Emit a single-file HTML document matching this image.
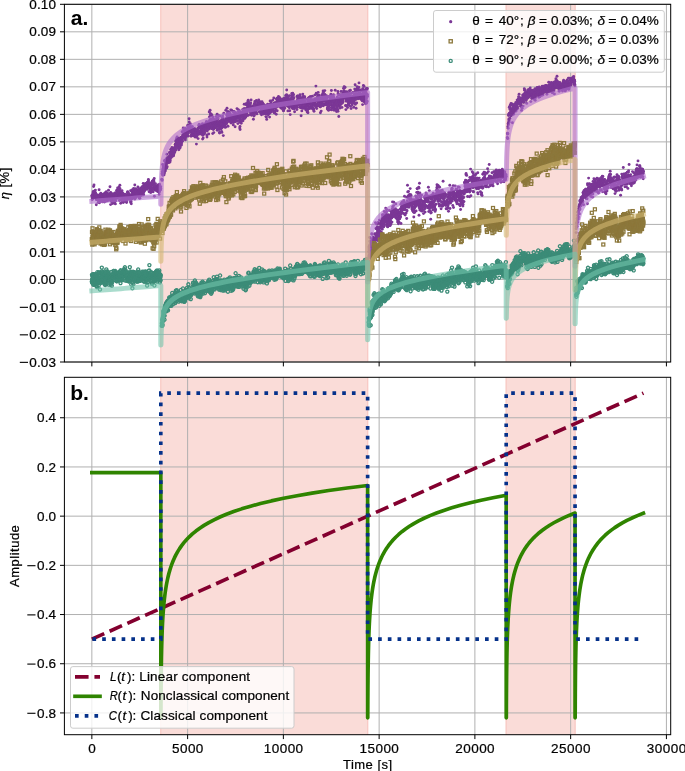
<!DOCTYPE html><html><head><meta charset="utf-8"><style>html,body{margin:0;padding:0;background:#fff}svg{display:block;will-change:transform}text{font-family:"Liberation Sans",sans-serif;stroke:#000;stroke-width:0.22px;paint-order:stroke}</style></head><body>
<svg width="685" height="771" viewBox="0 0 685 771">
<defs>
<clipPath id="c1"><rect x="64.4" y="4.3" width="606.3000000000001" height="357.7"/></clipPath>
<clipPath id="c2"><rect x="64.4" y="377.3" width="606.3000000000001" height="357.40000000000003"/></clipPath>
<marker id="m_purple" markerUnits="userSpaceOnUse" markerWidth="6" markerHeight="6" refX="3" refY="3" overflow="visible"><circle cx="3" cy="3" r="1.45" fill="#7b3796"/></marker>
<marker id="m_olive" markerUnits="userSpaceOnUse" markerWidth="8" markerHeight="8" refX="4" refY="4" overflow="visible"><rect x="2.5" y="2.5" width="3" height="3" fill="none" stroke="#8c783c" stroke-width="1.25"/></marker>
<marker id="m_teal" markerUnits="userSpaceOnUse" markerWidth="8" markerHeight="8" refX="4" refY="4" overflow="visible"><circle cx="4" cy="4" r="1.55" fill="none" stroke="#3c8c78" stroke-width="1.3"/></marker>
</defs>
<rect width="685" height="771" fill="#fff"/>
<rect x="160.20" y="4.3" width="208.04" height="357.70" fill="#fadcd8"/>
<path d="M160.80 4.3V362.0M367.64 4.3V362.0" stroke="#f8cac5" stroke-width="1.2"/>
<rect x="505.60" y="4.3" width="70.05" height="357.70" fill="#fadcd8"/>
<path d="M506.20 4.3V362.0M575.05 4.3V362.0" stroke="#f8cac5" stroke-width="1.2"/>
<path d="M91.85 4.3V362.0M187.61 4.3V362.0M283.37 4.3V362.0M379.13 4.3V362.0M474.89 4.3V362.0M570.65 4.3V362.0M666.41 4.3V362.0M64.4 4.30H670.7M64.4 31.82H670.7M64.4 59.33H670.7M64.4 86.84H670.7M64.4 114.36H670.7M64.4 141.88H670.7M64.4 169.39H670.7M64.4 196.91H670.7M64.4 224.42H670.7M64.4 251.94H670.7M64.4 279.45H670.7M64.4 306.97H670.7M64.4 334.48H670.7M64.4 362.00H670.7" stroke="#b0b0b0" stroke-width="1" fill="none"/>
<g clip-path="url(#c1)">
<polyline points="91.8 195.6 92.0 197.0 92.1 199.1 92.2 195.7 92.3 199.5 92.4 195.0 92.5 198.9 92.7 195.6 92.8 196.8 92.9 194.5 93.0 194.2 93.1 192.4 93.2 196.3 93.3 191.4 93.5 194.1 93.6 186.5 93.7 194.4 93.8 197.8 93.9 192.1 94.0 185.0 94.1 191.9 94.3 191.8 94.4 192.2 94.5 194.4 94.6 191.0 94.7 191.8 94.8 193.4 95.0 197.7 95.1 193.4 95.2 196.1 95.3 194.4 95.4 190.1 95.5 192.8 95.6 193.6 95.8 196.3 95.9 194.6 96.0 194.1 96.1 198.9 96.2 195.7 96.3 204.8 96.4 199.6 96.6 196.3 96.7 199.4 96.8 199.6 96.9 194.9 97.0 198.3 97.1 197.7 97.3 196.6 97.4 199.6 97.5 197.4 97.6 199.9 97.7 199.8 97.8 199.4 97.9 198.7 98.1 202.4 98.2 198.2 98.3 198.7 98.4 196.8 98.5 195.8 98.6 196.5 98.7 198.5 98.9 196.4 99.0 196.0 99.1 189.8 99.2 197.5 99.3 195.2 99.4 202.8 99.5 200.1 99.7 202.1 99.8 197.5 99.9 194.5 100.0 200.5 100.1 199.1 100.2 200.1 100.4 194.9 100.5 195.2 100.6 195.2 100.7 198.6 100.8 193.2 100.9 197.0 101.0 198.9 101.2 197.0 101.3 199.0 101.4 199.1 101.5 195.5 101.6 196.9 101.7 198.7 101.8 195.1 102.0 196.5 102.1 197.4 102.2 199.5 102.3 201.7 102.4 195.1 102.5 196.1 102.7 196.5 102.8 200.0 102.9 201.8 103.0 194.3 103.1 198.9 103.2 199.8 103.3 197.8 103.5 197.5 103.6 194.3 103.7 196.7 103.8 200.5 103.9 201.5 104.0 201.2 104.1 196.6 104.3 195.3 104.4 195.7 104.5 202.0 104.6 198.0 104.7 200.0 104.8 193.1 104.9 196.4 105.1 199.3 105.2 196.4 105.3 199.3 105.4 193.1 105.5 194.6 105.6 199.8 105.8 192.4 105.9 192.9 106.0 201.1 106.1 192.7 106.2 196.8 106.3 191.7 106.4 193.1 106.6 195.7 106.7 194.0 106.8 193.8 106.9 197.6 107.0 200.9 107.1 198.9 107.2 193.8 107.4 194.0 107.5 194.0 107.6 199.7 107.7 198.5 107.8 199.0 107.9 194.4 108.1 197.2 108.2 200.2 108.3 194.8 108.4 194.8 108.5 190.3 108.6 196.7 108.7 197.9 108.9 195.2 109.0 200.0 109.1 193.6 109.2 196.5 109.3 197.9 109.4 195.7 109.5 199.4 109.7 197.8 109.8 194.4 109.9 195.3 110.0 186.8 110.1 195.7 110.2 200.0 110.4 194.8 110.5 195.2 110.6 204.6 110.7 192.4 110.8 194.9 110.9 193.6 111.0 194.3 111.2 194.4 111.3 201.6 111.4 197.9 111.5 196.1 111.6 198.3 111.7 196.3 111.8 196.7 112.0 198.1 112.1 200.2 112.2 196.5 112.3 194.0 112.4 201.2 112.5 202.0 112.6 203.5 112.8 198.6 112.9 199.3 113.0 202.4 113.1 197.4 113.2 199.0 113.3 197.5 113.5 197.0 113.6 193.8 113.7 196.0 113.8 201.9 113.9 196.7 114.0 195.3 114.1 199.1 114.3 203.1 114.4 199.6 114.5 200.5 114.6 202.0 114.7 195.4 114.8 196.7 114.9 201.6 115.1 198.8 115.2 193.2 115.3 198.2 115.4 203.9 115.5 192.7 115.6 196.5 115.8 200.8 115.9 194.2 116.0 196.7 116.1 195.5 116.2 198.0 116.3 196.8 116.4 196.8 116.6 193.6 116.7 194.0 116.8 190.6 116.9 190.2 117.0 198.4 117.1 194.4 117.2 195.7 117.4 192.2 117.5 193.4 117.6 188.0 117.7 197.7 117.8 194.8 117.9 191.0 118.0 192.7 118.2 196.9 118.3 196.8 118.4 193.3 118.5 189.6 118.6 194.0 118.7 193.2 118.9 196.8 119.0 187.3 119.1 190.8 119.2 194.9 119.3 195.1 119.4 200.5 119.5 196.8 119.7 200.1 119.8 197.5 119.9 185.2 120.0 188.8 120.1 195.5 120.2 194.3 120.3 194.1 120.5 196.4 120.6 195.4 120.7 203.2 120.8 195.2 120.9 194.4 121.0 191.3 121.2 193.8 121.3 192.4 121.4 199.7 121.5 193.1 121.6 196.3 121.7 196.8 121.8 198.3 122.0 190.6 122.1 201.1 122.2 193.1 122.3 192.7 122.4 198.1 122.5 193.3 122.6 194.1 122.8 195.5 122.9 197.7 123.0 199.9 123.1 194.2 123.2 194.3 123.3 202.5 123.5 196.4 123.6 199.7 123.7 197.5 123.8 195.5 123.9 200.1 124.0 195.9 124.1 197.0 124.3 197.0 124.4 198.0 124.5 197.6 124.6 199.4 124.7 197.2 124.8 194.1 124.9 200.4 125.1 200.6 125.2 201.4 125.3 201.0 125.4 199.1 125.5 198.1 125.6 199.6 125.7 199.8 125.9 199.1 126.0 199.9 126.1 196.5 126.2 198.8 126.3 197.6 126.4 196.7 126.6 202.5 126.7 195.8 126.8 200.2 126.9 200.7 127.0 198.9 127.1 198.9 127.2 195.0 127.4 195.8 127.5 192.3 127.6 193.7 127.7 191.6 127.8 196.2 127.9 196.0 128.0 198.2 128.2 196.7 128.3 193.7 128.4 193.1 128.5 195.2 128.6 196.6 128.7 198.6 128.9 197.2 129.0 195.6 129.1 198.1 129.2 194.2 129.3 197.5 129.4 198.1 129.5 198.8 129.7 195.4 129.8 198.9 129.9 199.2 130.0 195.8 130.1 196.4 130.2 195.9 130.3 196.8 130.5 199.1 130.6 190.7 130.7 202.6 130.8 201.4 130.9 201.5 131.0 198.8 131.1 195.4 131.3 203.8 131.4 194.9 131.5 195.3 131.6 194.6 131.7 198.9 131.8 196.2 132.0 190.0 132.1 197.0 132.2 192.0 132.3 198.7 132.4 194.8 132.5 192.3 132.6 196.9 132.8 191.1 132.9 194.5 133.0 191.4 133.1 195.7 133.2 194.6 133.3 197.9 133.4 193.9 133.6 188.5 133.7 193.3 133.8 191.8 133.9 189.1 134.0 191.2 134.1 194.1 134.3 195.3 134.4 191.8 134.5 191.7 134.6 192.6 134.7 197.3 134.8 185.0 134.9 199.1 135.1 195.3 135.2 191.9 135.3 195.8 135.4 190.1 135.5 196.9 135.6 193.6 135.7 188.6 135.9 192.2 136.0 197.5 136.1 191.5 136.2 193.4 136.3 195.2 136.4 195.0 136.6 194.8 136.7 189.7 136.8 196.2 136.9 196.0 137.0 193.2 137.1 193.8 137.2 193.2 137.4 192.7 137.5 192.9 137.6 195.6 137.7 189.9 137.8 191.0 137.9 186.9 138.0 191.2 138.2 194.3 138.3 192.2 138.4 195.8 138.5 190.5 138.6 189.7 138.7 191.9 138.8 191.6 139.0 189.3 139.1 191.0 139.2 198.1 139.3 193.9 139.4 190.1 139.5 189.4 139.7 192.9 139.8 195.9 139.9 198.3 140.0 193.2 140.1 195.6 140.2 193.0 140.3 195.3 140.5 190.3 140.6 188.0 140.7 195.7 140.8 191.3 140.9 189.8 141.0 193.5 141.1 189.9 141.3 192.9 141.4 193.9 141.5 191.3 141.6 188.9 141.7 188.5 141.8 190.1 142.0 190.3 142.1 190.1 142.2 189.4 142.3 186.9 142.4 188.3 142.5 186.8 142.6 195.0 142.8 188.4 142.9 194.5 143.0 187.4 143.1 186.5 143.2 183.4 143.3 192.9 143.4 191.8 143.6 188.9 143.7 194.7 143.8 191.2 143.9 190.1 144.0 191.7 144.1 188.0 144.2 184.8 144.4 188.9 144.5 188.9 144.6 187.8 144.7 190.5 144.8 185.6 144.9 186.4 145.1 184.9 145.2 186.8 145.3 184.9 145.4 186.4 145.5 183.4 145.6 187.9 145.7 184.9 145.9 187.9 146.0 187.1 146.1 188.6 146.2 185.1 146.3 187.9 146.4 187.5 146.5 187.3 146.7 184.3 146.8 188.4 146.9 183.2 147.0 189.4 147.1 188.4 147.2 186.4 147.4 182.2 147.5 188.0 147.6 185.8 147.7 186.0 147.8 184.3 147.9 188.4 148.0 183.9 148.2 187.4 148.3 185.4 148.4 179.4 148.5 180.8 148.6 183.6 148.7 187.1 148.8 184.7 149.0 182.6 149.1 191.7 149.2 187.2 149.3 187.3 149.4 187.0 149.5 185.7 149.7 183.0 149.8 188.1 149.9 191.2 150.0 185.4 150.1 188.8 150.2 184.7 150.3 185.3 150.5 186.0 150.6 192.5 150.7 189.2 150.8 190.4 150.9 189.3 151.0 185.0 151.1 188.7 151.3 187.6 151.4 183.3 151.5 192.0 151.6 187.5 151.7 190.7 151.8 189.3 151.9 184.3 152.1 183.7 152.2 182.0 152.3 181.2 152.4 189.5 152.5 188.7 152.6 183.8 152.8 185.6 152.9 184.0 153.0 184.1 153.1 180.5 153.2 191.8 153.3 188.3 153.4 189.3 153.6 180.7 153.7 183.4 153.8 179.9 153.9 181.5 154.0 183.0 154.1 188.7 154.2 178.5 154.4 196.3 154.5 186.6 154.6 186.1 154.7 188.2 154.8 185.5 154.9 187.9 155.1 189.7 155.2 188.2 155.3 187.2 155.4 183.6 155.5 186.1 155.6 187.3 155.7 188.4 155.9 188.0 156.0 189.6 156.1 190.3 156.2 190.2 156.3 188.1 156.4 190.0 156.5 189.4 156.7 187.1 156.8 189.2 156.9 187.9 157.0 187.2 157.1 188.5 157.2 186.0 157.3 187.7 157.5 185.3 157.6 191.2 157.7 191.4 157.8 189.7 157.9 185.6 158.0 188.0 158.2 185.5 158.3 184.9 158.4 189.2 158.5 188.9 158.6 187.3 158.7 192.1 158.8 189.5 159.0 186.9 159.1 194.4 159.2 186.6 159.3 191.0 159.4 192.0 159.5 184.3 159.6 186.9 159.8 187.2 159.9 188.3 160.0 189.9 160.1 189.7 160.2 186.9 160.3 190.0 160.5 189.0 160.6 186.6 160.7 188.5 161.8 179.2 161.9 179.6 162.1 180.4 162.2 173.3 162.3 171.6 162.4 174.3 162.5 171.7 162.6 164.5 162.8 175.3 162.9 173.8 163.0 169.8 163.1 168.2 163.2 169.8 163.3 164.9 163.4 166.2 163.6 169.1 163.7 170.1 163.8 169.6 163.9 171.2 164.0 174.9 164.1 173.8 164.2 168.3 164.4 172.7 164.5 161.0 164.6 171.2 164.7 170.4 164.8 167.4 164.9 160.2 165.0 169.8 165.2 169.6 165.3 170.9 165.4 164.7 165.5 162.9 165.6 164.0 165.7 164.4 165.9 165.3 166.0 166.3 166.1 163.9 166.2 167.4 166.3 159.0 166.4 163.9 166.5 162.4 166.7 168.1 166.8 162.7 166.9 154.3 167.0 160.9 167.1 157.8 167.2 166.8 167.3 162.9 167.5 162.2 167.6 158.9 167.7 158.3 167.8 161.0 167.9 162.1 168.0 162.7 168.2 158.8 168.3 158.6 168.4 161.1 168.5 160.7 168.6 158.8 168.7 156.7 168.8 160.1 169.0 162.5 169.1 161.4 169.2 159.8 169.3 158.6 169.4 156.5 169.5 160.7 169.6 152.2 169.8 153.4 169.9 159.0 170.0 162.0 170.1 155.4 170.2 160.5 170.3 158.4 170.4 156.9 170.6 155.2 170.7 152.0 170.8 149.4 170.9 153.8 171.0 155.6 171.1 149.3 171.3 152.8 171.4 157.2 171.5 149.5 171.6 151.5 171.7 149.2 171.8 150.4 171.9 147.4 172.1 154.0 172.2 151.9 172.3 149.5 172.4 150.3 172.5 150.6 172.6 155.5 172.7 149.7 172.9 155.1 173.0 150.3 173.1 155.9 173.2 155.2 173.3 153.9 173.4 155.7 173.6 149.9 173.7 154.7 173.8 154.0 173.9 153.2 174.0 149.0 174.1 151.1 174.2 152.3 174.4 147.8 174.5 148.8 174.6 151.5 174.7 149.0 174.8 151.9 174.9 147.5 175.0 147.8 175.2 144.7 175.3 144.4 175.4 144.5 175.5 149.2 175.6 141.0 175.7 144.1 175.9 150.1 176.0 143.5 176.1 145.8 176.2 143.3 176.3 140.3 176.4 144.6 176.5 147.6 176.7 138.5 176.8 138.4 176.9 140.2 177.0 143.2 177.1 137.0 177.2 143.6 177.3 139.8 177.5 144.4 177.6 145.4 177.7 142.4 177.8 141.0 177.9 140.0 178.0 142.0 178.1 143.5 178.3 144.2 178.4 145.9 178.5 148.5 178.6 138.3 178.7 146.9 178.8 149.7 179.0 147.8 179.1 142.0 179.2 139.1 179.3 145.1 179.4 142.8 179.5 145.3 179.6 143.4 179.8 140.8 179.9 143.6 180.0 148.1 180.1 145.4 180.2 146.9 180.3 141.1 180.4 140.8 180.6 143.0 180.7 137.7 180.8 138.0 180.9 137.7 181.0 139.8 181.1 142.3 181.3 137.1 181.4 143.2 181.5 145.0 181.6 140.2 181.7 138.0 181.8 140.9 181.9 138.2 182.1 131.7 182.2 136.8 182.3 141.3 182.4 141.1 182.5 138.4 182.6 135.0 182.7 137.1 182.9 137.9 183.0 138.2 183.1 136.3 183.2 128.0 183.3 137.8 183.4 132.7 183.5 130.1 183.7 136.1 183.8 136.9 183.9 133.4 184.0 134.7 184.1 133.3 184.2 138.2 184.4 133.2 184.5 136.2 184.6 134.1 184.7 128.2 184.8 131.1 184.9 138.5 185.0 130.4 185.2 128.4 185.3 132.9 185.4 139.9 185.5 138.0 185.6 129.1 185.7 131.7 185.8 132.8 186.0 129.6 186.1 132.3 186.2 131.4 186.3 131.1 186.4 136.4 186.5 135.7 186.7 131.1 186.8 133.7 186.9 129.8 187.0 135.7 187.1 130.2 187.2 135.3 187.3 134.9 187.5 131.0 187.6 125.9 187.7 131.6 187.8 128.0 187.9 125.1 188.0 131.9 188.1 131.0 188.3 133.2 188.4 136.1 188.5 129.5 188.6 126.8 188.7 130.0 188.8 126.1 189.0 127.2 189.1 118.7 189.2 121.9 189.3 130.4 189.4 127.2 189.5 126.2 189.6 131.1 189.8 124.2 189.9 124.7 190.0 128.8 190.1 130.5 190.2 129.7 190.3 123.6 190.4 131.4 190.6 130.1 190.7 127.2 190.8 131.4 190.9 131.6 191.0 130.7 191.1 136.3 191.2 132.1 191.4 134.9 191.5 128.9 191.6 132.8 191.7 134.8 191.8 129.4 191.9 126.8 192.1 130.7 192.2 133.9 192.3 133.0 192.4 126.7 192.5 134.2 192.6 133.6 192.7 135.5 192.9 132.0 193.0 130.8 193.1 133.4 193.2 135.3 193.3 130.9 193.4 134.4 193.5 133.6 193.7 135.7 193.8 129.3 193.9 135.4 194.0 133.3 194.1 134.5 194.2 135.2 194.4 133.4 194.5 135.2 194.6 128.4 194.7 129.8 194.8 134.8 194.9 132.2 195.0 137.1 195.2 135.4 195.3 133.0 195.4 130.1 195.5 130.1 195.6 136.7 195.7 136.3 195.8 134.2 196.0 130.5 196.1 132.0 196.2 134.9 196.3 134.3 196.4 144.1 196.5 130.6 196.6 137.0 196.8 131.8 196.9 130.1 197.0 129.8 197.1 135.8 197.2 133.6 197.3 132.1 197.5 132.3 197.6 130.4 197.7 133.1 197.8 130.5 197.9 128.3 198.0 132.5 198.1 138.6 198.3 128.0 198.4 131.0 198.5 132.5 198.6 131.4 198.7 134.2 198.8 132.6 198.9 125.4 199.1 124.4 199.2 125.3 199.3 131.4 199.4 126.9 199.5 126.9 199.6 124.7 199.8 127.8 199.9 126.9 200.0 125.6 200.1 126.3 200.2 132.1 200.3 131.8 200.4 133.9 200.6 126.8 200.7 133.7 200.8 127.7 200.9 128.9 201.0 129.8 201.1 132.0 201.2 129.6 201.4 125.3 201.5 132.5 201.6 132.3 201.7 128.0 201.8 133.7 201.9 131.9 202.1 133.4 202.2 129.5 202.3 131.8 202.4 130.0 202.5 123.7 202.6 139.1 202.7 135.2 202.9 132.0 203.0 127.6 203.1 126.9 203.2 137.9 203.3 132.0 203.4 130.3 203.5 125.5 203.7 126.4 203.8 130.5 203.9 127.5 204.0 129.4 204.1 132.3 204.2 134.0 204.3 127.6 204.5 133.1 204.6 132.2 204.7 128.3 204.8 124.0 204.9 125.5 205.0 127.5 205.2 124.9 205.3 125.3 205.4 126.9 205.5 127.9 205.6 124.7 205.7 128.6 205.8 130.1 206.0 127.0 206.1 125.9 206.2 122.6 206.3 121.9 206.4 126.3 206.5 121.7 206.6 124.7 206.8 134.9 206.9 121.9 207.0 137.1 207.1 125.8 207.2 131.1 207.3 125.2 207.5 126.6 207.6 125.7 207.7 127.5 207.8 124.3 207.9 124.1 208.0 124.3 208.1 123.9 208.3 128.3 208.4 126.2 208.5 129.2 208.6 129.1 208.7 134.0 208.8 123.2 208.9 123.5 209.1 127.4 209.2 111.9 209.3 122.7 209.4 117.0 209.5 112.1 209.6 121.0 209.7 120.5 209.9 122.4 210.0 125.3 210.1 110.3 210.2 125.2 210.3 119.4 210.4 114.7 210.6 113.6 210.7 127.2 210.8 121.8 210.9 115.2 211.0 128.2 211.1 119.7 211.2 127.0 211.4 119.5 211.5 128.5 211.6 126.9 211.7 114.6 211.8 126.9 211.9 128.3 212.0 123.7 212.2 123.3 212.3 123.4 212.4 122.3 212.5 126.8 212.6 116.8 212.7 133.6 212.9 124.6 213.0 122.5 213.1 117.7 213.2 125.1 213.3 129.5 213.4 123.1 213.5 120.2 213.7 123.7 213.8 132.6 213.9 128.5 214.0 127.4 214.1 128.2 214.2 121.3 214.3 125.2 214.5 121.4 214.6 122.1 214.7 128.0 214.8 119.5 214.9 124.5 215.0 127.3 215.2 127.3 215.3 125.8 215.4 126.3 215.5 126.1 215.6 123.2 215.7 126.8 215.8 122.3 216.0 116.6 216.1 119.9 216.2 125.2 216.3 122.3 216.4 126.3 216.5 127.5 216.6 122.6 216.8 124.5 216.9 124.9 217.0 123.0 217.1 114.2 217.2 130.3 217.3 119.4 217.4 118.3 217.6 129.3 217.7 119.2 217.8 115.3 217.9 123.6 218.0 118.5 218.1 121.6 218.3 124.7 218.4 125.1 218.5 122.5 218.6 122.3 218.7 115.5 218.8 126.2 218.9 125.2 219.1 125.5 219.2 124.6 219.3 128.2 219.4 132.5 219.5 129.5 219.6 133.0 219.7 124.5 219.9 116.1 220.0 121.4 220.1 127.2 220.2 121.6 220.3 123.9 220.4 121.4 220.6 122.6 220.7 120.9 220.8 125.7 220.9 120.8 221.0 123.9 221.1 128.7 221.2 126.8 221.4 122.8 221.5 127.1 221.6 131.4 221.7 126.9 221.8 122.6 221.9 132.4 222.0 127.7 222.2 117.7 222.3 123.3 222.4 119.6 222.5 124.5 222.6 116.0 222.7 121.5 222.8 119.5 223.0 118.5 223.1 120.2 223.2 126.5 223.3 135.6 223.4 122.2 223.5 123.1 223.7 123.0 223.8 113.3 223.9 121.3 224.0 125.6 224.1 123.3 224.2 122.0 224.3 126.1 224.5 126.0 224.6 127.1 224.7 124.0 224.8 123.1 224.9 124.5 225.0 126.8 225.1 120.7 225.3 126.6 225.4 122.8 225.5 120.8 225.6 127.2 225.7 118.7 225.8 110.3 226.0 120.6 226.1 119.7 226.2 122.0 226.3 119.9 226.4 124.0 226.5 121.1 226.6 115.0 226.8 122.8 226.9 117.9 227.0 108.2 227.1 119.0 227.2 119.4 227.3 117.0 227.4 115.7 227.6 113.2 227.7 111.7 227.8 117.9 227.9 111.8 228.0 126.3 228.1 117.2 228.3 117.0 228.4 115.4 228.5 119.3 228.6 112.6 228.7 119.8 228.8 115.6 228.9 121.5 229.1 117.5 229.2 115.8 229.3 112.4 229.4 114.0 229.5 114.3 229.6 120.2 229.7 117.9 229.9 116.1 230.0 113.2 230.1 120.1 230.2 120.0 230.3 118.0 230.4 115.9 230.5 120.4 230.7 110.0 230.8 118.3 230.9 122.6 231.0 120.7 231.1 123.0 231.2 118.8 231.4 121.3 231.5 119.3 231.6 110.3 231.7 117.1 231.8 115.2 231.9 120.4 232.0 117.6 232.2 115.7 232.3 121.1 232.4 117.7 232.5 114.9 232.6 117.7 232.7 117.6 232.8 122.1 233.0 116.9 233.1 111.8 233.2 118.6 233.3 124.9 233.4 120.1 233.5 122.6 233.7 117.4 233.8 115.5 233.9 114.6 234.0 111.4 234.1 119.9 234.2 121.5 234.3 116.0 234.5 119.4 234.6 115.7 234.7 121.3 234.8 120.8 234.9 113.5 235.0 120.7 235.1 126.7 235.3 115.4 235.4 121.5 235.5 112.5 235.6 116.6 235.7 117.3 235.8 121.3 235.9 120.4 236.1 117.9 236.2 116.5 236.3 117.8 236.4 115.0 236.5 117.0 236.6 116.7 236.8 114.0 236.9 115.5 237.0 108.6 237.1 120.7 237.2 114.4 237.3 114.9 237.4 116.6 237.6 118.3 237.7 117.4 237.8 114.4 237.9 123.6 238.0 117.7 238.1 113.8 238.2 109.6 238.4 118.0 238.5 111.6 238.6 117.6 238.7 117.6 238.8 113.8 238.9 114.7 239.1 110.4 239.2 112.7 239.3 118.3 239.4 116.9 239.5 120.3 239.6 122.0 239.7 128.0 239.9 121.3 240.0 126.4 240.1 129.5 240.2 111.8 240.3 117.3 240.4 118.0 240.5 113.6 240.7 120.8 240.8 122.2 240.9 120.5 241.0 115.7 241.1 116.5 241.2 123.2 241.4 114.4 241.5 117.3 241.6 114.9 241.7 115.4 241.8 115.8 241.9 120.6 242.0 114.4 242.2 112.2 242.3 114.9 242.4 115.2 242.5 114.5 242.6 109.6 242.7 112.9 242.8 119.1 243.0 120.7 243.1 115.6 243.2 115.9 243.3 111.3 243.4 113.5 243.5 111.4 243.6 115.7 243.8 114.8 243.9 108.6 244.0 110.2 244.1 111.8 244.2 104.2 244.3 117.5 244.5 118.4 244.6 118.2 244.7 117.5 244.8 111.1 244.9 108.8 245.0 114.4 245.1 117.4 245.3 113.9 245.4 116.5 245.5 115.1 245.6 116.6 245.7 109.0 245.8 117.1 245.9 112.9 246.1 103.7 246.2 104.8 246.3 110.6 246.4 112.5 246.5 112.9 246.6 112.7 246.8 111.1 246.9 113.0 247.0 104.0 247.1 109.9 247.2 107.6 247.3 104.6 247.4 105.5 247.6 115.5 247.7 109.8 247.8 101.9 247.9 105.3 248.0 103.0 248.1 106.9 248.2 100.2 248.4 108.2 248.5 104.6 248.6 102.1 248.7 115.1 248.8 106.5 248.9 105.3 249.0 109.5 249.2 107.7 249.3 104.5 249.4 111.0 249.5 109.4 249.6 108.2 249.7 107.1 249.9 105.4 250.0 107.1 250.1 112.4 250.2 104.5 250.3 108.2 250.4 110.0 250.5 108.9 250.7 102.9 250.8 113.9 250.9 109.4 251.0 109.2 251.1 100.0 251.2 108.4 251.3 108.5 251.5 115.3 251.6 108.9 251.7 106.9 251.8 110.1 251.9 112.2 252.0 111.8 252.2 113.7 252.3 109.5 252.4 112.5 252.5 108.1 252.6 106.5 252.7 113.5 252.8 106.0 253.0 107.5 253.1 108.9 253.2 107.8 253.3 111.7 253.4 119.3 253.5 111.5 253.6 109.3 253.8 109.5 253.9 116.1 254.0 110.6 254.1 110.8 254.2 115.3 254.3 103.8 254.5 112.6 254.6 104.6 254.7 109.5 254.8 101.4 254.9 107.2 255.0 103.2 255.1 111.2 255.3 107.4 255.4 113.3 255.5 107.8 255.6 106.3 255.7 109.5 255.8 107.8 255.9 108.5 256.1 110.7 256.2 107.6 256.3 110.3 256.4 100.5 256.5 112.6 256.6 108.1 256.7 105.4 256.9 113.9 257.0 109.0 257.1 104.8 257.2 107.2 257.3 109.4 257.4 101.9 257.6 104.0 257.7 105.1 257.8 107.0 257.9 108.3 258.0 108.6 258.1 106.2 258.2 102.6 258.4 107.5 258.5 104.7 258.6 103.8 258.7 100.0 258.8 103.1 258.9 103.4 259.0 103.5 259.2 104.9 259.3 111.8 259.4 107.7 259.5 107.1 259.6 106.6 259.7 111.4 259.9 107.2 260.0 101.6 260.1 103.2 260.2 106.8 260.3 105.0 260.4 111.9 260.5 111.3 260.7 109.6 260.8 113.4 260.9 102.9 261.0 105.8 261.1 107.6 261.2 111.2 261.3 104.0 261.5 114.8 261.6 112.7 261.7 105.4 261.8 108.0 261.9 108.2 262.0 101.7 262.1 103.3 262.3 111.7 262.4 108.7 262.5 109.5 262.6 103.3 262.7 107.6 262.8 106.3 263.0 103.6 263.1 106.6 263.2 106.9 263.3 108.1 263.4 108.7 263.5 114.0 263.6 104.8 263.8 112.1 263.9 113.4 264.0 112.2 264.1 109.9 264.2 111.0 264.3 112.7 264.4 105.9 264.6 105.3 264.7 107.7 264.8 107.3 264.9 110.4 265.0 107.1 265.1 108.7 265.3 111.3 265.4 110.1 265.5 113.1 265.6 113.6 265.7 112.4 265.8 111.1 265.9 116.6 266.1 113.7 266.2 108.0 266.3 109.4 266.4 117.1 266.5 113.5 266.6 113.4 266.7 119.4 266.9 113.6 267.0 109.0 267.1 109.3 267.2 110.7 267.3 106.1 267.4 111.8 267.6 104.2 267.7 108.2 267.8 108.7 267.9 109.1 268.0 107.5 268.1 107.4 268.2 114.8 268.4 110.7 268.5 107.1 268.6 111.9 268.7 108.2 268.8 113.3 268.9 106.7 269.0 104.7 269.2 107.4 269.3 109.7 269.4 113.6 269.5 112.0 269.6 117.1 269.7 109.1 269.8 110.2 270.0 112.3 270.1 101.0 270.2 110.1 270.3 104.6 270.4 107.3 270.5 104.2 270.7 110.4 270.8 101.1 270.9 105.0 271.0 103.2 271.1 101.5 271.2 110.0 271.3 108.6 271.5 112.0 271.6 110.0 271.7 104.1 271.8 105.7 271.9 106.8 272.0 106.5 272.1 109.5 272.3 106.8 272.4 105.8 272.5 104.7 272.6 107.5 272.7 105.8 272.8 100.1 273.0 109.1 273.1 106.8 273.2 106.2 273.3 110.6 273.4 104.2 273.5 104.3 273.6 108.0 273.8 98.0 273.9 105.7 274.0 103.1 274.1 111.6 274.2 112.7 274.3 103.5 274.4 111.0 274.6 103.5 274.7 112.7 274.8 112.0 274.9 102.6 275.0 106.6 275.1 107.4 275.2 103.5 275.4 105.0 275.5 107.6 275.6 105.3 275.7 110.0 275.8 106.6 275.9 105.5 276.1 105.2 276.2 114.3 276.3 107.4 276.4 99.1 276.5 102.7 276.6 103.9 276.7 103.5 276.9 101.4 277.0 98.2 277.1 99.4 277.2 110.7 277.3 99.9 277.4 101.2 277.5 101.2 277.7 106.6 277.8 103.0 277.9 99.0 278.0 105.3 278.1 103.4 278.2 99.3 278.4 101.4 278.5 96.5 278.6 100.1 278.7 101.4 278.8 97.7 278.9 105.5 279.0 98.9 279.2 100.2 279.3 97.5 279.4 105.6 279.5 97.7 279.6 106.2 279.7 104.3 279.8 103.4 280.0 98.6 280.1 100.1 280.2 105.3 280.3 102.8 280.4 103.3 280.5 101.2 280.7 107.6 280.8 103.7 280.9 101.7 281.0 108.1 281.1 105.7 281.2 102.9 281.3 102.4 281.5 107.4 281.6 107.1 281.7 107.5 281.8 108.0 281.9 107.1 282.0 103.7 282.1 108.6 282.3 99.0 282.4 106.7 282.5 101.2 282.6 106.0 282.7 106.4 282.8 100.6 282.9 101.9 283.1 102.3 283.2 100.4 283.3 110.6 283.4 106.1 283.5 100.3 283.6 110.7 283.8 106.6 283.9 102.6 284.0 105.5 284.1 108.9 284.2 104.3 284.3 98.1 284.4 104.4 284.6 100.8 284.7 98.4 284.8 104.9 284.9 107.9 285.0 101.5 285.1 100.5 285.2 101.9 285.4 104.4 285.5 97.6 285.6 105.1 285.7 95.4 285.8 102.7 285.9 103.3 286.1 97.9 286.2 104.0 286.3 100.3 286.4 104.8 286.5 99.5 286.6 94.7 286.7 90.0 286.9 101.1 287.0 100.0 287.1 97.4 287.2 105.8 287.3 95.8 287.4 102.9 287.5 96.7 287.7 98.1 287.8 105.3 287.9 110.9 288.0 100.3 288.1 102.7 288.2 98.0 288.3 97.0 288.5 100.2 288.6 106.9 288.7 105.5 288.8 103.1 288.9 101.6 289.0 106.6 289.2 106.4 289.3 105.6 289.4 107.7 289.5 103.7 289.6 95.6 289.7 110.8 289.8 105.3 290.0 103.9 290.1 105.0 290.2 114.6 290.3 100.5 290.4 102.0 290.5 98.9 290.6 99.8 290.8 101.1 290.9 101.4 291.0 98.7 291.1 103.0 291.2 103.5 291.3 106.2 291.5 101.4 291.6 98.1 291.7 104.9 291.8 93.4 291.9 96.2 292.0 95.0 292.1 103.5 292.3 100.5 292.4 107.6 292.5 108.6 292.6 103.5 292.7 93.2 292.8 108.0 292.9 106.8 293.1 106.3 293.2 97.6 293.3 100.2 293.4 106.5 293.5 106.1 293.6 94.8 293.8 104.4 293.9 105.5 294.0 97.7 294.1 108.8 294.2 106.2 294.3 105.5 294.4 102.4 294.6 111.8 294.7 102.1 294.8 103.2 294.9 104.9 295.0 107.0 295.1 103.7 295.2 102.4 295.4 107.6 295.5 106.2 295.6 102.6 295.7 105.7 295.8 105.0 295.9 103.7 296.0 104.2 296.2 106.3 296.3 103.3 296.4 101.7 296.5 101.6 296.6 106.2 296.7 107.2 296.9 109.5 297.0 101.0 297.1 96.3 297.2 103.2 297.3 104.6 297.4 99.8 297.5 96.2 297.7 97.6 297.8 105.2 297.9 96.0 298.0 103.0 298.1 98.8 298.2 97.1 298.3 99.0 298.5 101.2 298.6 100.8 298.7 103.9 298.8 100.9 298.9 99.8 299.0 101.6 299.2 103.6 299.3 101.9 299.4 98.6 299.5 104.6 299.6 107.3 299.7 96.3 299.8 103.6 300.0 94.7 300.1 95.8 300.2 104.4 300.3 102.5 300.4 103.1 300.5 103.4 300.6 98.2 300.8 98.1 300.9 107.7 301.0 100.2 301.1 115.8 301.2 102.5 301.3 106.5 301.4 104.6 301.6 98.8 301.7 100.4 301.8 110.9 301.9 104.3 302.0 108.1 302.1 102.8 302.3 102.9 302.4 101.6 302.5 106.5 302.6 106.1 302.7 97.3 302.8 94.1 302.9 103.2 303.1 108.4 303.2 96.5 303.3 100.2 303.4 101.3 303.5 102.3 303.6 96.9 303.7 102.9 303.9 97.8 304.0 103.3 304.1 101.5 304.2 103.8 304.3 106.9 304.4 104.3 304.6 101.1 304.7 96.7 304.8 108.0 304.9 98.4 305.0 107.3 305.1 104.4 305.2 102.5 305.4 100.8 305.5 104.2 305.6 108.3 305.7 109.7 305.8 106.8 305.9 106.5 306.0 104.4 306.2 106.5 306.3 107.7 306.4 103.6 306.5 104.9 306.6 109.4 306.7 109.3 306.9 109.4 307.0 110.9 307.1 103.8 307.2 112.1 307.3 104.7 307.4 99.2 307.5 110.8 307.7 105.8 307.8 101.4 307.9 103.8 308.0 112.7 308.1 98.4 308.2 104.2 308.3 103.0 308.5 104.6 308.6 101.4 308.7 108.7 308.8 107.2 308.9 102.4 309.0 97.4 309.1 102.6 309.3 107.0 309.4 102.2 309.5 108.3 309.6 100.4 309.7 108.1 309.8 100.6 310.0 102.6 310.1 107.3 310.2 96.6 310.3 103.7 310.4 101.8 310.5 103.4 310.6 97.7 310.8 96.8 310.9 105.4 311.0 105.0 311.1 108.3 311.2 105.3 311.3 104.3 311.4 108.0 311.6 100.3 311.7 104.7 311.8 100.0 311.9 107.2 312.0 106.1 312.1 100.3 312.3 105.2 312.4 96.2 312.5 100.0 312.6 107.9 312.7 104.6 312.8 102.7 312.9 105.2 313.1 108.5 313.2 109.1 313.3 108.8 313.4 109.1 313.5 100.3 313.6 101.0 313.7 109.9 313.9 103.4 314.0 111.3 314.1 105.3 314.2 104.9 314.3 102.8 314.4 104.9 314.5 99.3 314.7 101.9 314.8 95.1 314.9 101.6 315.0 103.7 315.1 105.4 315.2 99.5 315.4 98.6 315.5 104.9 315.6 99.8 315.7 100.7 315.8 107.0 315.9 86.1 316.0 106.6 316.2 93.3 316.3 100.7 316.4 104.1 316.5 94.4 316.6 99.0 316.7 108.5 316.8 101.1 317.0 104.0 317.1 100.8 317.2 97.4 317.3 100.1 317.4 105.4 317.5 99.9 317.7 97.4 317.8 99.4 317.9 105.6 318.0 105.2 318.1 96.1 318.2 92.4 318.3 95.7 318.5 102.3 318.6 105.5 318.7 95.9 318.8 97.1 318.9 100.1 319.0 95.1 319.1 98.9 319.3 95.5 319.4 99.9 319.5 97.1 319.6 106.3 319.7 103.3 319.8 98.2 320.0 99.9 320.1 103.4 320.2 106.9 320.3 106.8 320.4 112.7 320.5 101.2 320.6 100.7 320.8 105.4 320.9 106.0 321.0 104.0 321.1 98.3 321.2 111.1 321.3 103.2 321.4 100.3 321.6 98.8 321.7 101.6 321.8 101.5 321.9 98.5 322.0 104.3 322.1 101.9 322.2 95.0 322.4 101.1 322.5 105.2 322.6 97.4 322.7 96.2 322.8 93.4 322.9 97.9 323.1 90.9 323.2 104.0 323.3 105.7 323.4 100.1 323.5 101.4 323.6 97.0 323.7 92.0 323.9 98.8 324.0 99.9 324.1 95.8 324.2 99.8 324.3 97.4 324.4 97.3 324.5 104.2 324.7 104.8 324.8 90.6 324.9 94.5 325.0 99.4 325.1 99.7 325.2 98.7 325.4 104.5 325.5 100.0 325.6 98.1 325.7 100.3 325.8 102.1 325.9 104.2 326.0 102.3 326.2 104.9 326.3 104.2 326.4 95.6 326.5 104.6 326.6 100.4 326.7 104.9 326.8 97.5 327.0 96.7 327.1 98.4 327.2 97.6 327.3 108.9 327.4 102.5 327.5 107.7 327.6 102.2 327.8 107.8 327.9 100.7 328.0 101.2 328.1 104.0 328.2 109.9 328.3 103.2 328.5 110.2 328.6 107.0 328.7 109.1 328.8 106.4 328.9 102.9 329.0 96.4 329.1 96.4 329.3 103.7 329.4 104.3 329.5 101.3 329.6 102.1 329.7 109.8 329.8 105.0 329.9 104.6 330.1 103.8 330.2 99.4 330.3 100.4 330.4 97.3 330.5 99.6 330.6 96.8 330.8 97.7 330.9 94.3 331.0 99.8 331.1 104.2 331.2 107.6 331.3 99.1 331.4 90.5 331.6 109.9 331.7 96.2 331.8 102.0 331.9 102.6 332.0 108.0 332.1 98.7 332.2 105.4 332.4 98.6 332.5 105.8 332.6 101.2 332.7 97.7 332.8 106.3 332.9 97.8 333.1 105.8 333.2 104.7 333.3 102.4 333.4 100.9 333.5 94.7 333.6 96.7 333.7 99.9 333.9 99.2 334.0 98.1 334.1 110.3 334.2 107.4 334.3 105.7 334.4 108.9 334.5 103.7 334.7 108.7 334.8 101.4 334.9 103.5 335.0 103.3 335.1 104.7 335.2 90.2 335.3 109.2 335.5 105.4 335.6 99.4 335.7 103.8 335.8 99.8 335.9 103.1 336.0 109.5 336.2 105.4 336.3 103.3 336.4 109.1 336.5 111.6 336.6 99.0 336.7 104.9 336.8 108.7 337.0 100.7 337.1 99.1 337.2 97.3 337.3 106.9 337.4 97.9 337.5 100.2 337.6 100.2 337.8 109.4 337.9 91.4 338.0 111.3 338.1 93.4 338.2 102.6 338.3 106.2 338.5 95.0 338.6 99.6 338.7 103.7 338.8 116.5 338.9 100.0 339.0 95.0 339.1 102.9 339.3 102.1 339.4 98.2 339.5 101.1 339.6 105.9 339.7 101.9 339.8 101.4 339.9 105.1 340.1 108.1 340.2 105.1 340.3 95.5 340.4 104.2 340.5 100.5 340.6 101.5 340.7 94.7 340.9 98.9 341.0 102.1 341.1 91.5 341.2 102.1 341.3 97.2 341.4 100.2 341.6 103.1 341.7 100.6 341.8 95.3 341.9 97.3 342.0 107.4 342.1 103.2 342.2 94.6 342.4 96.3 342.5 101.2 342.6 100.2 342.7 97.0 342.8 99.5 342.9 100.5 343.0 102.1 343.2 95.4 343.3 93.1 343.4 93.7 343.5 96.1 343.6 88.2 343.7 91.5 343.9 90.8 344.0 96.4 344.1 86.8 344.2 91.0 344.3 98.2 344.4 93.0 344.5 97.6 344.7 96.3 344.8 94.8 344.9 87.1 345.0 87.6 345.1 93.7 345.2 95.6 345.3 93.9 345.5 92.1 345.6 92.8 345.7 105.4 345.8 105.7 345.9 109.6 346.0 96.1 346.2 101.3 346.3 98.7 346.4 93.3 346.5 100.3 346.6 96.3 346.7 91.8 346.8 99.3 347.0 98.2 347.1 100.6 347.2 106.0 347.3 97.6 347.4 96.0 347.5 92.5 347.6 107.5 347.8 97.1 347.9 97.6 348.0 94.2 348.1 101.0 348.2 99.9 348.3 104.4 348.4 103.0 348.6 103.7 348.7 93.7 348.8 103.0 348.9 96.2 349.0 98.9 349.1 104.9 349.3 94.0 349.4 93.6 349.5 90.7 349.6 101.4 349.7 97.2 349.8 97.4 349.9 98.3 350.1 96.1 350.2 96.4 350.3 101.7 350.4 90.3 350.5 106.4 350.6 102.6 350.7 96.4 350.9 98.5 351.0 102.0 351.1 108.6 351.2 93.5 351.3 101.3 351.4 100.2 351.6 102.8 351.7 99.0 351.8 101.8 351.9 99.3 352.0 98.4 352.1 98.2 352.2 104.7 352.4 100.9 352.5 97.3 352.6 99.0 352.7 99.0 352.8 92.6 352.9 92.6 353.0 102.5 353.2 97.9 353.3 100.7 353.4 95.6 353.5 98.0 353.6 100.1 353.7 107.3 353.8 98.8 354.0 97.8 354.1 100.9 354.2 95.6 354.3 102.7 354.4 95.3 354.5 103.2 354.7 89.1 354.8 99.5 354.9 94.3 355.0 91.4 355.1 84.8 355.2 97.0 355.3 104.4 355.5 95.5 355.6 97.7 355.7 96.2 355.8 95.3 355.9 99.4 356.0 93.9 356.1 108.3 356.3 93.9 356.4 93.7 356.5 91.3 356.6 89.3 356.7 103.0 356.8 95.9 357.0 86.7 357.1 94.8 357.2 94.6 357.3 95.6 357.4 96.3 357.5 96.6 357.6 91.1 357.8 89.8 357.9 89.1 358.0 98.8 358.1 97.9 358.2 89.0 358.3 91.0 358.4 93.7 358.6 94.9 358.7 87.2 358.8 95.6 358.9 98.0 359.0 82.9 359.1 93.6 359.3 92.8 359.4 93.1 359.5 97.5 359.6 93.7 359.7 98.1 359.8 95.1 359.9 93.7 360.1 97.1 360.2 96.2 360.3 95.7 360.4 90.0 360.5 98.9 360.6 90.7 360.7 98.1 360.9 97.9 361.0 95.9 361.1 94.2 361.2 98.3 361.3 94.4 361.4 98.5 361.5 96.8 361.7 99.9 361.8 95.9 361.9 95.8 362.0 95.1 362.1 100.7 362.2 91.2 362.4 96.3 362.5 95.2 362.6 104.6 362.7 93.5 362.8 88.9 362.9 94.2 363.0 88.8 363.2 93.8 363.3 90.5 363.4 85.5 363.5 96.3 363.6 91.1 363.7 101.5 363.8 97.1 364.0 98.7 364.1 86.4 364.2 96.4 364.3 99.2 364.4 90.4 364.5 93.3 364.7 100.7 364.8 101.6 364.9 91.7 365.0 96.1 365.1 100.6 365.2 98.3 365.3 96.0 365.5 103.7 365.6 97.4 365.7 94.5 365.8 98.6 365.9 90.0 366.0 92.4 366.1 95.6 366.3 98.2 366.4 88.4 366.5 88.9 366.6 95.2 366.7 103.0 366.8 100.6 366.9 89.4 367.1 94.5 367.2 101.6 367.3 94.7 367.4 88.4 367.5 96.5 368.7 251.8 368.8 257.7 368.9 255.9 369.0 247.9 369.1 246.4 369.2 249.6 369.4 251.2 369.5 254.2 369.6 237.4 369.7 245.5 369.8 241.5 369.9 244.5 370.1 254.0 370.2 240.6 370.3 246.0 370.4 237.9 370.5 242.1 370.6 246.6 370.7 247.3 370.9 255.1 371.0 242.7 371.1 250.4 371.2 254.0 371.3 242.0 371.4 247.5 371.5 253.6 371.7 233.7 371.8 243.7 371.9 241.7 372.0 253.5 372.1 234.2 372.2 242.8 372.4 246.6 372.5 239.2 372.6 243.9 372.7 245.6 372.8 240.7 372.9 257.6 373.0 250.0 373.2 236.9 373.3 244.5 373.4 245.7 373.5 238.8 373.6 240.9 373.7 248.8 373.8 244.4 374.0 240.7 374.1 246.1 374.2 243.3 374.3 238.7 374.4 244.2 374.5 238.5 374.6 241.7 374.8 233.8 374.9 239.5 375.0 250.7 375.1 242.2 375.2 234.1 375.3 239.3 375.5 222.7 375.6 243.1 375.7 237.8 375.8 234.4 375.9 235.7 376.0 228.3 376.1 237.1 376.3 239.7 376.4 228.8 376.5 224.1 376.6 234.6 376.7 229.1 376.8 235.2 376.9 232.7 377.1 229.5 377.2 237.6 377.3 227.8 377.4 226.8 377.5 240.5 377.6 237.6 377.8 223.2 377.9 231.7 378.0 233.7 378.1 222.4 378.2 231.3 378.3 230.3 378.4 231.8 378.6 232.6 378.7 229.8 378.8 230.2 378.9 236.6 379.0 223.6 379.1 235.7 379.2 230.9 379.4 220.1 379.5 227.2 379.6 228.2 379.7 232.8 379.8 235.3 379.9 227.4 380.0 230.9 380.2 238.8 380.3 237.3 380.4 232.2 380.5 242.7 380.6 227.7 380.7 225.1 380.9 232.0 381.0 222.9 381.1 223.9 381.2 235.2 381.3 223.1 381.4 221.2 381.5 232.4 381.7 226.4 381.8 223.0 381.9 225.6 382.0 220.5 382.1 218.3 382.2 229.3 382.3 224.8 382.5 214.6 382.6 216.0 382.7 221.1 382.8 219.0 382.9 219.2 383.0 219.9 383.2 219.0 383.3 223.4 383.4 227.1 383.5 214.6 383.6 219.4 383.7 226.7 383.8 215.9 384.0 217.7 384.1 221.3 384.2 211.4 384.3 224.1 384.4 218.7 384.5 225.0 384.6 217.4 384.8 221.9 384.9 220.5 385.0 217.9 385.1 217.5 385.2 215.2 385.3 212.2 385.5 216.7 385.6 221.0 385.7 208.1 385.8 213.1 385.9 215.7 386.0 212.3 386.1 216.3 386.3 218.6 386.4 218.2 386.5 211.5 386.6 209.4 386.7 226.1 386.8 223.8 386.9 214.8 387.1 222.2 387.2 215.8 387.3 218.0 387.4 222.7 387.5 220.6 387.6 222.4 387.7 226.9 387.9 218.2 388.0 225.8 388.1 220.0 388.2 225.2 388.3 226.0 388.4 217.1 388.6 214.8 388.7 224.9 388.8 221.2 388.9 222.3 389.0 216.8 389.1 216.2 389.2 210.4 389.4 221.2 389.5 222.9 389.6 225.5 389.7 219.7 389.8 220.9 389.9 218.9 390.0 217.0 390.2 225.5 390.3 218.8 390.4 220.3 390.5 217.2 390.6 217.4 390.7 210.9 390.9 222.0 391.0 224.0 391.1 215.5 391.2 214.4 391.3 215.0 391.4 213.1 391.5 216.3 391.7 212.9 391.8 218.1 391.9 212.9 392.0 222.1 392.1 211.0 392.2 216.8 392.3 208.7 392.5 201.9 392.6 211.7 392.7 206.6 392.8 216.3 392.9 208.9 393.0 214.4 393.1 208.8 393.3 212.6 393.4 212.4 393.5 216.5 393.6 213.3 393.7 205.6 393.8 202.2 394.0 209.2 394.1 214.7 394.2 210.6 394.3 216.1 394.4 210.6 394.5 211.0 394.6 211.6 394.8 211.6 394.9 211.5 395.0 213.6 395.1 209.4 395.2 210.2 395.3 212.5 395.4 208.6 395.6 217.5 395.7 212.1 395.8 203.9 395.9 210.6 396.0 216.4 396.1 214.9 396.3 212.0 396.4 211.3 396.5 218.3 396.6 214.3 396.7 216.5 396.8 216.3 396.9 218.2 397.1 210.1 397.2 214.9 397.3 219.5 397.4 216.4 397.5 212.2 397.6 221.9 397.7 216.5 397.9 216.3 398.0 210.1 398.1 212.3 398.2 220.8 398.3 218.4 398.4 223.8 398.6 213.2 398.7 218.9 398.8 219.1 398.9 214.5 399.0 218.6 399.1 222.1 399.2 213.1 399.4 215.1 399.5 214.4 399.6 218.8 399.7 217.0 399.8 218.6 399.9 212.2 400.0 217.1 400.2 213.0 400.3 209.0 400.4 216.8 400.5 216.8 400.6 211.5 400.7 214.3 400.8 204.3 401.0 223.5 401.1 212.5 401.2 209.2 401.3 210.1 401.4 207.1 401.5 203.0 401.7 206.9 401.8 210.0 401.9 204.6 402.0 210.3 402.1 210.7 402.2 207.8 402.3 202.0 402.5 204.3 402.6 207.7 402.7 213.1 402.8 206.3 402.9 203.7 403.0 208.4 403.1 204.8 403.3 205.5 403.4 205.5 403.5 209.5 403.6 206.8 403.7 213.5 403.8 200.4 404.0 202.3 404.1 206.9 404.2 207.5 404.3 204.7 404.4 208.3 404.5 196.3 404.6 208.8 404.8 209.7 404.9 214.6 405.0 207.8 405.1 204.1 405.2 215.1 405.3 203.9 405.4 202.7 405.6 203.6 405.7 205.6 405.8 204.2 405.9 204.2 406.0 204.7 406.1 204.3 406.2 212.9 406.4 210.1 406.5 197.1 406.6 206.5 406.7 218.5 406.8 206.7 406.9 206.0 407.1 210.7 407.2 203.7 407.3 200.7 407.4 207.1 407.5 185.3 407.6 202.9 407.7 191.9 407.9 206.3 408.0 197.3 408.1 204.8 408.2 196.0 408.3 204.6 408.4 203.2 408.5 191.5 408.7 196.2 408.8 198.2 408.9 206.1 409.0 207.3 409.1 195.3 409.2 203.3 409.4 202.9 409.5 203.0 409.6 194.4 409.7 199.8 409.8 202.1 409.9 202.1 410.0 201.5 410.2 188.6 410.3 197.5 410.4 196.1 410.5 202.0 410.6 201.1 410.7 199.4 410.8 194.7 411.0 198.9 411.1 195.6 411.2 205.0 411.3 201.1 411.4 200.7 411.5 202.7 411.7 205.7 411.8 205.4 411.9 208.9 412.0 206.8 412.1 206.7 412.2 202.4 412.3 209.1 412.5 210.8 412.6 201.6 412.7 207.9 412.8 199.7 412.9 203.9 413.0 208.4 413.1 209.8 413.3 201.4 413.4 209.2 413.5 212.0 413.6 210.4 413.7 204.0 413.8 217.0 413.9 212.2 414.1 210.6 414.2 207.1 414.3 211.3 414.4 208.3 414.5 199.8 414.6 212.6 414.8 207.2 414.9 205.6 415.0 204.5 415.1 202.8 415.2 203.7 415.3 206.1 415.4 201.4 415.6 200.8 415.7 195.9 415.8 204.5 415.9 206.3 416.0 202.5 416.1 210.9 416.2 204.7 416.4 204.5 416.5 204.9 416.6 197.3 416.7 192.4 416.8 198.2 416.9 202.9 417.1 188.6 417.2 199.2 417.3 188.7 417.4 196.8 417.5 198.4 417.6 198.9 417.7 201.1 417.9 192.1 418.0 202.6 418.1 193.1 418.2 204.6 418.3 202.1 418.4 194.7 418.5 199.9 418.7 187.1 418.8 206.0 418.9 194.2 419.0 215.2 419.1 188.1 419.2 207.7 419.3 200.2 419.5 183.3 419.6 204.3 419.7 202.4 419.8 210.0 419.9 192.9 420.0 200.2 420.2 195.9 420.3 197.2 420.4 204.7 420.5 200.9 420.6 195.2 420.7 205.1 420.8 197.7 421.0 204.3 421.1 208.4 421.2 203.9 421.3 200.2 421.4 211.1 421.5 206.3 421.6 195.1 421.8 206.9 421.9 207.4 422.0 209.1 422.1 207.0 422.2 205.7 422.3 203.8 422.5 204.1 422.6 211.0 422.7 203.2 422.8 201.9 422.9 201.8 423.0 207.3 423.1 201.6 423.3 206.1 423.4 205.3 423.5 213.6 423.6 201.8 423.7 206.0 423.8 201.7 423.9 205.7 424.1 203.4 424.2 209.5 424.3 201.2 424.4 197.2 424.5 196.6 424.6 204.2 424.8 198.1 424.9 201.1 425.0 200.3 425.1 212.1 425.2 208.2 425.3 198.1 425.4 201.6 425.6 195.5 425.7 206.8 425.8 205.5 425.9 200.6 426.0 193.0 426.1 199.4 426.2 201.4 426.4 193.9 426.5 201.6 426.6 198.2 426.7 195.9 426.8 196.0 426.9 196.0 427.0 200.1 427.2 199.1 427.3 200.5 427.4 200.0 427.5 199.5 427.6 198.4 427.7 202.1 427.9 207.8 428.0 199.6 428.1 201.1 428.2 206.0 428.3 197.2 428.4 187.3 428.5 198.3 428.7 211.6 428.8 195.9 428.9 201.8 429.0 208.0 429.1 208.2 429.2 205.6 429.3 190.6 429.5 206.2 429.6 197.3 429.7 204.3 429.8 210.5 429.9 196.1 430.0 197.8 430.2 207.6 430.3 204.9 430.4 197.2 430.5 211.4 430.6 203.3 430.7 219.3 430.8 213.1 431.0 199.3 431.1 203.8 431.2 202.2 431.3 212.6 431.4 202.8 431.5 195.3 431.6 204.4 431.8 207.4 431.9 204.2 432.0 203.2 432.1 199.6 432.2 207.4 432.3 206.2 432.4 203.6 432.6 197.7 432.7 197.1 432.8 194.6 432.9 209.8 433.0 205.9 433.1 201.7 433.3 193.3 433.4 204.7 433.5 202.2 433.6 195.8 433.7 202.6 433.8 201.2 433.9 206.1 434.1 196.2 434.2 201.3 434.3 206.6 434.4 197.7 434.5 206.2 434.6 207.8 434.7 207.9 434.9 199.6 435.0 205.1 435.1 211.4 435.2 199.8 435.3 199.8 435.4 209.4 435.6 209.7 435.7 198.4 435.8 194.4 435.9 204.2 436.0 194.9 436.1 196.0 436.2 194.9 436.4 193.9 436.5 190.4 436.6 198.6 436.7 192.7 436.8 187.7 436.9 190.0 437.0 184.8 437.2 197.5 437.3 186.0 437.4 190.3 437.5 191.6 437.6 195.4 437.7 199.2 437.9 189.6 438.0 201.3 438.1 185.5 438.2 191.7 438.3 192.1 438.4 197.9 438.5 196.7 438.7 203.7 438.8 191.3 438.9 200.8 439.0 186.6 439.1 194.5 439.2 191.5 439.3 206.1 439.5 193.4 439.6 187.3 439.7 194.3 439.8 200.0 439.9 194.7 440.0 194.7 440.1 195.7 440.3 195.0 440.4 204.7 440.5 198.4 440.6 193.0 440.7 192.2 440.8 205.5 441.0 190.8 441.1 208.7 441.2 197.9 441.3 196.9 441.4 201.9 441.5 197.5 441.6 193.6 441.8 195.2 441.9 201.6 442.0 197.4 442.1 204.9 442.2 195.9 442.3 190.2 442.4 206.2 442.6 205.6 442.7 197.8 442.8 196.0 442.9 203.8 443.0 192.8 443.1 181.3 443.3 196.6 443.4 199.1 443.5 198.1 443.6 196.6 443.7 203.4 443.8 194.4 443.9 193.7 444.1 192.6 444.2 204.9 444.3 201.1 444.4 198.6 444.5 201.8 444.6 196.9 444.7 192.9 444.9 193.6 445.0 195.7 445.1 203.6 445.2 203.6 445.3 195.7 445.4 194.8 445.5 195.2 445.7 202.3 445.8 204.7 445.9 205.6 446.0 204.0 446.1 208.7 446.2 203.5 446.4 203.1 446.5 202.7 446.6 204.8 446.7 201.1 446.8 194.7 446.9 208.7 447.0 202.3 447.2 203.2 447.3 199.6 447.4 197.1 447.5 203.4 447.6 201.6 447.7 208.3 447.8 204.4 448.0 206.0 448.1 203.0 448.2 204.4 448.3 202.3 448.4 197.2 448.5 211.3 448.7 194.7 448.8 202.7 448.9 192.2 449.0 193.2 449.1 198.6 449.2 198.4 449.3 192.2 449.5 196.8 449.6 201.1 449.7 196.8 449.8 185.3 449.9 198.1 450.0 208.5 450.1 196.1 450.3 202.0 450.4 194.2 450.5 192.2 450.6 203.1 450.7 193.3 450.8 201.1 450.9 200.1 451.1 200.1 451.2 199.1 451.3 192.9 451.4 195.1 451.5 190.0 451.6 199.1 451.8 193.3 451.9 198.4 452.0 188.2 452.1 188.4 452.2 198.6 452.3 201.1 452.4 194.2 452.6 197.7 452.7 197.2 452.8 205.4 452.9 190.9 453.0 196.1 453.1 197.6 453.2 185.7 453.4 192.8 453.5 207.5 453.6 191.9 453.7 191.1 453.8 197.5 453.9 198.7 454.1 193.8 454.2 194.6 454.3 193.7 454.4 194.5 454.5 196.2 454.6 196.6 454.7 195.5 454.9 194.5 455.0 197.5 455.1 199.9 455.2 186.0 455.3 196.5 455.4 196.1 455.5 194.2 455.7 197.1 455.8 198.4 455.9 200.7 456.0 189.3 456.1 193.4 456.2 201.4 456.4 200.3 456.5 194.9 456.6 190.2 456.7 202.0 456.8 189.1 456.9 203.8 457.0 190.7 457.2 192.3 457.3 194.0 457.4 191.6 457.5 194.8 457.6 196.5 457.7 192.2 457.8 196.7 458.0 194.3 458.1 200.3 458.2 194.3 458.3 186.9 458.4 195.5 458.5 196.2 458.6 204.0 458.8 193.3 458.9 197.9 459.0 193.1 459.1 200.0 459.2 191.6 459.3 187.4 459.5 198.5 459.6 190.3 459.7 192.9 459.8 194.5 459.9 205.1 460.0 200.7 460.1 205.7 460.3 194.3 460.4 197.1 460.5 195.7 460.6 209.5 460.7 194.5 460.8 200.7 460.9 198.0 461.1 202.5 461.2 204.2 461.3 191.3 461.4 198.0 461.5 192.2 461.6 198.7 461.8 193.6 461.9 193.1 462.0 199.5 462.1 197.5 462.2 192.5 462.3 197.4 462.4 196.4 462.6 191.5 462.7 191.0 462.8 202.4 462.9 206.1 463.0 204.3 463.1 201.2 463.2 192.1 463.4 197.0 463.5 197.8 463.6 191.8 463.7 193.3 463.8 191.5 463.9 193.9 464.0 201.6 464.2 191.1 464.3 193.8 464.4 182.8 464.5 192.4 464.6 190.3 464.7 190.5 464.9 182.3 465.0 185.1 465.1 186.2 465.2 181.6 465.3 183.7 465.4 188.0 465.5 180.1 465.7 181.6 465.8 189.4 465.9 190.5 466.0 174.7 466.1 173.4 466.2 180.5 466.3 184.1 466.5 191.9 466.6 185.0 466.7 175.4 466.8 190.4 466.9 188.8 467.0 187.7 467.2 185.0 467.3 191.6 467.4 182.5 467.5 188.9 467.6 196.5 467.7 183.1 467.8 184.5 468.0 186.5 468.1 191.3 468.2 181.1 468.3 189.8 468.4 185.3 468.5 186.3 468.6 184.0 468.8 180.6 468.9 187.1 469.0 188.6 469.1 180.5 469.2 188.5 469.3 188.1 469.5 196.7 469.6 189.9 469.7 192.1 469.8 177.5 469.9 189.7 470.0 188.1 470.1 187.3 470.3 185.8 470.4 180.1 470.5 190.8 470.6 169.1 470.7 186.4 470.8 185.3 470.9 195.7 471.1 186.3 471.2 185.9 471.3 178.9 471.4 184.5 471.5 187.3 471.6 177.4 471.7 180.4 471.9 183.6 472.0 185.6 472.1 181.8 472.2 181.4 472.3 171.8 472.4 177.9 472.6 176.5 472.7 178.9 472.8 181.3 472.9 181.3 473.0 187.7 473.1 172.9 473.2 191.5 473.4 177.4 473.5 191.9 473.6 174.9 473.7 181.1 473.8 182.8 473.9 183.3 474.0 184.3 474.2 186.0 474.3 184.9 474.4 182.1 474.5 178.6 474.6 182.4 474.7 180.0 474.9 178.8 475.0 184.1 475.1 186.0 475.2 175.6 475.3 179.3 475.4 185.3 475.5 178.7 475.7 179.9 475.8 187.6 475.9 180.5 476.0 173.9 476.1 186.5 476.2 179.4 476.3 186.3 476.5 187.2 476.6 188.8 476.7 184.3 476.8 186.3 476.9 178.1 477.0 182.0 477.1 184.0 477.3 186.4 477.4 178.3 477.5 186.8 477.6 185.1 477.7 192.6 477.8 172.7 478.0 193.9 478.1 179.4 478.2 188.7 478.3 183.6 478.4 180.9 478.5 187.7 478.6 182.5 478.8 184.3 478.9 186.6 479.0 185.2 479.1 188.0 479.2 178.1 479.3 188.1 479.4 187.6 479.6 183.5 479.7 181.9 479.8 184.9 479.9 181.8 480.0 182.9 480.1 183.9 480.3 186.4 480.4 191.7 480.5 182.3 480.6 180.5 480.7 180.6 480.8 183.4 480.9 184.6 481.1 185.1 481.2 194.5 481.3 183.0 481.4 184.7 481.5 184.2 481.6 183.4 481.7 193.0 481.9 180.7 482.0 187.3 482.1 195.5 482.2 184.0 482.3 179.9 482.4 180.6 482.6 188.3 482.7 181.0 482.8 182.7 482.9 174.3 483.0 173.9 483.1 186.6 483.2 187.1 483.4 178.8 483.5 178.3 483.6 179.3 483.7 182.4 483.8 183.4 483.9 179.6 484.0 172.2 484.2 178.4 484.3 180.6 484.4 178.1 484.5 176.9 484.6 177.8 484.7 179.2 484.8 172.5 485.0 182.4 485.1 174.8 485.2 179.8 485.3 185.3 485.4 178.5 485.5 181.5 485.7 180.2 485.8 186.5 485.9 183.3 486.0 181.6 486.1 184.4 486.2 180.0 486.3 186.2 486.5 186.8 486.6 181.7 486.7 180.4 486.8 180.3 486.9 173.3 487.0 182.7 487.1 184.0 487.3 182.1 487.4 180.7 487.5 181.4 487.6 168.8 487.7 181.6 487.8 182.1 488.0 179.6 488.1 181.1 488.2 180.2 488.3 171.6 488.4 181.2 488.5 186.9 488.6 178.2 488.8 178.4 488.9 177.6 489.0 179.3 489.1 177.7 489.2 164.5 489.3 176.0 489.4 182.2 489.6 182.7 489.7 181.0 489.8 181.6 489.9 183.2 490.0 178.6 490.1 183.6 490.2 176.9 490.4 185.7 490.5 182.1 490.6 176.2 490.7 176.9 490.8 177.8 490.9 185.1 491.1 177.5 491.2 182.3 491.3 180.2 491.4 182.0 491.5 180.0 491.6 184.1 491.7 181.7 491.9 178.6 492.0 172.7 492.1 183.3 492.2 178.6 492.3 182.9 492.4 183.9 492.5 179.1 492.7 183.0 492.8 179.0 492.9 181.1 493.0 181.1 493.1 185.9 493.2 178.5 493.4 177.2 493.5 177.6 493.6 178.8 493.7 177.4 493.8 171.8 493.9 180.1 494.0 175.3 494.2 172.2 494.3 177.8 494.4 178.4 494.5 177.4 494.6 180.2 494.7 176.0 494.8 175.2 495.0 174.0 495.1 171.7 495.2 178.6 495.3 176.0 495.4 176.0 495.5 181.4 495.7 176.9 495.8 176.1 495.9 174.9 496.0 171.9 496.1 176.8 496.2 170.0 496.3 181.3 496.5 170.4 496.6 172.8 496.7 175.7 496.8 176.7 496.9 181.9 497.0 174.1 497.1 176.8 497.3 181.6 497.4 178.8 497.5 171.3 497.6 183.8 497.7 178.6 497.8 175.7 497.9 173.0 498.1 175.2 498.2 176.6 498.3 174.7 498.4 180.0 498.5 174.8 498.6 176.3 498.8 173.6 498.9 175.1 499.0 175.6 499.1 175.2 499.2 170.1 499.3 174.1 499.4 178.6 499.6 173.4 499.7 171.1 499.8 175.5 499.9 180.5 500.0 176.4 500.1 171.8 500.2 173.4 500.4 179.4 500.5 175.2 500.6 170.6 500.7 170.4 500.8 174.5 500.9 182.2 501.1 178.2 501.2 171.0 501.3 175.6 501.4 172.2 501.5 177.6 501.6 175.1 501.7 172.7 501.9 181.6 502.0 177.3 502.1 173.8 502.2 174.5 502.3 169.2 502.4 174.0 502.5 171.0 502.7 173.3 502.8 174.2 502.9 177.5 503.0 175.0 503.1 171.5 503.2 174.3 503.3 173.4 503.5 173.3 503.6 173.8 503.7 174.2 503.8 175.7 503.9 180.3 504.0 181.7 504.2 179.0 504.3 178.7 504.4 171.7 504.5 174.6 504.6 172.5 504.7 172.0 504.8 175.1 505.0 176.9 505.1 174.3 505.2 175.8 505.3 179.7 505.4 179.5 505.5 176.3 505.6 175.5 505.8 176.3 505.9 177.8 506.0 176.3 506.1 174.8 507.3 137.5 507.4 134.1 507.5 133.2 507.6 138.2 507.7 138.6 507.8 126.7 507.9 133.8 508.1 128.3 508.2 123.9 508.3 123.3 508.4 124.8 508.5 115.5 508.6 114.2 508.8 121.7 508.9 118.9 509.0 119.8 509.1 122.3 509.2 120.4 509.3 107.3 509.4 113.1 509.6 113.8 509.7 107.2 509.8 113.6 509.9 118.3 510.0 109.4 510.1 108.6 510.2 105.2 510.4 112.2 510.5 108.9 510.6 109.5 510.7 114.1 510.8 115.9 510.9 115.4 511.0 103.4 511.2 113.3 511.3 115.4 511.4 112.3 511.5 111.7 511.6 109.8 511.7 110.5 511.9 109.8 512.0 108.9 512.1 103.9 512.2 105.3 512.3 104.6 512.4 122.8 512.5 108.8 512.7 109.6 512.8 111.0 512.9 107.6 513.0 110.6 513.1 106.1 513.2 111.0 513.3 114.3 513.5 112.1 513.6 109.3 513.7 107.5 513.8 114.0 513.9 110.5 514.0 110.8 514.2 107.3 514.3 104.6 514.4 109.4 514.5 108.1 514.6 111.2 514.7 109.8 514.8 104.1 515.0 105.1 515.1 107.9 515.2 107.6 515.3 107.6 515.4 110.8 515.5 109.5 515.6 111.0 515.8 102.5 515.9 104.2 516.0 103.6 516.1 111.0 516.2 105.4 516.3 107.9 516.4 109.6 516.6 103.7 516.7 107.3 516.8 105.3 516.9 108.1 517.0 107.1 517.1 100.1 517.3 103.8 517.4 102.9 517.5 106.8 517.6 108.5 517.7 102.0 517.8 102.4 517.9 99.7 518.1 101.7 518.2 99.4 518.3 99.6 518.4 100.0 518.5 102.0 518.6 96.8 518.7 100.6 518.9 97.8 519.0 102.5 519.1 94.2 519.2 103.9 519.3 101.2 519.4 102.7 519.6 101.0 519.7 99.7 519.8 103.2 519.9 100.7 520.0 102.0 520.1 98.0 520.2 104.6 520.4 98.3 520.5 100.1 520.6 102.9 520.7 104.0 520.8 106.6 520.9 106.2 521.0 99.2 521.2 106.0 521.3 106.6 521.4 101.7 521.5 110.4 521.6 100.3 521.7 98.2 521.9 101.4 522.0 99.9 522.1 108.2 522.2 106.0 522.3 100.3 522.4 99.8 522.5 101.1 522.7 100.3 522.8 95.1 522.9 96.4 523.0 94.9 523.1 106.1 523.2 102.4 523.3 100.9 523.5 96.6 523.6 98.5 523.7 99.8 523.8 94.7 523.9 97.9 524.0 95.7 524.1 102.3 524.3 88.7 524.4 97.3 524.5 98.7 524.6 90.2 524.7 94.0 524.8 93.3 525.0 94.5 525.1 94.4 525.2 89.9 525.3 96.2 525.4 96.5 525.5 92.7 525.6 99.1 525.8 94.5 525.9 96.7 526.0 91.6 526.1 93.5 526.2 100.5 526.3 97.4 526.4 96.4 526.6 94.8 526.7 103.4 526.8 92.5 526.9 97.0 527.0 95.9 527.1 94.7 527.3 98.5 527.4 95.9 527.5 91.9 527.6 94.8 527.7 95.9 527.8 92.2 527.9 93.6 528.1 93.5 528.2 89.7 528.3 93.3 528.4 97.5 528.5 95.2 528.6 90.9 528.7 92.4 528.9 91.9 529.0 91.9 529.1 89.6 529.2 92.8 529.3 91.0 529.4 92.8 529.5 92.6 529.7 92.5 529.8 96.5 529.9 89.1 530.0 93.4 530.1 94.2 530.2 88.0 530.4 90.3 530.5 90.6 530.6 94.3 530.7 91.2 530.8 101.6 530.9 92.7 531.0 93.0 531.2 94.5 531.3 95.8 531.4 93.6 531.5 92.0 531.6 90.5 531.7 98.5 531.8 91.8 532.0 96.6 532.1 96.7 532.2 93.8 532.3 94.8 532.4 94.9 532.5 95.8 532.7 94.6 532.8 97.9 532.9 93.7 533.0 94.5 533.1 90.1 533.2 95.9 533.3 93.7 533.5 92.2 533.6 95.6 533.7 95.0 533.8 95.7 533.9 99.1 534.0 95.2 534.1 91.4 534.3 90.6 534.4 94.2 534.5 98.1 534.6 91.7 534.7 93.3 534.8 96.5 535.0 88.6 535.1 93.9 535.2 100.3 535.3 92.2 535.4 93.7 535.5 97.8 535.6 93.7 535.8 90.3 535.9 91.3 536.0 92.5 536.1 90.5 536.2 95.3 536.3 94.9 536.4 95.0 536.6 91.6 536.7 92.6 536.8 88.9 536.9 90.2 537.0 94.5 537.1 87.5 537.2 95.4 537.4 88.3 537.5 90.3 537.6 91.7 537.7 94.1 537.8 92.9 537.9 91.4 538.1 87.7 538.2 92.7 538.3 95.0 538.4 90.1 538.5 94.5 538.6 93.4 538.7 92.2 538.9 97.2 539.0 90.8 539.1 91.1 539.2 87.9 539.3 86.9 539.4 89.0 539.5 92.2 539.7 96.6 539.8 92.2 539.9 96.4 540.0 94.7 540.1 90.4 540.2 93.4 540.4 94.9 540.5 89.3 540.6 94.2 540.7 90.8 540.8 89.3 540.9 91.4 541.0 93.6 541.2 91.7 541.3 94.8 541.4 90.3 541.5 95.4 541.6 93.6 541.7 87.6 541.8 93.0 542.0 88.7 542.1 93.8 542.2 86.3 542.3 94.8 542.4 90.5 542.5 91.9 542.6 93.2 542.8 94.1 542.9 94.9 543.0 90.9 543.1 93.1 543.2 88.4 543.3 91.3 543.5 92.2 543.6 91.2 543.7 86.2 543.8 86.8 543.9 91.6 544.0 89.5 544.1 90.0 544.3 88.3 544.4 91.9 544.5 86.3 544.6 89.4 544.7 90.6 544.8 88.2 544.9 86.5 545.1 90.9 545.2 92.0 545.3 90.1 545.4 88.3 545.5 85.4 545.6 91.5 545.8 86.4 545.9 90.5 546.0 90.3 546.1 88.6 546.2 87.1 546.3 89.1 546.4 85.5 546.6 87.1 546.7 87.1 546.8 88.9 546.9 94.3 547.0 89.0 547.1 92.2 547.2 90.7 547.4 88.3 547.5 87.5 547.6 90.3 547.7 91.7 547.8 86.2 547.9 89.2 548.1 88.4 548.2 86.1 548.3 88.0 548.4 87.5 548.5 85.7 548.6 91.8 548.7 82.3 548.9 91.4 549.0 89.2 549.1 87.2 549.2 89.4 549.3 84.6 549.4 91.4 549.5 85.2 549.7 89.1 549.8 87.4 549.9 88.8 550.0 90.5 550.1 91.5 550.2 87.9 550.3 87.3 550.5 86.8 550.6 88.6 550.7 88.7 550.8 83.8 550.9 87.0 551.0 85.8 551.2 86.8 551.3 82.4 551.4 83.8 551.5 89.7 551.6 86.1 551.7 89.1 551.8 86.5 552.0 89.2 552.1 84.0 552.2 90.3 552.3 92.8 552.4 86.5 552.5 92.1 552.6 90.3 552.8 86.6 552.9 89.1 553.0 83.2 553.1 87.4 553.2 87.0 553.3 87.6 553.5 86.3 553.6 86.8 553.7 88.2 553.8 83.8 553.9 82.1 554.0 90.7 554.1 86.4 554.3 86.0 554.4 93.9 554.5 87.9 554.6 88.5 554.7 84.6 554.8 86.0 554.9 87.4 555.1 85.7 555.2 83.9 555.3 84.1 555.4 85.2 555.5 87.0 555.6 82.4 555.7 81.6 555.9 78.8 556.0 81.0 556.1 80.2 556.2 85.4 556.3 87.7 556.4 87.6 556.6 86.1 556.7 87.8 556.8 80.6 556.9 87.1 557.0 76.3 557.1 84.3 557.2 83.2 557.4 82.8 557.5 81.7 557.6 87.6 557.7 86.4 557.8 85.8 557.9 87.0 558.0 82.6 558.2 85.5 558.3 82.6 558.4 82.3 558.5 85.0 558.6 84.9 558.7 83.6 558.9 89.6 559.0 85.6 559.1 87.9 559.2 91.3 559.3 84.4 559.4 88.6 559.5 85.4 559.7 88.9 559.8 82.5 559.9 84.3 560.0 85.8 560.1 86.4 560.2 88.3 560.3 87.5 560.5 86.2 560.6 86.1 560.7 89.3 560.8 87.3 560.9 86.0 561.0 86.7 561.2 85.6 561.3 84.5 561.4 87.1 561.5 87.7 561.6 88.6 561.7 86.7 561.8 84.6 562.0 87.6 562.1 89.8 562.2 86.9 562.3 86.2 562.4 86.4 562.5 91.1 562.6 85.7 562.8 87.5 562.9 83.2 563.0 82.3 563.1 84.4 563.2 85.9 563.3 86.7 563.4 88.7 563.6 80.2 563.7 83.9 563.8 87.2 563.9 88.4 564.0 84.9 564.1 82.0 564.3 85.7 564.4 83.2 564.5 82.1 564.6 86.7 564.7 84.6 564.8 87.9 564.9 90.8 565.1 84.5 565.2 82.9 565.3 85.2 565.4 90.8 565.5 84.0 565.6 82.2 565.7 87.9 565.9 88.6 566.0 89.3 566.1 81.5 566.2 86.4 566.3 86.1 566.4 82.9 566.6 82.3 566.7 88.5 566.8 83.0 566.9 87.4 567.0 88.3 567.1 79.9 567.2 81.4 567.4 82.9 567.5 86.3 567.6 88.6 567.7 81.0 567.8 84.2 567.9 86.5 568.0 87.7 568.2 84.2 568.3 86.0 568.4 78.1 568.5 84.4 568.6 82.2 568.7 89.4 568.8 84.1 569.0 84.9 569.1 84.4 569.2 84.2 569.3 87.8 569.4 78.3 569.5 83.4 569.7 84.7 569.8 84.0 569.9 83.8 570.0 78.5 570.1 80.4 570.2 83.9 570.3 83.4 570.5 85.2 570.6 84.1 570.7 83.1 570.8 84.5 570.9 80.2 571.0 82.3 571.1 85.0 571.3 79.6 571.4 80.3 571.5 80.8 571.6 78.4 571.7 81.7 571.8 82.0 572.0 81.0 572.1 79.7 572.2 79.2 572.3 81.0 572.4 77.7 572.5 81.2 572.6 79.2 572.8 79.0 572.9 79.5 573.0 80.1 573.1 80.0 573.2 79.1 573.3 79.0 573.4 82.7 573.6 76.8 573.7 76.8 573.8 79.2 573.9 82.3 574.0 82.1 574.1 84.4 574.3 80.4 574.4 83.0 574.5 80.4 574.6 80.7 574.7 81.2 574.8 84.3 574.9 85.8 576.1 232.6 576.2 228.7 576.3 223.1 576.4 226.6 576.5 226.8 576.7 224.1 576.8 226.7 576.9 222.1 577.0 226.3 577.1 221.0 577.2 218.2 577.4 219.4 577.5 215.2 577.6 222.5 577.7 212.2 577.8 216.9 577.9 212.3 578.0 219.1 578.2 218.9 578.3 211.4 578.4 216.9 578.5 212.1 578.6 208.6 578.7 210.4 578.8 206.5 579.0 208.3 579.1 209.8 579.2 208.9 579.3 205.0 579.4 213.9 579.5 207.6 579.7 209.5 579.8 203.9 579.9 201.6 580.0 209.0 580.1 200.1 580.2 200.3 580.3 200.2 580.5 204.7 580.6 203.7 580.7 202.2 580.8 201.5 580.9 202.9 581.0 197.9 581.1 205.7 581.3 201.5 581.4 201.9 581.5 197.1 581.6 204.3 581.7 199.9 581.8 201.9 581.9 200.2 582.1 198.3 582.2 198.6 582.3 200.0 582.4 200.3 582.5 196.5 582.6 202.2 582.8 201.4 582.9 198.1 583.0 192.7 583.1 196.1 583.2 192.8 583.3 195.2 583.4 194.5 583.6 204.7 583.7 191.6 583.8 193.9 583.9 196.7 584.0 192.3 584.1 190.5 584.2 196.2 584.4 193.0 584.5 193.1 584.6 192.7 584.7 194.3 584.8 191.2 584.9 195.2 585.1 196.5 585.2 195.7 585.3 193.5 585.4 193.3 585.5 189.3 585.6 190.1 585.7 198.3 585.9 191.6 586.0 189.3 586.1 192.2 586.2 190.9 586.3 190.3 586.4 198.6 586.5 194.5 586.7 192.8 586.8 192.5 586.9 189.8 587.0 195.7 587.1 198.7 587.2 192.4 587.4 203.7 587.5 183.7 587.6 185.1 587.7 194.5 587.8 192.7 587.9 189.4 588.0 189.9 588.2 195.1 588.3 187.9 588.4 188.7 588.5 193.4 588.6 178.1 588.7 190.2 588.8 187.1 589.0 190.4 589.1 194.6 589.2 184.3 589.3 191.9 589.4 190.4 589.5 183.6 589.6 190.0 589.8 195.0 589.9 189.6 590.0 194.3 590.1 189.5 590.2 190.5 590.3 188.2 590.5 191.3 590.6 190.1 590.7 185.3 590.8 193.4 590.9 196.4 591.0 192.4 591.1 187.5 591.3 192.9 591.4 193.5 591.5 190.9 591.6 189.6 591.7 186.1 591.8 193.3 591.9 188.3 592.1 184.2 592.2 196.9 592.3 190.2 592.4 192.1 592.5 187.7 592.6 189.2 592.8 197.1 592.9 193.9 593.0 181.5 593.1 189.5 593.2 188.5 593.3 185.3 593.4 186.5 593.6 184.3 593.7 187.8 593.8 189.6 593.9 178.8 594.0 188.7 594.1 184.2 594.2 190.3 594.4 186.4 594.5 182.2 594.6 184.7 594.7 189.7 594.8 187.9 594.9 183.6 595.0 191.2 595.2 180.8 595.3 179.4 595.4 190.8 595.5 186.0 595.6 183.4 595.7 189.6 595.9 186.3 596.0 187.8 596.1 189.9 596.2 188.7 596.3 190.5 596.4 182.8 596.5 183.7 596.7 178.9 596.8 189.8 596.9 186.5 597.0 178.2 597.1 183.7 597.2 186.5 597.3 186.9 597.5 181.1 597.6 191.7 597.7 184.7 597.8 182.7 597.9 192.2 598.0 186.5 598.2 182.7 598.3 186.4 598.4 183.9 598.5 181.6 598.6 193.1 598.7 185.5 598.8 181.3 599.0 181.4 599.1 185.7 599.2 178.8 599.3 179.2 599.4 183.2 599.5 187.3 599.6 185.3 599.8 184.2 599.9 190.5 600.0 181.9 600.1 189.7 600.2 182.2 600.3 185.3 600.5 183.3 600.6 182.9 600.7 181.8 600.8 183.3 600.9 186.1 601.0 180.9 601.1 185.5 601.3 180.1 601.4 189.8 601.5 182.3 601.6 177.8 601.7 178.6 601.8 177.4 601.9 182.7 602.1 177.1 602.2 184.8 602.3 176.2 602.4 179.7 602.5 184.3 602.6 180.0 602.7 191.7 602.9 176.5 603.0 184.1 603.1 185.5 603.2 185.7 603.3 181.3 603.4 185.9 603.6 180.4 603.7 181.4 603.8 184.7 603.9 188.5 604.0 179.7 604.1 186.1 604.2 185.3 604.4 182.3 604.5 187.5 604.6 186.5 604.7 179.5 604.8 181.4 604.9 189.2 605.0 187.4 605.2 186.2 605.3 191.3 605.4 192.8 605.5 182.0 605.6 184.6 605.7 188.6 605.9 192.1 606.0 193.8 606.1 189.8 606.2 188.3 606.3 184.4 606.4 184.7 606.5 187.8 606.7 183.2 606.8 188.3 606.9 186.3 607.0 190.9 607.1 188.2 607.2 187.1 607.3 180.8 607.5 187.4 607.6 187.3 607.7 181.1 607.8 183.7 607.9 184.8 608.0 184.5 608.1 187.9 608.3 179.7 608.4 179.4 608.5 184.4 608.6 180.1 608.7 178.7 608.8 177.3 609.0 176.6 609.1 180.0 609.2 175.6 609.3 181.1 609.4 179.7 609.5 174.8 609.6 185.0 609.8 181.9 609.9 175.8 610.0 181.8 610.1 174.1 610.2 171.2 610.3 177.9 610.4 182.6 610.6 174.5 610.7 181.5 610.8 180.4 610.9 177.8 611.0 187.5 611.1 185.5 611.3 181.2 611.4 179.1 611.5 182.4 611.6 179.0 611.7 183.3 611.8 179.6 611.9 183.9 612.1 182.6 612.2 180.0 612.3 178.6 612.4 182.8 612.5 184.8 612.6 184.2 612.7 184.8 612.9 187.7 613.0 188.5 613.1 180.3 613.2 182.7 613.3 188.7 613.4 188.1 613.6 185.2 613.7 184.3 613.8 187.2 613.9 177.1 614.0 187.2 614.1 181.0 614.2 180.9 614.4 177.3 614.5 177.2 614.6 184.8 614.7 187.3 614.8 189.5 614.9 181.6 615.0 193.6 615.2 183.9 615.3 188.9 615.4 186.0 615.5 185.8 615.6 190.4 615.7 188.4 615.8 181.5 616.0 190.5 616.1 191.2 616.2 191.0 616.3 187.2 616.4 177.0 616.5 187.1 616.7 179.8 616.8 181.9 616.9 179.8 617.0 174.7 617.1 186.4 617.2 179.5 617.3 184.7 617.5 186.9 617.6 182.5 617.7 178.9 617.8 180.6 617.9 179.4 618.0 181.5 618.1 178.4 618.3 184.2 618.4 178.8 618.5 176.2 618.6 188.6 618.7 183.6 618.8 178.1 619.0 190.2 619.1 177.3 619.2 187.8 619.3 183.0 619.4 181.9 619.5 189.4 619.6 182.5 619.8 179.6 619.9 181.0 620.0 188.2 620.1 188.4 620.2 181.6 620.3 189.0 620.4 181.9 620.6 195.2 620.7 183.0 620.8 182.2 620.9 185.6 621.0 186.6 621.1 185.4 621.2 183.2 621.4 182.9 621.5 189.0 621.6 182.8 621.7 174.1 621.8 190.0 621.9 185.0 622.1 184.4 622.2 184.3 622.3 176.3 622.4 181.7 622.5 177.2 622.6 179.1 622.7 181.5 622.9 177.7 623.0 181.3 623.1 178.6 623.2 181.3 623.3 167.5 623.4 183.9 623.5 178.6 623.7 182.0 623.8 174.0 623.9 180.6 624.0 179.0 624.1 177.2 624.2 184.1 624.4 174.9 624.5 181.3 624.6 182.1 624.7 174.6 624.8 182.4 624.9 186.8 625.0 178.2 625.2 183.0 625.3 182.2 625.4 179.7 625.5 179.3 625.6 183.8 625.7 173.5 625.8 177.0 626.0 176.4 626.1 175.5 626.2 179.6 626.3 179.4 626.4 186.8 626.5 177.4 626.7 183.1 626.8 178.8 626.9 178.5 627.0 180.3 627.1 183.9 627.2 172.2 627.3 183.9 627.5 178.8 627.6 181.6 627.7 179.4 627.8 177.3 627.9 188.4 628.0 177.8 628.1 175.9 628.3 172.2 628.4 175.3 628.5 175.3 628.6 170.7 628.7 181.5 628.8 176.5 628.9 176.2 629.1 164.5 629.2 176.2 629.3 181.3 629.4 181.2 629.5 178.5 629.6 182.5 629.8 177.4 629.9 181.9 630.0 177.6 630.1 178.1 630.2 183.6 630.3 177.4 630.4 183.7 630.6 179.5 630.7 174.7 630.8 183.4 630.9 178.3 631.0 180.8 631.1 179.2 631.2 183.6 631.4 185.7 631.5 183.1 631.6 182.5 631.7 180.7 631.8 178.0 631.9 178.8 632.1 181.8 632.2 177.3 632.3 177.1 632.4 179.2 632.5 171.6 632.6 178.6 632.7 183.2 632.9 180.1 633.0 183.3 633.1 180.0 633.2 178.1 633.3 179.3 633.4 177.8 633.5 179.5 633.7 176.5 633.8 173.0 633.9 182.5 634.0 182.7 634.1 179.7 634.2 182.8 634.3 181.4 634.5 178.6 634.6 177.6 634.7 178.2 634.8 176.7 634.9 173.6 635.0 173.2 635.2 180.1 635.3 172.6 635.4 174.5 635.5 177.7 635.6 180.3 635.7 175.7 635.8 177.6 636.0 175.4 636.1 170.2 636.2 174.6 636.3 171.4 636.4 170.8 636.5 169.2 636.6 178.2 636.8 168.8 636.9 171.8 637.0 164.9 637.1 168.9 637.2 174.7 637.3 176.4 637.5 169.7 637.6 171.4 637.7 173.0 637.8 171.0 637.9 169.1 638.0 160.9 638.1 172.4 638.3 170.9 638.4 177.2 638.5 170.0 638.6 173.8 638.7 172.2 638.8 170.2 638.9 168.9 639.1 171.0 639.2 174.8 639.3 169.1 639.4 169.6 639.5 170.2 639.6 165.9 639.8 165.8 639.9 170.1 640.0 166.7 640.1 175.6 640.2 171.1 640.3 169.3 640.4 171.4 640.6 171.8 640.7 177.2 640.8 172.9 640.9 173.7 641.0 173.9 641.1 168.7 641.2 171.0 641.4 171.6 641.5 172.5 641.6 169.6 641.7 171.6 641.8 174.5 641.9 174.8 642.0 173.3 642.2 169.6 642.3 169.2 642.4 173.5 642.5 169.2 642.6 170.9 642.7 173.9 642.9 176.6 643.0 173.0 643.1 173.3 643.2 178.7 643.3 171.3 643.4 171.4" fill="none" stroke="none" marker-start="url(#m_purple)" marker-mid="url(#m_purple)" marker-end="url(#m_purple)"/>
<polyline points="91.8 239.1 92.0 232.2 92.1 240.2 92.2 241.2 92.3 244.6 92.4 237.0 92.5 228.3 92.7 232.3 92.8 240.1 92.9 239.1 93.0 243.5 93.1 236.7 93.2 234.7 93.3 238.9 93.5 239.3 93.6 238.2 93.7 239.8 93.8 233.6 93.9 238.4 94.0 238.3 94.1 231.8 94.3 242.3 94.4 233.6 94.5 236.8 94.6 244.3 94.7 235.5 94.8 240.7 95.0 237.1 95.1 232.9 95.2 233.7 95.3 232.8 95.4 233.3 95.5 232.7 95.6 235.5 95.8 242.7 95.9 233.4 96.0 234.3 96.1 233.6 96.2 234.0 96.3 236.5 96.4 234.8 96.6 238.4 96.7 239.5 96.8 237.5 96.9 229.2 97.0 235.3 97.1 238.7 97.3 232.2 97.4 229.9 97.5 237.5 97.6 238.5 97.7 235.3 97.8 235.4 97.9 237.6 98.1 235.1 98.2 230.8 98.3 234.3 98.4 235.1 98.5 235.8 98.6 236.3 98.7 241.4 98.9 234.6 99.0 231.0 99.1 234.6 99.2 234.7 99.3 227.4 99.4 232.0 99.5 231.3 99.7 240.1 99.8 231.2 99.9 239.5 100.0 233.3 100.1 232.5 100.2 237.1 100.4 243.4 100.5 232.8 100.6 235.7 100.7 230.9 100.8 241.4 100.9 243.1 101.0 235.7 101.2 236.8 101.3 233.4 101.4 238.3 101.5 239.7 101.6 236.1 101.7 242.2 101.8 241.2 102.0 244.3 102.1 235.6 102.2 242.0 102.3 233.6 102.4 238.0 102.5 237.6 102.7 242.8 102.8 238.7 102.9 244.0 103.0 239.0 103.1 241.7 103.2 238.4 103.3 240.9 103.5 238.9 103.6 241.8 103.7 239.9 103.8 242.8 103.9 244.9 104.0 238.6 104.1 238.0 104.3 236.1 104.4 239.4 104.5 243.3 104.6 242.5 104.7 237.7 104.8 238.6 104.9 237.3 105.1 244.5 105.2 239.0 105.3 235.4 105.4 229.7 105.5 239.1 105.6 237.9 105.8 232.3 105.9 237.7 106.0 241.6 106.1 239.3 106.2 239.5 106.3 233.6 106.4 237.7 106.6 235.7 106.7 231.3 106.8 235.8 106.9 234.4 107.0 233.4 107.1 234.9 107.2 231.8 107.4 234.9 107.5 234.1 107.6 240.1 107.7 237.1 107.8 232.5 107.9 237.9 108.1 232.9 108.2 235.4 108.3 236.8 108.4 229.7 108.5 238.7 108.6 238.6 108.7 234.6 108.9 233.0 109.0 238.1 109.1 232.0 109.2 237.1 109.3 236.2 109.4 231.1 109.5 231.1 109.7 238.7 109.8 239.1 109.9 237.2 110.0 230.4 110.1 244.3 110.2 237.8 110.4 241.0 110.5 237.3 110.6 238.7 110.7 238.0 110.8 240.3 110.9 238.2 111.0 241.5 111.2 238.1 111.3 237.9 111.4 234.2 111.5 234.8 111.6 242.0 111.7 241.5 111.8 235.9 112.0 233.2 112.1 242.4 112.2 240.7 112.3 239.8 112.4 237.5 112.5 235.3 112.6 236.4 112.8 238.0 112.9 235.8 113.0 241.6 113.1 238.1 113.2 237.3 113.3 242.1 113.5 235.6 113.6 232.0 113.7 236.2 113.8 239.6 113.9 240.8 114.0 236.7 114.1 236.3 114.3 242.3 114.4 240.4 114.5 239.5 114.6 237.6 114.7 242.5 114.8 241.8 114.9 242.9 115.1 239.9 115.2 238.0 115.3 245.0 115.4 238.4 115.5 241.7 115.6 235.6 115.8 240.6 115.9 238.5 116.0 242.5 116.1 243.6 116.2 249.3 116.3 248.1 116.4 238.0 116.6 237.7 116.7 240.2 116.8 240.2 116.9 241.6 117.0 242.7 117.1 234.1 117.2 240.2 117.4 239.9 117.5 236.9 117.6 242.6 117.7 232.7 117.8 237.1 117.9 231.0 118.0 235.5 118.2 235.8 118.3 235.9 118.4 236.3 118.5 237.2 118.6 230.5 118.7 233.2 118.9 237.8 119.0 232.3 119.1 240.0 119.2 231.0 119.3 232.4 119.4 226.4 119.5 239.8 119.7 229.4 119.8 236.1 119.9 234.1 120.0 226.6 120.1 231.7 120.2 231.3 120.3 231.2 120.5 230.7 120.6 224.9 120.7 226.3 120.8 234.8 120.9 229.0 121.0 228.3 121.2 238.0 121.3 230.9 121.4 238.4 121.5 229.4 121.6 233.8 121.7 233.8 121.8 237.3 122.0 230.6 122.1 229.9 122.2 228.4 122.3 236.5 122.4 232.1 122.5 237.7 122.6 237.4 122.8 235.0 122.9 238.0 123.0 237.6 123.1 233.2 123.2 241.0 123.3 237.5 123.5 234.0 123.6 237.5 123.7 233.7 123.8 229.2 123.9 231.9 124.0 229.6 124.1 230.6 124.3 235.0 124.4 231.0 124.5 238.4 124.6 234.1 124.7 237.1 124.8 237.1 124.9 231.8 125.1 236.3 125.2 233.2 125.3 237.4 125.4 236.2 125.5 243.5 125.6 237.2 125.7 231.3 125.9 237.7 126.0 236.6 126.1 233.9 126.2 233.2 126.3 238.0 126.4 238.5 126.6 231.1 126.7 240.2 126.8 237.2 126.9 232.5 127.0 237.5 127.1 239.4 127.2 237.7 127.4 235.2 127.5 237.1 127.6 239.1 127.7 231.5 127.8 239.3 127.9 233.2 128.0 231.7 128.2 232.0 128.3 227.2 128.4 235.7 128.5 231.1 128.6 233.1 128.7 237.0 128.9 236.0 129.0 239.5 129.1 230.2 129.2 234.6 129.3 238.6 129.4 233.3 129.5 232.9 129.7 231.1 129.8 235.3 129.9 232.3 130.0 233.5 130.1 226.7 130.2 236.1 130.3 235.4 130.5 235.6 130.6 238.2 130.7 237.8 130.8 233.7 130.9 239.3 131.0 228.7 131.1 241.0 131.3 226.1 131.4 232.5 131.5 234.9 131.6 234.4 131.7 235.4 131.8 238.1 132.0 231.1 132.1 228.1 132.2 233.3 132.3 230.7 132.4 229.5 132.5 235.4 132.6 228.9 132.8 234.4 132.9 231.6 133.0 232.1 133.1 226.4 133.2 232.3 133.3 230.5 133.4 232.9 133.6 232.4 133.7 235.5 133.8 231.4 133.9 226.9 134.0 231.8 134.1 231.9 134.3 232.3 134.4 237.2 134.5 228.3 134.6 230.9 134.7 225.9 134.8 229.8 134.9 232.4 135.1 229.5 135.2 234.5 135.3 228.5 135.4 233.0 135.5 226.2 135.6 234.8 135.7 233.5 135.9 241.8 136.0 230.1 136.1 234.0 136.2 231.0 136.3 239.6 136.4 232.6 136.6 230.7 136.7 239.4 136.8 239.5 136.9 237.6 137.0 235.0 137.1 233.6 137.2 235.4 137.4 234.9 137.5 237.5 137.6 234.8 137.7 229.3 137.8 237.2 137.9 234.8 138.0 232.3 138.2 231.6 138.3 229.3 138.4 234.6 138.5 234.1 138.6 234.2 138.7 226.4 138.8 238.3 139.0 224.0 139.1 234.3 139.2 232.0 139.3 237.5 139.4 227.4 139.5 231.1 139.7 231.9 139.8 232.4 139.9 229.9 140.0 233.7 140.1 233.1 140.2 241.5 140.3 236.7 140.5 232.2 140.6 235.7 140.7 234.3 140.8 240.5 140.9 242.4 141.0 242.2 141.1 234.0 141.3 233.2 141.4 236.3 141.5 238.5 141.6 229.4 141.7 224.4 141.8 236.7 142.0 238.9 142.1 238.4 142.2 226.6 142.3 232.8 142.4 228.1 142.5 233.6 142.6 240.2 142.8 231.4 142.9 235.6 143.0 236.8 143.1 233.3 143.2 233.4 143.3 234.8 143.4 238.6 143.6 232.3 143.7 236.4 143.8 230.8 143.9 232.6 144.0 234.8 144.1 233.9 144.2 238.0 144.4 231.2 144.5 231.6 144.6 234.5 144.7 231.7 144.8 240.3 144.9 243.7 145.1 234.9 145.2 233.5 145.3 233.0 145.4 238.8 145.5 235.9 145.6 233.3 145.7 226.6 145.9 232.8 146.0 229.6 146.1 238.3 146.2 230.7 146.3 240.2 146.4 225.7 146.5 227.8 146.7 230.2 146.8 226.4 146.9 231.1 147.0 232.7 147.1 227.8 147.2 232.2 147.4 230.6 147.5 228.9 147.6 224.8 147.7 235.9 147.8 226.3 147.9 238.5 148.0 227.3 148.2 219.1 148.3 237.3 148.4 228.6 148.5 231.4 148.6 226.8 148.7 227.8 148.8 228.7 149.0 224.8 149.1 225.7 149.2 230.9 149.3 234.5 149.4 234.7 149.5 234.8 149.7 232.3 149.8 237.1 149.9 233.5 150.0 233.6 150.1 233.9 150.2 239.4 150.3 231.4 150.5 229.1 150.6 238.4 150.7 229.3 150.8 227.9 150.9 237.4 151.0 233.9 151.1 233.3 151.3 233.4 151.4 235.3 151.5 236.5 151.6 234.2 151.7 235.1 151.8 240.0 151.9 240.1 152.1 234.8 152.2 238.9 152.3 236.1 152.4 240.1 152.5 239.9 152.6 248.3 152.8 237.0 152.9 233.8 153.0 236.4 153.1 235.7 153.2 234.3 153.3 242.2 153.4 237.7 153.6 248.8 153.7 232.3 153.8 231.7 153.9 243.5 154.0 236.4 154.1 233.7 154.2 246.2 154.4 234.4 154.5 234.3 154.6 238.8 154.7 234.4 154.8 234.1 154.9 242.3 155.1 240.1 155.2 230.5 155.3 237.5 155.4 236.5 155.5 225.3 155.6 230.2 155.7 230.5 155.9 227.5 156.0 231.9 156.1 238.7 156.2 236.4 156.3 234.5 156.4 223.9 156.5 231.4 156.7 242.5 156.8 232.9 156.9 236.2 157.0 228.8 157.1 229.6 157.2 228.4 157.3 233.9 157.5 225.0 157.6 233.3 157.7 218.9 157.8 232.8 157.9 230.1 158.0 225.8 158.2 235.1 158.3 236.2 158.4 231.1 158.5 229.1 158.6 228.6 158.7 226.4 158.8 224.8 159.0 231.1 159.1 230.8 159.2 231.5 159.3 230.4 159.4 227.0 159.5 232.4 159.6 233.1 159.8 230.0 159.9 228.1 160.0 226.2 160.1 238.6 160.2 227.7 160.3 221.3 160.5 228.3 160.6 222.7 160.7 225.8 161.8 230.9 161.9 230.9 162.1 228.5 162.2 229.9 162.3 222.6 162.4 233.0 162.5 227.8 162.6 225.4 162.8 228.7 162.9 225.9 163.0 228.7 163.1 227.6 163.2 223.0 163.3 222.1 163.4 224.1 163.6 222.0 163.7 226.1 163.8 228.7 163.9 224.1 164.0 224.9 164.1 225.4 164.2 227.1 164.4 223.1 164.5 221.8 164.6 218.5 164.7 223.7 164.8 223.2 164.9 226.1 165.0 223.6 165.2 222.2 165.3 218.0 165.4 224.4 165.5 221.1 165.6 224.3 165.7 216.1 165.9 216.7 166.0 218.9 166.1 219.7 166.2 218.1 166.3 220.6 166.4 217.6 166.5 224.2 166.7 214.5 166.8 214.3 166.9 216.3 167.0 221.5 167.1 214.4 167.2 218.6 167.3 218.2 167.5 218.1 167.6 220.0 167.7 220.3 167.8 217.4 167.9 213.2 168.0 214.8 168.2 214.2 168.3 219.2 168.4 213.4 168.5 211.3 168.6 217.8 168.7 215.8 168.8 206.8 169.0 209.6 169.1 206.6 169.2 208.5 169.3 211.8 169.4 215.3 169.5 212.3 169.6 202.9 169.8 207.7 169.9 216.7 170.0 211.1 170.1 209.9 170.2 210.8 170.3 208.6 170.4 207.1 170.6 215.0 170.7 206.1 170.8 208.0 170.9 209.9 171.0 208.3 171.1 214.5 171.3 206.0 171.4 209.1 171.5 200.8 171.6 200.8 171.7 209.6 171.8 204.5 171.9 207.1 172.1 202.8 172.2 198.8 172.3 204.9 172.4 203.8 172.5 201.2 172.6 200.7 172.7 204.4 172.9 203.0 173.0 210.4 173.1 202.6 173.2 204.5 173.3 201.2 173.4 197.2 173.6 204.4 173.7 205.3 173.8 204.2 173.9 199.4 174.0 199.8 174.1 203.2 174.2 201.7 174.4 201.6 174.5 201.3 174.6 202.2 174.7 202.4 174.8 202.1 174.9 198.3 175.0 198.6 175.2 202.9 175.3 208.4 175.4 199.4 175.5 200.9 175.6 207.2 175.7 196.4 175.9 201.3 176.0 195.9 176.1 206.6 176.2 201.1 176.3 202.6 176.4 204.8 176.5 197.5 176.7 198.8 176.8 197.9 176.9 192.1 177.0 204.3 177.1 197.4 177.2 203.7 177.3 196.4 177.5 197.1 177.6 203.9 177.7 199.6 177.8 199.1 177.9 199.5 178.0 202.0 178.1 201.5 178.3 205.7 178.4 197.3 178.5 200.1 178.6 201.4 178.7 202.2 178.8 199.4 179.0 202.2 179.1 196.2 179.2 202.4 179.3 201.8 179.4 199.9 179.5 200.8 179.6 205.1 179.8 204.3 179.9 201.5 180.0 202.2 180.1 204.0 180.2 202.7 180.3 204.1 180.4 207.4 180.6 198.8 180.7 204.0 180.8 201.9 180.9 199.7 181.0 211.5 181.1 200.9 181.3 206.6 181.4 203.9 181.5 202.2 181.6 202.9 181.7 203.3 181.8 198.3 181.9 199.5 182.1 195.5 182.2 201.0 182.3 199.5 182.4 198.6 182.5 197.5 182.6 195.6 182.7 202.7 182.9 200.2 183.0 194.8 183.1 198.4 183.2 194.1 183.3 200.6 183.4 193.9 183.5 199.1 183.7 197.1 183.8 193.8 183.9 200.3 184.0 198.5 184.1 191.2 184.2 203.5 184.4 198.9 184.5 195.2 184.6 193.1 184.7 196.3 184.8 195.9 184.9 200.8 185.0 197.7 185.2 194.5 185.3 198.1 185.4 199.8 185.5 203.3 185.6 199.2 185.7 202.2 185.8 198.3 186.0 200.1 186.1 203.7 186.2 198.4 186.3 200.4 186.4 207.9 186.5 199.8 186.7 201.7 186.8 198.9 186.9 201.2 187.0 200.9 187.1 199.3 187.2 199.3 187.3 196.4 187.5 199.3 187.6 197.1 187.7 200.5 187.8 199.2 187.9 196.6 188.0 199.4 188.1 205.6 188.3 200.2 188.4 197.0 188.5 198.6 188.6 198.3 188.7 203.3 188.8 193.3 189.0 194.4 189.1 203.0 189.2 194.8 189.3 194.2 189.4 193.5 189.5 206.4 189.6 194.9 189.8 194.7 189.9 194.8 190.0 200.4 190.1 195.1 190.2 193.8 190.3 192.9 190.4 193.5 190.6 191.5 190.7 196.7 190.8 195.4 190.9 193.1 191.0 199.6 191.1 194.2 191.2 194.9 191.4 191.4 191.5 191.7 191.6 192.2 191.7 191.5 191.8 198.9 191.9 187.4 192.1 190.3 192.2 193.3 192.3 193.2 192.4 194.0 192.5 193.7 192.6 190.6 192.7 196.1 192.9 188.4 193.0 194.0 193.1 187.9 193.2 188.0 193.3 189.3 193.4 186.2 193.5 192.2 193.7 190.1 193.8 191.8 193.9 191.1 194.0 194.5 194.1 192.2 194.2 192.0 194.4 193.2 194.5 190.3 194.6 191.4 194.7 189.8 194.8 191.9 194.9 195.0 195.0 197.7 195.2 193.3 195.3 191.8 195.4 190.0 195.5 186.4 195.6 193.6 195.7 196.5 195.8 194.5 196.0 193.3 196.1 193.5 196.2 191.6 196.3 191.2 196.4 187.4 196.5 191.5 196.6 191.0 196.8 195.3 196.9 188.0 197.0 191.1 197.1 190.5 197.2 190.6 197.3 194.8 197.5 196.6 197.6 191.4 197.7 187.7 197.8 187.2 197.9 189.6 198.0 186.5 198.1 191.3 198.3 191.6 198.4 192.4 198.5 195.5 198.6 187.2 198.7 189.7 198.8 196.4 198.9 193.5 199.1 187.2 199.2 199.6 199.3 192.4 199.4 191.9 199.5 191.7 199.6 192.1 199.8 203.7 199.9 191.5 200.0 190.4 200.1 193.2 200.2 196.7 200.3 182.9 200.4 196.6 200.6 193.0 200.7 189.2 200.8 188.7 200.9 193.5 201.0 196.6 201.1 186.7 201.2 193.6 201.4 194.4 201.5 199.5 201.6 187.9 201.7 191.2 201.8 190.2 201.9 186.2 202.1 190.1 202.2 189.4 202.3 192.9 202.4 188.4 202.5 185.5 202.6 185.3 202.7 199.4 202.9 192.0 203.0 187.1 203.1 193.3 203.2 194.2 203.3 195.0 203.4 190.1 203.5 192.6 203.7 196.5 203.8 193.0 203.9 193.4 204.0 201.2 204.1 194.5 204.2 190.9 204.3 196.7 204.5 190.7 204.6 193.6 204.7 193.0 204.8 188.8 204.9 194.6 205.0 195.4 205.2 193.9 205.3 194.9 205.4 197.8 205.5 191.7 205.6 198.2 205.7 185.5 205.8 189.2 206.0 189.0 206.1 201.0 206.2 194.0 206.3 189.4 206.4 187.6 206.5 186.3 206.6 195.1 206.8 188.6 206.9 193.1 207.0 189.5 207.1 192.7 207.2 194.6 207.3 188.2 207.5 189.4 207.6 192.8 207.7 191.9 207.8 192.8 207.9 194.6 208.0 190.1 208.1 194.0 208.3 193.7 208.4 195.0 208.5 191.3 208.6 195.4 208.7 190.1 208.8 192.2 208.9 196.1 209.1 196.7 209.2 193.2 209.3 195.9 209.4 197.0 209.5 199.1 209.6 188.7 209.7 193.2 209.9 199.8 210.0 194.8 210.1 188.7 210.2 191.6 210.3 199.3 210.4 198.6 210.6 192.1 210.7 194.8 210.8 192.9 210.9 186.6 211.0 191.6 211.1 189.0 211.2 194.4 211.4 192.4 211.5 189.4 211.6 195.6 211.7 192.6 211.8 184.8 211.9 195.0 212.0 191.8 212.2 189.9 212.3 193.1 212.4 194.5 212.5 190.8 212.6 182.4 212.7 194.9 212.9 187.9 213.0 193.2 213.1 184.8 213.2 190.4 213.3 194.1 213.4 187.3 213.5 193.5 213.7 193.0 213.8 187.6 213.9 187.1 214.0 189.5 214.1 196.4 214.2 189.1 214.3 190.0 214.5 193.3 214.6 182.8 214.7 182.9 214.8 182.5 214.9 190.5 215.0 186.9 215.2 192.6 215.3 190.8 215.4 187.7 215.5 185.6 215.6 192.7 215.7 190.5 215.8 192.6 216.0 191.5 216.1 186.6 216.2 200.0 216.3 191.5 216.4 182.2 216.5 192.2 216.6 185.9 216.8 192.9 216.9 186.7 217.0 192.6 217.1 183.2 217.2 191.3 217.3 190.1 217.4 191.4 217.6 190.6 217.7 197.9 217.8 188.5 217.9 196.2 218.0 188.6 218.1 199.4 218.3 183.0 218.4 195.3 218.5 183.8 218.6 190.6 218.7 193.2 218.8 189.1 218.9 192.7 219.1 192.2 219.2 191.2 219.3 194.2 219.4 190.3 219.5 185.6 219.6 190.4 219.7 191.3 219.9 192.3 220.0 190.8 220.1 187.1 220.2 190.0 220.3 187.2 220.4 188.7 220.6 188.3 220.7 187.1 220.8 187.2 220.9 184.6 221.0 187.1 221.1 185.4 221.2 181.4 221.4 185.1 221.5 184.9 221.6 185.5 221.7 186.4 221.8 188.3 221.9 189.6 222.0 188.3 222.2 192.8 222.3 185.9 222.4 192.8 222.5 184.5 222.6 189.3 222.7 187.9 222.8 187.4 223.0 179.6 223.1 188.6 223.2 190.0 223.3 188.3 223.4 189.1 223.5 184.4 223.7 187.4 223.8 185.3 223.9 177.1 224.0 191.0 224.1 191.1 224.2 192.9 224.3 190.2 224.5 192.3 224.6 191.2 224.7 192.9 224.8 186.5 224.9 187.0 225.0 190.8 225.1 194.2 225.3 181.3 225.4 191.4 225.5 184.1 225.6 189.0 225.7 188.2 225.8 196.2 226.0 194.2 226.1 188.3 226.2 190.7 226.3 190.8 226.4 202.1 226.5 186.8 226.6 190.4 226.8 193.0 226.9 191.0 227.0 193.4 227.1 194.5 227.2 188.2 227.3 192.5 227.4 190.9 227.6 196.1 227.7 190.6 227.8 191.1 227.9 191.5 228.0 195.0 228.1 194.0 228.3 194.5 228.4 191.4 228.5 198.6 228.6 189.6 228.7 191.8 228.8 190.7 228.9 197.5 229.1 192.7 229.2 189.1 229.3 195.6 229.4 186.5 229.5 187.1 229.6 184.0 229.7 189.3 229.9 190.7 230.0 186.5 230.1 183.3 230.2 189.1 230.3 185.0 230.4 189.0 230.5 188.8 230.7 189.4 230.8 189.3 230.9 188.1 231.0 194.8 231.1 185.7 231.2 176.2 231.4 188.4 231.5 182.9 231.6 189.9 231.7 189.7 231.8 185.3 231.9 188.1 232.0 195.4 232.2 180.6 232.3 190.4 232.4 191.5 232.5 186.7 232.6 185.5 232.7 187.5 232.8 186.9 233.0 183.8 233.1 187.6 233.2 180.6 233.3 194.4 233.4 187.5 233.5 182.7 233.7 181.8 233.8 178.7 233.9 180.8 234.0 179.7 234.1 178.5 234.2 183.8 234.3 189.5 234.5 181.7 234.6 182.6 234.7 192.0 234.8 176.4 234.9 188.7 235.0 179.6 235.1 174.7 235.3 179.6 235.4 187.9 235.5 183.8 235.6 187.9 235.7 182.6 235.8 176.8 235.9 182.5 236.1 178.1 236.2 182.9 236.3 176.2 236.4 178.7 236.5 184.4 236.6 183.1 236.8 176.3 236.9 179.6 237.0 175.7 237.1 183.8 237.2 175.7 237.3 186.0 237.4 187.8 237.6 183.3 237.7 185.6 237.8 184.4 237.9 181.1 238.0 177.9 238.1 179.1 238.2 183.4 238.4 180.3 238.5 190.7 238.6 181.1 238.7 180.3 238.8 177.5 238.9 184.6 239.1 187.4 239.2 183.1 239.3 180.8 239.4 182.0 239.5 185.4 239.6 181.3 239.7 185.6 239.9 185.3 240.0 190.4 240.1 189.9 240.2 187.6 240.3 185.0 240.4 189.0 240.5 192.2 240.7 185.1 240.8 189.1 240.9 197.6 241.0 195.7 241.1 189.0 241.2 186.4 241.4 186.6 241.5 184.5 241.6 186.4 241.7 186.6 241.8 188.0 241.9 189.0 242.0 191.8 242.2 198.1 242.3 197.7 242.4 180.9 242.5 190.4 242.6 191.0 242.7 186.6 242.8 183.5 243.0 183.5 243.1 181.7 243.2 194.8 243.3 188.6 243.4 189.0 243.5 189.4 243.6 184.3 243.8 186.6 243.9 180.5 244.0 183.5 244.1 185.9 244.2 196.2 244.3 191.1 244.5 183.5 244.6 178.4 244.7 193.4 244.8 179.5 244.9 188.6 245.0 181.4 245.1 196.0 245.3 186.3 245.4 186.9 245.5 183.3 245.6 182.7 245.7 184.3 245.8 187.5 245.9 189.6 246.1 184.2 246.2 185.2 246.3 186.5 246.4 185.9 246.5 184.2 246.6 189.5 246.8 186.0 246.9 182.6 247.0 178.2 247.1 184.1 247.2 181.7 247.3 179.8 247.4 181.3 247.6 187.5 247.7 179.3 247.8 181.8 247.9 183.3 248.0 188.1 248.1 179.1 248.2 177.7 248.4 184.3 248.5 187.5 248.6 185.0 248.7 184.9 248.8 184.1 248.9 179.0 249.0 180.5 249.2 178.6 249.3 182.5 249.4 186.1 249.5 178.2 249.6 181.4 249.7 184.3 249.9 180.2 250.0 179.5 250.1 178.8 250.2 177.2 250.3 189.3 250.4 183.2 250.5 185.8 250.7 191.6 250.8 180.7 250.9 181.2 251.0 185.5 251.1 178.1 251.2 183.4 251.3 175.5 251.5 181.2 251.6 192.0 251.7 180.6 251.8 181.0 251.9 183.0 252.0 186.1 252.2 191.4 252.3 177.0 252.4 185.9 252.5 179.0 252.6 175.8 252.7 180.7 252.8 176.2 253.0 168.0 253.1 177.4 253.2 185.6 253.3 180.5 253.4 181.3 253.5 182.0 253.6 185.1 253.8 186.3 253.9 180.3 254.0 180.2 254.1 185.4 254.2 183.5 254.3 182.4 254.5 182.3 254.6 185.5 254.7 182.9 254.8 179.8 254.9 179.6 255.0 178.9 255.1 181.6 255.3 184.7 255.4 188.6 255.5 173.0 255.6 181.8 255.7 177.5 255.8 190.1 255.9 181.4 256.1 185.9 256.2 178.8 256.3 182.4 256.4 180.8 256.5 173.0 256.6 177.5 256.7 178.8 256.9 176.6 257.0 176.8 257.1 175.4 257.2 171.0 257.3 180.7 257.4 176.1 257.6 174.1 257.7 177.7 257.8 178.9 257.9 180.2 258.0 180.2 258.1 174.1 258.2 174.2 258.4 172.7 258.5 173.7 258.6 179.5 258.7 182.2 258.8 173.5 258.9 178.7 259.0 182.8 259.2 177.5 259.3 180.8 259.4 178.0 259.5 175.1 259.6 177.9 259.7 176.7 259.9 173.7 260.0 177.8 260.1 173.2 260.2 177.2 260.3 182.1 260.4 179.7 260.5 175.0 260.7 178.4 260.8 180.0 260.9 173.1 261.0 183.0 261.1 178.6 261.2 176.1 261.3 179.1 261.5 179.3 261.6 181.4 261.7 180.3 261.8 181.6 261.9 183.7 262.0 180.6 262.1 184.0 262.3 176.9 262.4 175.6 262.5 178.7 262.6 173.2 262.7 184.8 262.8 180.4 263.0 182.9 263.1 182.4 263.2 178.8 263.3 178.2 263.4 181.0 263.5 184.9 263.6 183.1 263.8 184.5 263.9 188.6 264.0 181.1 264.1 179.9 264.2 193.6 264.3 185.1 264.4 186.4 264.6 186.8 264.7 180.1 264.8 185.7 264.9 186.4 265.0 184.0 265.1 184.5 265.3 182.5 265.4 187.9 265.5 185.5 265.6 188.4 265.7 177.9 265.8 185.8 265.9 180.9 266.1 180.4 266.2 186.2 266.3 176.1 266.4 184.1 266.5 178.4 266.6 179.7 266.7 182.4 266.9 178.3 267.0 184.8 267.1 182.5 267.2 181.7 267.3 185.0 267.4 184.9 267.6 182.0 267.7 183.8 267.8 182.2 267.9 179.3 268.0 188.5 268.1 187.8 268.2 169.9 268.4 177.8 268.5 183.7 268.6 175.3 268.7 186.3 268.8 184.1 268.9 182.3 269.0 177.4 269.2 182.5 269.3 174.6 269.4 182.0 269.5 181.0 269.6 184.8 269.7 187.6 269.8 179.2 270.0 177.7 270.1 181.7 270.2 180.8 270.3 182.4 270.4 176.5 270.5 178.5 270.7 174.3 270.8 187.2 270.9 179.8 271.0 185.5 271.1 184.9 271.2 182.1 271.3 187.1 271.5 182.4 271.6 187.7 271.7 184.1 271.8 181.4 271.9 182.4 272.0 177.9 272.1 182.0 272.3 182.3 272.4 176.2 272.5 173.1 272.6 183.6 272.7 173.8 272.8 185.3 273.0 177.1 273.1 171.2 273.2 179.6 273.3 178.5 273.4 170.2 273.5 182.5 273.6 177.8 273.8 175.4 273.9 184.6 274.0 178.1 274.1 176.8 274.2 169.5 274.3 178.9 274.4 179.4 274.6 167.8 274.7 169.4 274.8 175.5 274.9 175.6 275.0 171.1 275.1 179.3 275.2 170.9 275.4 179.3 275.5 177.1 275.6 170.9 275.7 173.9 275.8 173.0 275.9 174.7 276.1 173.1 276.2 174.1 276.3 175.0 276.4 173.3 276.5 186.6 276.6 180.9 276.7 180.9 276.9 164.2 277.0 180.6 277.1 182.9 277.2 176.0 277.3 176.4 277.4 190.0 277.5 171.8 277.7 178.4 277.8 175.1 277.9 177.9 278.0 180.0 278.1 172.1 278.2 182.3 278.4 170.2 278.5 177.5 278.6 174.2 278.7 174.4 278.8 179.7 278.9 179.8 279.0 174.9 279.2 173.4 279.3 178.9 279.4 174.0 279.5 169.8 279.6 179.3 279.7 174.0 279.8 173.9 280.0 171.7 280.1 173.2 280.2 173.1 280.3 171.7 280.4 182.3 280.5 181.8 280.7 175.4 280.8 172.1 280.9 171.5 281.0 176.8 281.1 182.2 281.2 179.6 281.3 170.0 281.5 176.3 281.6 173.4 281.7 170.0 281.8 175.9 281.9 187.5 282.0 171.5 282.1 174.3 282.3 168.8 282.4 178.0 282.5 174.3 282.6 174.8 282.7 174.1 282.8 183.7 282.9 178.9 283.1 175.5 283.2 174.1 283.3 176.8 283.4 184.2 283.5 180.8 283.6 188.9 283.8 180.1 283.9 182.5 284.0 179.0 284.1 182.6 284.2 176.9 284.3 178.5 284.4 177.7 284.6 193.1 284.7 180.5 284.8 185.0 284.9 180.7 285.0 189.9 285.1 179.2 285.2 182.8 285.4 188.9 285.5 180.2 285.6 182.7 285.7 181.4 285.8 171.4 285.9 180.8 286.1 194.5 286.2 188.0 286.3 189.0 286.4 183.5 286.5 182.6 286.6 187.8 286.7 181.9 286.9 189.8 287.0 179.1 287.1 177.8 287.2 187.1 287.3 174.5 287.4 185.4 287.5 177.7 287.7 176.7 287.8 180.5 287.9 186.1 288.0 184.2 288.1 180.7 288.2 187.0 288.3 178.1 288.5 180.1 288.6 181.1 288.7 179.0 288.8 180.5 288.9 176.2 289.0 187.3 289.2 185.5 289.3 180.3 289.4 180.8 289.5 189.2 289.6 181.1 289.7 170.7 289.8 173.5 290.0 179.1 290.1 181.3 290.2 182.6 290.3 178.6 290.4 177.9 290.5 176.3 290.6 178.4 290.8 173.9 290.9 181.1 291.0 176.7 291.1 173.7 291.2 179.3 291.3 178.3 291.5 177.9 291.6 184.9 291.7 179.3 291.8 168.7 291.9 174.4 292.0 179.1 292.1 173.3 292.3 177.0 292.4 170.4 292.5 169.9 292.6 174.6 292.7 169.1 292.8 167.0 292.9 168.5 293.1 170.5 293.2 161.6 293.3 172.9 293.4 176.2 293.5 160.9 293.6 172.9 293.8 175.3 293.9 171.8 294.0 180.5 294.1 181.0 294.2 166.6 294.3 169.6 294.4 175.3 294.6 176.0 294.7 170.1 294.8 187.2 294.9 180.9 295.0 174.5 295.1 177.1 295.2 174.6 295.4 175.4 295.5 182.7 295.6 185.5 295.7 180.7 295.8 177.7 295.9 177.3 296.0 176.0 296.2 179.5 296.3 181.4 296.4 168.8 296.5 182.5 296.6 177.6 296.7 174.4 296.9 182.6 297.0 175.7 297.1 187.4 297.2 175.8 297.3 178.4 297.4 179.9 297.5 180.7 297.7 181.3 297.8 172.2 297.9 173.7 298.0 177.9 298.1 187.2 298.2 173.3 298.3 172.1 298.5 178.9 298.6 169.7 298.7 182.4 298.8 174.0 298.9 179.6 299.0 170.7 299.2 182.4 299.3 181.8 299.4 179.1 299.5 174.6 299.6 180.9 299.7 173.8 299.8 180.7 300.0 181.2 300.1 181.4 300.2 175.0 300.3 179.8 300.4 173.0 300.5 176.6 300.6 173.9 300.8 180.6 300.9 178.8 301.0 166.9 301.1 177.2 301.2 176.1 301.3 168.9 301.4 175.1 301.6 176.5 301.7 185.5 301.8 177.7 301.9 166.8 302.0 167.3 302.1 175.2 302.3 177.0 302.4 180.6 302.5 172.4 302.6 174.6 302.7 173.0 302.8 175.7 302.9 176.2 303.1 183.5 303.2 173.0 303.3 172.9 303.4 178.5 303.5 167.0 303.6 168.3 303.7 173.0 303.9 177.8 304.0 180.7 304.1 174.1 304.2 169.7 304.3 165.5 304.4 174.6 304.6 177.2 304.7 168.6 304.8 169.0 304.9 174.4 305.0 169.6 305.1 163.7 305.2 166.6 305.4 171.6 305.5 171.6 305.6 176.0 305.7 174.2 305.8 171.1 305.9 174.4 306.0 167.8 306.2 178.0 306.3 169.3 306.4 185.8 306.5 176.8 306.6 163.6 306.7 168.8 306.9 174.4 307.0 170.5 307.1 173.4 307.2 174.2 307.3 177.2 307.4 168.4 307.5 175.2 307.7 177.1 307.8 174.5 307.9 174.9 308.0 181.1 308.1 182.4 308.2 183.9 308.3 174.8 308.5 178.3 308.6 181.9 308.7 175.5 308.8 177.3 308.9 186.0 309.0 172.9 309.1 173.7 309.3 170.8 309.4 175.5 309.5 173.1 309.6 172.8 309.7 173.7 309.8 176.6 310.0 174.4 310.1 169.2 310.2 170.1 310.3 167.0 310.4 180.4 310.5 166.3 310.6 177.3 310.8 173.7 310.9 170.5 311.0 170.7 311.1 174.5 311.2 171.1 311.3 165.3 311.4 183.6 311.6 180.7 311.7 175.7 311.8 178.0 311.9 183.2 312.0 184.3 312.1 169.6 312.3 173.8 312.4 178.0 312.5 174.0 312.6 174.7 312.7 176.4 312.8 187.7 312.9 177.9 313.1 175.5 313.2 175.6 313.3 171.3 313.4 180.3 313.5 170.8 313.6 173.1 313.7 177.8 313.9 180.8 314.0 175.1 314.1 170.9 314.2 168.7 314.3 178.2 314.4 177.5 314.5 170.0 314.7 179.6 314.8 175.1 314.9 174.8 315.0 176.8 315.1 175.3 315.2 170.2 315.4 179.9 315.5 180.8 315.6 178.5 315.7 181.3 315.8 173.7 315.9 176.6 316.0 171.9 316.2 168.4 316.3 180.1 316.4 182.2 316.5 178.7 316.6 185.8 316.7 176.2 316.8 185.5 317.0 169.2 317.1 173.4 317.2 179.9 317.3 177.8 317.4 173.0 317.5 175.5 317.7 177.7 317.8 187.7 317.9 162.4 318.0 165.5 318.1 166.6 318.2 179.4 318.3 170.3 318.5 172.0 318.6 172.2 318.7 175.8 318.8 171.0 318.9 168.1 319.0 171.9 319.1 173.2 319.3 171.5 319.4 174.4 319.5 173.9 319.6 171.2 319.7 179.2 319.8 182.6 320.0 174.8 320.1 177.2 320.2 179.8 320.3 181.8 320.4 177.8 320.5 172.9 320.6 169.3 320.8 163.5 320.9 170.9 321.0 173.6 321.1 175.7 321.2 175.0 321.3 172.2 321.4 169.2 321.6 174.7 321.7 167.5 321.8 178.9 321.9 183.1 322.0 168.7 322.1 179.4 322.2 165.8 322.4 168.9 322.5 173.5 322.6 175.1 322.7 168.7 322.8 165.4 322.9 165.1 323.1 178.1 323.2 168.8 323.3 178.6 323.4 172.3 323.5 170.4 323.6 176.9 323.7 177.7 323.9 174.4 324.0 169.2 324.1 167.1 324.2 167.9 324.3 170.0 324.4 171.5 324.5 175.4 324.7 169.8 324.8 172.2 324.9 172.4 325.0 171.3 325.1 166.1 325.2 183.0 325.4 163.6 325.5 173.4 325.6 166.7 325.7 167.4 325.8 174.0 325.9 173.8 326.0 165.2 326.2 169.7 326.3 174.7 326.4 171.2 326.5 168.5 326.6 168.7 326.7 171.6 326.8 169.5 327.0 157.3 327.1 176.5 327.2 166.8 327.3 168.0 327.4 172.7 327.5 174.6 327.6 173.2 327.8 166.1 327.9 165.9 328.0 172.3 328.1 176.3 328.2 168.3 328.3 177.3 328.5 172.9 328.6 170.4 328.7 172.2 328.8 171.1 328.9 174.4 329.0 160.9 329.1 165.2 329.3 161.6 329.4 175.8 329.5 175.1 329.6 154.6 329.7 170.7 329.8 166.9 329.9 174.9 330.1 176.0 330.2 174.6 330.3 171.7 330.4 170.8 330.5 174.3 330.6 168.5 330.8 181.4 330.9 169.6 331.0 174.8 331.1 173.0 331.2 173.2 331.3 168.9 331.4 174.0 331.6 175.2 331.7 178.2 331.8 175.8 331.9 174.3 332.0 182.9 332.1 183.2 332.2 170.6 332.4 165.3 332.5 165.6 332.6 171.5 332.7 167.9 332.8 167.8 332.9 166.8 333.1 177.9 333.2 173.7 333.3 170.7 333.4 184.6 333.5 178.9 333.6 168.9 333.7 172.2 333.9 178.2 334.0 175.5 334.1 183.7 334.2 173.3 334.3 171.9 334.4 183.4 334.5 178.4 334.7 180.3 334.8 181.4 334.9 174.3 335.0 181.4 335.1 176.6 335.2 183.0 335.3 173.9 335.5 176.9 335.6 173.3 335.7 179.8 335.8 173.8 335.9 179.4 336.0 183.0 336.2 179.5 336.3 178.4 336.4 177.7 336.5 169.6 336.6 171.5 336.7 182.7 336.8 177.2 337.0 182.4 337.1 184.1 337.2 163.3 337.3 175.4 337.4 178.8 337.5 177.9 337.6 170.5 337.8 171.7 337.9 162.3 338.0 175.1 338.1 169.4 338.2 177.4 338.3 174.3 338.5 166.5 338.6 174.0 338.7 175.1 338.8 168.7 338.9 171.9 339.0 174.9 339.1 173.0 339.3 184.4 339.4 175.6 339.5 174.0 339.6 175.0 339.7 168.3 339.8 171.3 339.9 167.7 340.1 164.0 340.2 164.0 340.3 163.6 340.4 173.8 340.5 176.5 340.6 171.7 340.7 178.6 340.9 170.8 341.0 163.7 341.1 170.5 341.2 169.3 341.3 164.0 341.4 163.7 341.6 169.4 341.7 171.1 341.8 161.8 341.9 161.4 342.0 174.9 342.1 161.3 342.2 173.9 342.4 168.9 342.5 158.8 342.6 165.2 342.7 164.7 342.8 168.9 342.9 160.0 343.0 168.3 343.2 167.9 343.3 159.6 343.4 177.8 343.5 170.2 343.6 170.4 343.7 167.2 343.9 168.1 344.0 167.0 344.1 159.1 344.2 168.8 344.3 171.9 344.4 173.1 344.5 170.8 344.7 169.4 344.8 170.2 344.9 170.7 345.0 172.9 345.1 164.0 345.2 183.7 345.3 176.5 345.5 170.9 345.6 172.6 345.7 170.0 345.8 174.3 345.9 170.0 346.0 180.2 346.2 181.7 346.3 169.4 346.4 178.4 346.5 177.2 346.6 177.6 346.7 174.0 346.8 174.7 347.0 166.5 347.1 173.3 347.2 174.6 347.3 181.4 347.4 177.9 347.5 165.1 347.6 165.9 347.8 174.5 347.9 176.1 348.0 172.5 348.1 168.6 348.2 168.9 348.3 173.3 348.4 174.5 348.6 166.1 348.7 166.3 348.8 177.4 348.9 169.2 349.0 182.2 349.1 171.9 349.3 171.2 349.4 180.7 349.5 166.8 349.6 166.0 349.7 173.4 349.8 172.4 349.9 175.7 350.1 170.5 350.2 166.0 350.3 156.2 350.4 163.9 350.5 171.1 350.6 168.2 350.7 171.2 350.9 179.3 351.0 186.0 351.1 165.5 351.2 175.9 351.3 172.0 351.4 172.1 351.6 167.5 351.7 177.1 351.8 174.4 351.9 171.0 352.0 176.9 352.1 177.7 352.2 179.1 352.4 177.7 352.5 173.6 352.6 170.2 352.7 166.3 352.8 171.9 352.9 173.8 353.0 172.0 353.2 173.5 353.3 179.1 353.4 165.3 353.5 176.3 353.6 165.2 353.7 171.3 353.8 173.9 354.0 169.0 354.1 166.0 354.2 166.0 354.3 172.9 354.4 167.8 354.5 176.0 354.7 176.7 354.8 176.7 354.9 171.6 355.0 166.3 355.1 174.9 355.2 171.5 355.3 168.3 355.5 170.1 355.6 164.6 355.7 169.2 355.8 165.0 355.9 166.8 356.0 166.5 356.1 164.2 356.3 167.4 356.4 163.6 356.5 163.6 356.6 167.7 356.7 167.1 356.8 160.7 357.0 160.0 357.1 164.3 357.2 171.2 357.3 169.2 357.4 166.8 357.5 170.4 357.6 164.0 357.8 165.7 357.9 178.1 358.0 169.5 358.1 164.5 358.2 164.8 358.3 169.3 358.4 173.4 358.6 161.4 358.7 163.5 358.8 174.8 358.9 165.9 359.0 162.6 359.1 160.1 359.3 160.5 359.4 176.2 359.5 168.0 359.6 165.8 359.7 164.9 359.8 161.5 359.9 167.2 360.1 160.6 360.2 173.6 360.3 167.6 360.4 166.0 360.5 168.7 360.6 171.2 360.7 181.2 360.9 165.1 361.0 168.9 361.1 164.0 361.2 175.8 361.3 161.3 361.4 167.4 361.5 177.8 361.7 167.1 361.8 168.4 361.9 182.8 362.0 168.1 362.1 174.4 362.2 161.8 362.4 168.9 362.5 167.2 362.6 169.5 362.7 165.4 362.8 165.8 362.9 158.7 363.0 159.8 363.2 171.7 363.3 171.0 363.4 168.0 363.5 168.1 363.6 165.7 363.7 171.7 363.8 173.6 364.0 165.9 364.1 164.0 364.2 166.4 364.3 159.3 364.4 167.2 364.5 157.0 364.7 173.1 364.8 159.6 364.9 169.4 365.0 165.4 365.1 165.5 365.2 170.6 365.3 168.7 365.5 168.0 365.6 164.8 365.7 166.7 365.8 169.9 365.9 173.9 366.0 167.8 366.1 161.7 366.3 164.7 366.4 161.6 366.5 169.1 366.6 161.2 366.7 169.5 366.8 161.2 366.9 169.7 367.1 165.0 367.2 170.3 367.3 160.7 367.4 165.1 367.5 165.0 368.7 279.2 368.8 272.5 368.9 269.1 369.0 277.3 369.1 273.5 369.2 278.0 369.4 274.0 369.5 275.0 369.6 268.8 369.7 264.3 369.8 266.3 369.9 268.8 370.1 264.6 370.2 263.5 370.3 264.7 370.4 269.1 370.5 264.7 370.6 266.5 370.7 267.5 370.9 266.2 371.0 262.4 371.1 262.0 371.2 266.5 371.3 265.9 371.4 264.9 371.5 265.0 371.7 262.4 371.8 259.5 371.9 259.1 372.0 259.0 372.1 257.9 372.2 254.0 372.4 267.6 372.5 259.2 372.6 258.3 372.7 253.1 372.8 258.8 372.9 257.2 373.0 257.0 373.2 252.4 373.3 251.7 373.4 252.6 373.5 252.3 373.6 245.2 373.7 253.9 373.8 243.1 374.0 254.9 374.1 256.7 374.2 246.6 374.3 250.5 374.4 245.8 374.5 252.6 374.6 255.1 374.8 245.7 374.9 250.4 375.0 254.8 375.1 251.1 375.2 247.1 375.3 255.1 375.5 244.4 375.6 246.2 375.7 248.2 375.8 247.3 375.9 248.2 376.0 248.2 376.1 252.3 376.3 251.5 376.4 250.3 376.5 249.5 376.6 252.3 376.7 254.9 376.8 250.2 376.9 245.6 377.1 248.5 377.2 251.7 377.3 255.0 377.4 254.3 377.5 255.4 377.6 249.5 377.8 258.8 377.9 251.2 378.0 251.6 378.1 247.9 378.2 249.1 378.3 246.8 378.4 245.6 378.6 248.6 378.7 252.6 378.8 253.7 378.9 247.7 379.0 247.9 379.1 254.1 379.2 249.5 379.4 245.7 379.5 252.8 379.6 253.1 379.7 248.0 379.8 245.5 379.9 239.6 380.0 252.3 380.2 244.6 380.3 251.9 380.4 249.7 380.5 247.8 380.6 241.8 380.7 244.5 380.9 252.8 381.0 243.9 381.1 244.5 381.2 243.6 381.3 252.9 381.4 244.6 381.5 245.5 381.7 249.7 381.8 247.5 381.9 250.7 382.0 238.6 382.1 236.6 382.2 234.7 382.3 234.4 382.5 245.1 382.6 244.8 382.7 244.8 382.8 244.2 382.9 248.6 383.0 236.4 383.2 235.8 383.3 251.4 383.4 241.6 383.5 247.2 383.6 255.1 383.7 248.3 383.8 252.6 384.0 244.5 384.1 237.4 384.2 249.5 384.3 250.2 384.4 242.0 384.5 243.0 384.6 245.7 384.8 237.2 384.9 252.2 385.0 254.1 385.1 252.6 385.2 250.4 385.3 236.1 385.5 251.3 385.6 250.7 385.7 257.8 385.8 253.1 385.9 250.2 386.0 242.8 386.1 248.9 386.3 246.1 386.4 237.9 386.5 248.4 386.6 244.2 386.7 246.3 386.8 252.7 386.9 248.4 387.1 240.5 387.2 250.0 387.3 242.1 387.4 251.3 387.5 243.5 387.6 239.4 387.7 239.7 387.9 237.9 388.0 242.0 388.1 242.0 388.2 248.1 388.3 235.5 388.4 236.7 388.6 244.9 388.7 253.8 388.8 248.3 388.9 257.4 389.0 245.5 389.1 236.4 389.2 249.8 389.4 245.7 389.5 237.3 389.6 237.3 389.7 237.0 389.8 247.6 389.9 236.5 390.0 234.3 390.2 243.2 390.3 243.3 390.4 252.7 390.5 240.3 390.6 244.7 390.7 239.2 390.9 238.4 391.0 244.0 391.1 247.1 391.2 242.5 391.3 236.7 391.4 237.0 391.5 243.3 391.7 243.7 391.8 239.0 391.9 238.9 392.0 238.8 392.1 239.5 392.2 234.9 392.3 244.4 392.5 241.5 392.6 235.7 392.7 239.1 392.8 243.1 392.9 243.7 393.0 249.6 393.1 237.7 393.3 241.2 393.4 246.6 393.5 239.0 393.6 232.7 393.7 247.3 393.8 238.3 394.0 244.7 394.1 242.5 394.2 249.4 394.3 240.2 394.4 235.4 394.5 243.4 394.6 237.4 394.8 244.3 394.9 240.0 395.0 256.7 395.1 236.2 395.2 246.7 395.3 259.1 395.4 247.5 395.6 244.7 395.7 241.5 395.8 252.3 395.9 241.5 396.0 246.9 396.1 239.8 396.3 235.5 396.4 246.2 396.5 242.2 396.6 247.7 396.7 239.4 396.8 247.4 396.9 249.1 397.1 241.5 397.2 242.6 397.3 243.7 397.4 237.8 397.5 246.5 397.6 236.1 397.7 241.9 397.9 239.8 398.0 240.6 398.1 238.9 398.2 246.1 398.3 230.0 398.4 242.6 398.6 246.0 398.7 247.8 398.8 237.9 398.9 233.6 399.0 239.4 399.1 247.2 399.2 242.3 399.4 236.5 399.5 243.2 399.6 238.4 399.7 235.8 399.8 244.0 399.9 241.0 400.0 240.0 400.2 244.3 400.3 237.7 400.4 239.8 400.5 247.8 400.6 250.5 400.7 239.0 400.8 234.6 401.0 241.6 401.1 235.1 401.2 238.8 401.3 243.0 401.4 234.4 401.5 238.3 401.7 236.0 401.8 239.1 401.9 238.1 402.0 233.4 402.1 245.2 402.2 241.3 402.3 237.3 402.5 251.3 402.6 240.7 402.7 230.8 402.8 241.6 402.9 245.5 403.0 241.8 403.1 246.0 403.3 240.9 403.4 241.9 403.5 233.8 403.6 240.5 403.7 245.5 403.8 241.9 404.0 236.1 404.1 255.4 404.2 233.4 404.3 238.0 404.4 241.6 404.5 234.7 404.6 236.7 404.8 240.5 404.9 240.2 405.0 241.7 405.1 233.5 405.2 241.6 405.3 237.0 405.4 241.8 405.6 241.1 405.7 234.5 405.8 239.9 405.9 246.6 406.0 242.4 406.1 234.6 406.2 235.7 406.4 232.0 406.5 242.9 406.6 239.5 406.7 237.9 406.8 242.3 406.9 251.1 407.1 242.8 407.2 248.5 407.3 247.2 407.4 244.3 407.5 247.6 407.6 240.2 407.7 248.3 407.9 236.2 408.0 239.5 408.1 239.4 408.2 230.9 408.3 245.8 408.4 245.4 408.5 251.7 408.7 245.9 408.8 246.7 408.9 243.5 409.0 241.2 409.1 243.2 409.2 238.7 409.4 244.5 409.5 242.0 409.6 234.8 409.7 247.2 409.8 249.9 409.9 241.4 410.0 239.7 410.2 242.1 410.3 243.5 410.4 235.6 410.5 239.3 410.6 239.3 410.7 250.5 410.8 244.6 411.0 243.9 411.1 243.8 411.2 237.5 411.3 241.4 411.4 245.1 411.5 243.9 411.7 237.8 411.8 243.9 411.9 238.0 412.0 234.2 412.1 238.7 412.2 239.5 412.3 240.0 412.5 239.4 412.6 243.4 412.7 231.4 412.8 237.0 412.9 228.6 413.0 222.7 413.1 233.6 413.3 234.6 413.4 230.6 413.5 235.0 413.6 234.1 413.7 239.2 413.8 238.1 413.9 241.0 414.1 227.2 414.2 240.8 414.3 239.6 414.4 225.7 414.5 232.6 414.6 239.2 414.8 228.6 414.9 239.8 415.0 230.3 415.1 252.3 415.2 238.6 415.3 240.0 415.4 241.6 415.6 238.7 415.7 241.0 415.8 242.9 415.9 235.3 416.0 225.6 416.1 240.8 416.2 230.1 416.4 232.5 416.5 230.5 416.6 247.4 416.7 238.1 416.8 232.5 416.9 234.2 417.1 241.3 417.2 238.0 417.3 238.5 417.4 236.5 417.5 227.6 417.6 237.5 417.7 236.8 417.9 243.4 418.0 242.5 418.1 237.0 418.2 238.1 418.3 245.6 418.4 238.0 418.5 233.1 418.7 235.7 418.8 241.9 418.9 248.3 419.0 237.3 419.1 238.2 419.2 231.9 419.3 229.9 419.5 229.3 419.6 228.6 419.7 228.6 419.8 233.3 419.9 235.0 420.0 227.2 420.2 242.6 420.3 240.8 420.4 241.9 420.5 230.9 420.6 236.0 420.7 240.3 420.8 236.2 421.0 230.6 421.1 242.7 421.2 236.5 421.3 245.4 421.4 236.2 421.5 234.1 421.6 234.7 421.8 246.0 421.9 226.0 422.0 238.3 422.1 241.4 422.2 234.4 422.3 244.4 422.5 237.6 422.6 231.2 422.7 232.4 422.8 237.0 422.9 241.6 423.0 231.0 423.1 239.8 423.3 240.1 423.4 242.1 423.5 243.0 423.6 240.6 423.7 232.7 423.8 240.2 423.9 221.4 424.1 237.0 424.2 242.1 424.3 231.9 424.4 237.9 424.5 234.7 424.6 238.0 424.8 240.5 424.9 240.9 425.0 233.8 425.1 233.4 425.2 235.3 425.3 234.4 425.4 232.1 425.6 246.5 425.7 239.7 425.8 233.3 425.9 238.2 426.0 245.3 426.1 244.5 426.2 239.3 426.4 232.6 426.5 241.5 426.6 233.4 426.7 233.9 426.8 240.1 426.9 241.6 427.0 238.5 427.2 236.9 427.3 240.9 427.4 231.3 427.5 236.3 427.6 244.5 427.7 239.8 427.9 231.2 428.0 236.3 428.1 231.6 428.2 236.5 428.3 237.2 428.4 232.3 428.5 243.6 428.7 238.6 428.8 229.6 428.9 231.0 429.0 240.1 429.1 233.5 429.2 236.3 429.3 234.5 429.5 233.2 429.6 232.4 429.7 232.3 429.8 234.0 429.9 239.2 430.0 237.4 430.2 235.0 430.3 245.4 430.4 243.1 430.5 237.1 430.6 236.8 430.7 238.3 430.8 237.6 431.0 233.1 431.1 241.7 431.2 245.1 431.3 236.8 431.4 241.7 431.5 237.5 431.6 234.8 431.8 236.1 431.9 233.9 432.0 232.2 432.1 228.0 432.2 237.0 432.3 237.2 432.4 233.1 432.6 229.3 432.7 239.2 432.8 227.0 432.9 241.7 433.0 238.8 433.1 240.0 433.3 239.7 433.4 236.4 433.5 233.8 433.6 235.6 433.7 234.4 433.8 234.7 433.9 230.0 434.1 240.7 434.2 239.0 434.3 228.6 434.4 235.4 434.5 238.0 434.6 233.5 434.7 241.0 434.9 240.5 435.0 242.7 435.1 236.6 435.2 229.7 435.3 233.2 435.4 227.3 435.6 237.3 435.7 238.9 435.8 234.2 435.9 233.4 436.0 237.5 436.1 237.6 436.2 227.9 436.4 232.3 436.5 232.3 436.6 230.0 436.7 239.7 436.8 226.8 436.9 228.2 437.0 235.4 437.2 224.3 437.3 227.3 437.4 227.7 437.5 234.8 437.6 242.9 437.7 233.5 437.9 233.3 438.0 222.7 438.1 230.6 438.2 235.5 438.3 228.0 438.4 230.7 438.5 235.1 438.7 225.8 438.8 216.2 438.9 230.7 439.0 227.4 439.1 231.9 439.2 230.1 439.3 227.7 439.5 224.5 439.6 232.6 439.7 228.8 439.8 237.6 439.9 230.2 440.0 236.0 440.1 229.0 440.3 229.5 440.4 227.4 440.5 233.7 440.6 230.0 440.7 235.2 440.8 229.3 441.0 235.5 441.1 237.1 441.2 232.0 441.3 226.3 441.4 228.0 441.5 224.2 441.6 222.2 441.8 234.1 441.9 229.3 442.0 224.4 442.1 228.6 442.2 231.2 442.3 227.1 442.4 227.4 442.6 223.6 442.7 231.6 442.8 226.5 442.9 235.1 443.0 225.8 443.1 225.6 443.3 229.6 443.4 234.5 443.5 228.8 443.6 225.3 443.7 229.9 443.8 226.1 443.9 234.0 444.1 227.2 444.2 228.4 444.3 235.4 444.4 232.3 444.5 229.7 444.6 225.6 444.7 235.9 444.9 235.9 445.0 236.4 445.1 239.2 445.2 235.5 445.3 235.3 445.4 233.0 445.5 239.3 445.7 235.7 445.8 236.7 445.9 231.1 446.0 228.3 446.1 232.2 446.2 227.7 446.4 235.0 446.5 230.7 446.6 228.4 446.7 231.0 446.8 237.3 446.9 224.7 447.0 236.2 447.2 228.1 447.3 233.9 447.4 225.3 447.5 221.6 447.6 233.8 447.7 227.4 447.8 234.3 448.0 225.7 448.1 231.5 448.2 227.1 448.3 229.7 448.4 236.2 448.5 230.1 448.7 224.3 448.8 227.3 448.9 233.8 449.0 230.5 449.1 228.6 449.2 230.8 449.3 231.6 449.5 229.3 449.6 237.1 449.7 234.4 449.8 229.0 449.9 228.2 450.0 225.7 450.1 235.3 450.3 232.2 450.4 228.8 450.5 231.4 450.6 234.3 450.7 235.4 450.8 234.9 450.9 230.9 451.1 233.4 451.2 224.4 451.3 232.6 451.4 230.8 451.5 232.8 451.6 239.8 451.8 238.1 451.9 236.3 452.0 236.7 452.1 234.6 452.2 237.5 452.3 228.2 452.4 237.4 452.6 237.2 452.7 238.7 452.8 235.4 452.9 234.4 453.0 237.6 453.1 225.9 453.2 235.6 453.4 244.7 453.5 233.1 453.6 233.7 453.7 232.0 453.8 237.9 453.9 243.4 454.1 237.7 454.2 232.6 454.3 239.6 454.4 236.3 454.5 230.9 454.6 230.5 454.7 237.1 454.9 239.0 455.0 233.6 455.1 234.5 455.2 230.4 455.3 230.8 455.4 228.1 455.5 231.0 455.7 232.9 455.8 234.2 455.9 217.6 456.0 227.6 456.1 230.1 456.2 225.9 456.4 228.1 456.5 229.8 456.6 220.2 456.7 221.2 456.8 231.7 456.9 228.9 457.0 226.7 457.2 233.6 457.3 224.1 457.4 227.1 457.5 226.4 457.6 227.2 457.7 228.1 457.8 231.0 458.0 225.0 458.1 229.9 458.2 222.3 458.3 227.1 458.4 225.0 458.5 225.7 458.6 231.9 458.8 230.1 458.9 225.0 459.0 225.4 459.1 230.0 459.2 221.7 459.3 236.8 459.5 229.6 459.6 227.8 459.7 227.8 459.8 236.1 459.9 227.9 460.0 232.4 460.1 229.0 460.3 231.7 460.4 234.3 460.5 230.2 460.6 227.1 460.7 236.2 460.8 242.1 460.9 233.4 461.1 232.5 461.2 232.5 461.3 235.2 461.4 232.0 461.5 227.6 461.6 231.9 461.8 241.0 461.9 235.9 462.0 231.3 462.1 231.2 462.2 232.0 462.3 225.0 462.4 224.6 462.6 232.0 462.7 228.7 462.8 229.1 462.9 221.9 463.0 228.6 463.1 227.0 463.2 224.0 463.4 226.5 463.5 221.8 463.6 232.0 463.7 231.3 463.8 224.7 463.9 232.5 464.0 236.3 464.2 226.0 464.3 220.1 464.4 231.2 464.5 236.4 464.6 225.4 464.7 224.6 464.9 221.7 465.0 228.6 465.1 225.6 465.2 229.9 465.3 226.2 465.4 221.3 465.5 220.6 465.7 228.1 465.8 230.1 465.9 229.6 466.0 224.3 466.1 228.6 466.2 230.6 466.3 230.2 466.5 228.8 466.6 233.8 466.7 228.7 466.8 227.5 466.9 233.0 467.0 223.2 467.2 230.3 467.3 230.8 467.4 222.6 467.5 228.1 467.6 229.8 467.7 224.0 467.8 231.3 468.0 227.5 468.1 225.2 468.2 226.5 468.3 231.4 468.4 230.9 468.5 226.2 468.6 229.6 468.8 229.1 468.9 223.2 469.0 227.4 469.1 231.9 469.2 235.9 469.3 222.0 469.5 236.1 469.6 227.5 469.7 228.9 469.8 225.7 469.9 227.1 470.0 227.7 470.1 232.0 470.3 231.6 470.4 232.7 470.5 237.2 470.6 236.8 470.7 230.4 470.8 228.2 470.9 227.7 471.1 233.0 471.2 233.9 471.3 222.2 471.4 228.3 471.5 227.0 471.6 230.0 471.7 226.1 471.9 224.9 472.0 226.1 472.1 228.2 472.2 226.7 472.3 227.1 472.4 220.9 472.6 227.1 472.7 221.5 472.8 226.7 472.9 216.1 473.0 226.8 473.1 224.3 473.2 220.0 473.4 227.9 473.5 221.9 473.6 228.5 473.7 228.7 473.8 219.6 473.9 232.1 474.0 226.1 474.2 223.7 474.3 224.1 474.4 221.1 474.5 222.1 474.6 226.0 474.7 224.7 474.9 223.5 475.0 222.4 475.1 227.6 475.2 229.4 475.3 221.6 475.4 228.7 475.5 222.3 475.7 222.8 475.8 222.4 475.9 226.0 476.0 223.2 476.1 230.8 476.2 222.1 476.3 221.7 476.5 220.9 476.6 225.3 476.7 223.6 476.8 222.6 476.9 224.3 477.0 230.1 477.1 227.9 477.3 235.5 477.4 230.9 477.5 224.8 477.6 225.8 477.7 222.8 477.8 228.5 478.0 227.3 478.1 228.1 478.2 222.2 478.3 220.7 478.4 223.9 478.5 233.0 478.6 220.5 478.8 225.7 478.9 221.9 479.0 222.3 479.1 221.7 479.2 226.2 479.3 230.6 479.4 221.4 479.6 222.4 479.7 216.0 479.8 219.5 479.9 214.7 480.0 220.4 480.1 223.1 480.3 218.7 480.4 219.4 480.5 218.8 480.6 218.8 480.7 215.5 480.8 220.9 480.9 214.7 481.1 216.8 481.2 218.6 481.3 214.2 481.4 213.5 481.5 214.8 481.6 210.3 481.7 210.5 481.9 215.5 482.0 216.9 482.1 220.6 482.2 215.7 482.3 218.3 482.4 218.4 482.6 215.5 482.7 215.7 482.8 219.6 482.9 215.5 483.0 221.7 483.1 215.9 483.2 216.9 483.4 218.2 483.5 216.4 483.6 212.3 483.7 210.7 483.8 218.6 483.9 217.5 484.0 211.6 484.2 219.7 484.3 217.4 484.4 216.9 484.5 215.0 484.6 222.0 484.7 217.5 484.8 219.7 485.0 219.9 485.1 216.3 485.2 213.5 485.3 219.9 485.4 220.3 485.5 218.9 485.7 216.0 485.8 222.0 485.9 223.0 486.0 221.6 486.1 224.8 486.2 224.7 486.3 217.8 486.5 220.9 486.6 214.0 486.7 223.6 486.8 230.2 486.9 216.8 487.0 231.9 487.1 222.0 487.3 220.2 487.4 221.0 487.5 222.9 487.6 224.2 487.7 214.0 487.8 217.2 488.0 212.3 488.1 220.4 488.2 214.6 488.3 220.5 488.4 218.9 488.5 223.1 488.6 216.8 488.8 228.8 488.9 225.9 489.0 216.9 489.1 222.6 489.2 219.2 489.3 220.7 489.4 216.4 489.6 221.7 489.7 214.7 489.8 218.1 489.9 219.4 490.0 221.8 490.1 216.2 490.2 219.4 490.4 216.0 490.5 223.3 490.6 221.6 490.7 221.1 490.8 226.4 490.9 220.3 491.1 228.6 491.2 225.6 491.3 221.9 491.4 217.8 491.5 223.7 491.6 220.3 491.7 224.6 491.9 217.8 492.0 230.1 492.1 226.9 492.2 226.0 492.3 224.2 492.4 215.8 492.5 233.1 492.7 218.0 492.8 227.1 492.9 218.3 493.0 208.0 493.1 221.3 493.2 225.0 493.4 216.3 493.5 222.3 493.6 221.3 493.7 221.8 493.8 220.6 493.9 227.6 494.0 216.8 494.2 218.4 494.3 231.7 494.4 220.5 494.5 223.1 494.6 212.3 494.7 222.6 494.8 220.9 495.0 219.9 495.1 212.9 495.2 223.4 495.3 221.6 495.4 215.6 495.5 229.5 495.7 222.6 495.8 219.7 495.9 228.4 496.0 221.6 496.1 215.0 496.2 223.9 496.3 211.1 496.5 220.8 496.6 219.9 496.7 219.3 496.8 217.6 496.9 215.0 497.0 213.9 497.1 222.1 497.3 218.1 497.4 224.4 497.5 215.3 497.6 215.2 497.7 219.6 497.8 226.5 497.9 218.4 498.1 222.2 498.2 216.7 498.3 218.2 498.4 219.3 498.5 219.2 498.6 226.3 498.8 224.1 498.9 224.6 499.0 223.6 499.1 224.3 499.2 228.2 499.3 224.5 499.4 221.8 499.6 227.0 499.7 223.7 499.8 229.9 499.9 225.4 500.0 225.6 500.1 218.6 500.2 221.4 500.4 224.4 500.5 227.7 500.6 213.3 500.7 223.7 500.8 224.8 500.9 222.1 501.1 223.9 501.2 226.1 501.3 218.5 501.4 218.6 501.5 220.4 501.6 219.3 501.7 224.5 501.9 219.5 502.0 219.2 502.1 222.9 502.2 219.4 502.3 219.9 502.4 219.9 502.5 217.8 502.7 218.0 502.8 216.7 502.9 209.1 503.0 212.0 503.1 219.3 503.2 209.8 503.3 214.2 503.5 215.6 503.6 223.5 503.7 220.2 503.8 214.9 503.9 214.6 504.0 220.8 504.2 218.3 504.3 221.5 504.4 214.8 504.5 210.8 504.6 214.3 504.7 219.7 504.8 216.4 505.0 219.0 505.1 211.1 505.2 211.2 505.3 217.8 505.4 213.6 505.5 217.8 505.6 209.6 505.8 216.2 505.9 214.6 506.0 218.8 506.1 220.1 507.3 206.5 507.4 201.4 507.5 197.9 507.6 204.0 507.7 195.8 507.8 196.7 507.9 198.4 508.1 205.5 508.2 201.9 508.3 197.3 508.4 198.0 508.5 198.4 508.6 200.8 508.8 194.3 508.9 187.0 509.0 204.4 509.1 190.5 509.2 188.6 509.3 203.9 509.4 194.0 509.6 190.0 509.7 194.2 509.8 191.8 509.9 191.0 510.0 189.7 510.1 190.6 510.2 185.8 510.4 193.8 510.5 191.9 510.6 188.6 510.7 190.2 510.8 189.2 510.9 195.2 511.0 191.6 511.2 186.0 511.3 188.9 511.4 191.6 511.5 185.8 511.6 185.9 511.7 184.5 511.9 194.4 512.0 179.9 512.1 186.8 512.2 185.3 512.3 196.6 512.4 178.4 512.5 185.6 512.7 183.2 512.8 181.6 512.9 188.7 513.0 178.3 513.1 188.9 513.2 193.6 513.3 186.2 513.5 186.8 513.6 183.2 513.7 183.7 513.8 185.8 513.9 183.5 514.0 190.9 514.2 185.9 514.3 173.5 514.4 183.9 514.5 180.9 514.6 185.7 514.7 184.0 514.8 182.1 515.0 180.9 515.1 178.1 515.2 187.4 515.3 171.4 515.4 190.6 515.5 178.8 515.6 182.7 515.8 185.9 515.9 189.6 516.0 184.6 516.1 184.4 516.2 179.1 516.3 165.9 516.4 177.8 516.6 179.9 516.7 174.8 516.8 167.6 516.9 174.2 517.0 175.6 517.1 174.7 517.3 179.1 517.4 177.4 517.5 172.8 517.6 171.5 517.7 169.8 517.8 178.2 517.9 178.7 518.1 171.0 518.2 168.6 518.3 171.6 518.4 172.5 518.5 168.9 518.6 178.1 518.7 177.4 518.9 173.2 519.0 169.3 519.1 163.5 519.2 171.6 519.3 174.1 519.4 173.0 519.6 171.7 519.7 170.4 519.8 172.6 519.9 173.9 520.0 169.5 520.1 179.4 520.2 175.7 520.4 167.8 520.5 169.8 520.6 171.0 520.7 172.8 520.8 167.1 520.9 167.8 521.0 168.0 521.2 164.0 521.3 169.2 521.4 161.7 521.5 161.2 521.6 170.6 521.7 164.9 521.9 164.4 522.0 170.3 522.1 170.0 522.2 170.9 522.3 171.8 522.4 161.7 522.5 175.9 522.7 168.2 522.8 176.7 522.9 167.8 523.0 177.4 523.1 170.1 523.2 171.5 523.3 181.1 523.5 166.1 523.6 176.9 523.7 178.0 523.8 173.2 523.9 181.3 524.0 172.3 524.1 164.2 524.3 177.8 524.4 177.7 524.5 177.5 524.6 174.1 524.7 170.5 524.8 184.7 525.0 172.1 525.1 183.0 525.2 179.4 525.3 179.5 525.4 175.2 525.5 179.9 525.6 178.9 525.8 174.9 525.9 171.6 526.0 174.8 526.1 178.4 526.2 170.9 526.3 178.1 526.4 169.3 526.6 184.5 526.7 180.3 526.8 180.6 526.9 170.1 527.0 171.7 527.1 173.1 527.3 173.5 527.4 170.8 527.5 172.0 527.6 171.2 527.7 182.6 527.8 177.4 527.9 166.5 528.1 172.3 528.2 176.3 528.3 170.7 528.4 177.0 528.5 164.1 528.6 169.9 528.7 165.8 528.9 178.2 529.0 171.7 529.1 167.8 529.2 173.1 529.3 167.5 529.4 172.4 529.5 166.3 529.7 163.6 529.8 167.4 529.9 162.9 530.0 165.9 530.1 175.2 530.2 168.4 530.4 175.3 530.5 173.7 530.6 173.5 530.7 168.9 530.8 166.8 530.9 164.6 531.0 159.1 531.2 183.9 531.3 181.3 531.4 164.1 531.5 172.6 531.6 169.0 531.7 175.6 531.8 173.0 532.0 167.6 532.1 170.4 532.2 172.7 532.3 168.5 532.4 172.3 532.5 170.9 532.7 169.0 532.8 170.2 532.9 171.0 533.0 175.2 533.1 165.7 533.2 172.1 533.3 170.7 533.5 167.9 533.6 165.8 533.7 159.7 533.8 160.3 533.9 173.9 534.0 166.6 534.1 169.3 534.3 168.1 534.4 160.9 534.5 166.4 534.6 169.4 534.7 173.3 534.8 162.6 535.0 167.3 535.1 170.0 535.2 158.9 535.3 169.9 535.4 166.0 535.5 160.7 535.6 166.5 535.8 171.0 535.9 160.6 536.0 161.2 536.1 160.5 536.2 165.9 536.3 171.0 536.4 169.4 536.6 172.0 536.7 153.6 536.8 163.1 536.9 162.1 537.0 166.3 537.1 168.4 537.2 166.6 537.4 175.2 537.5 171.1 537.6 174.7 537.7 160.0 537.8 170.0 537.9 164.9 538.1 171.6 538.2 166.4 538.3 169.6 538.4 164.0 538.5 171.1 538.6 171.2 538.7 165.7 538.9 172.2 539.0 165.3 539.1 162.5 539.2 171.7 539.3 167.2 539.4 164.3 539.5 158.3 539.7 168.9 539.8 163.4 539.9 167.4 540.0 170.7 540.1 163.7 540.2 164.1 540.4 163.2 540.5 160.3 540.6 167.8 540.7 167.0 540.8 162.2 540.9 161.6 541.0 156.5 541.2 170.5 541.3 161.5 541.4 161.3 541.5 165.8 541.6 160.0 541.7 159.7 541.8 159.4 542.0 162.2 542.1 153.1 542.2 163.8 542.3 163.9 542.4 162.2 542.5 162.3 542.6 159.7 542.8 166.5 542.9 164.4 543.0 155.1 543.1 166.0 543.2 161.6 543.3 166.3 543.5 167.2 543.6 163.7 543.7 163.8 543.8 165.4 543.9 158.5 544.0 163.3 544.1 164.3 544.3 158.6 544.4 160.5 544.5 155.9 544.6 165.9 544.7 158.1 544.8 167.1 544.9 166.7 545.1 156.7 545.2 165.1 545.3 165.1 545.4 159.5 545.5 169.6 545.6 168.1 545.8 169.8 545.9 163.5 546.0 162.0 546.1 160.2 546.2 152.2 546.3 161.5 546.4 155.9 546.6 161.6 546.7 159.3 546.8 157.8 546.9 163.5 547.0 159.5 547.1 162.8 547.2 161.2 547.4 154.6 547.5 150.2 547.6 175.1 547.7 158.0 547.8 160.6 547.9 165.4 548.1 160.9 548.2 160.2 548.3 164.2 548.4 160.3 548.5 161.7 548.6 159.3 548.7 157.4 548.9 168.0 549.0 160.6 549.1 163.4 549.2 155.5 549.3 168.2 549.4 159.0 549.5 159.9 549.7 157.5 549.8 159.0 549.9 160.4 550.0 159.8 550.1 159.7 550.2 152.4 550.3 161.2 550.5 157.9 550.6 157.9 550.7 160.1 550.8 152.7 550.9 162.0 551.0 152.6 551.2 148.4 551.3 160.3 551.4 158.8 551.5 156.9 551.6 152.2 551.7 166.0 551.8 157.4 552.0 149.9 552.1 147.3 552.2 154.3 552.3 156.3 552.4 163.6 552.5 158.6 552.6 145.2 552.8 152.8 552.9 161.1 553.0 145.9 553.1 156.8 553.2 155.2 553.3 152.0 553.5 154.2 553.6 151.3 553.7 155.2 553.8 152.6 553.9 159.9 554.0 149.0 554.1 151.9 554.3 152.1 554.4 144.7 554.5 152.8 554.6 150.2 554.7 149.8 554.8 149.4 554.9 148.9 555.1 151.8 555.2 147.2 555.3 155.5 555.4 158.0 555.5 152.1 555.6 157.7 555.7 151.7 555.9 159.0 556.0 162.8 556.1 166.6 556.2 159.3 556.3 155.8 556.4 158.4 556.6 154.6 556.7 150.8 556.8 158.7 556.9 157.8 557.0 163.9 557.1 157.0 557.2 150.5 557.4 161.5 557.5 154.0 557.6 158.4 557.7 159.1 557.8 153.5 557.9 145.2 558.0 157.8 558.2 158.4 558.3 157.6 558.4 162.4 558.5 156.8 558.6 157.4 558.7 155.5 558.9 157.5 559.0 154.6 559.1 150.9 559.2 150.9 559.3 153.5 559.4 148.5 559.5 150.4 559.7 149.0 559.8 142.9 559.9 148.6 560.0 145.6 560.1 155.1 560.2 150.8 560.3 152.9 560.5 156.9 560.6 151.2 560.7 155.3 560.8 151.0 560.9 150.9 561.0 151.9 561.2 153.4 561.3 152.6 561.4 151.9 561.5 154.6 561.6 149.4 561.7 149.9 561.8 156.8 562.0 153.1 562.1 151.0 562.2 154.0 562.3 148.6 562.4 155.0 562.5 152.0 562.6 154.8 562.8 151.9 562.9 152.9 563.0 152.7 563.1 155.8 563.2 151.5 563.3 154.3 563.4 157.4 563.6 155.0 563.7 151.7 563.8 151.1 563.9 156.5 564.0 154.9 564.1 143.1 564.3 154.8 564.4 153.2 564.5 153.3 564.6 159.7 564.7 154.1 564.8 151.1 564.9 153.7 565.1 156.3 565.2 155.4 565.3 151.2 565.4 163.0 565.5 154.1 565.6 156.8 565.7 152.2 565.9 155.3 566.0 156.4 566.1 147.6 566.2 159.5 566.3 153.6 566.4 155.2 566.6 150.8 566.7 155.6 566.8 154.9 566.9 156.9 567.0 155.5 567.1 156.6 567.2 154.2 567.4 153.4 567.5 154.9 567.6 155.0 567.7 152.6 567.8 151.6 567.9 151.9 568.0 154.4 568.2 150.6 568.3 156.2 568.4 148.7 568.5 147.0 568.6 152.9 568.7 149.9 568.8 152.9 569.0 152.3 569.1 151.9 569.2 151.0 569.3 149.8 569.4 147.6 569.5 152.9 569.7 150.8 569.8 147.6 569.9 154.5 570.0 151.1 570.1 149.7 570.2 149.2 570.3 155.1 570.5 156.5 570.6 156.6 570.7 150.9 570.8 145.4 570.9 153.0 571.0 154.2 571.1 148.5 571.3 154.8 571.4 146.4 571.5 155.0 571.6 149.0 571.7 154.7 571.8 154.2 572.0 152.1 572.1 150.7 572.2 151.2 572.3 152.4 572.4 153.1 572.5 151.3 572.6 150.8 572.8 151.0 572.9 149.6 573.0 148.5 573.1 149.2 573.2 146.4 573.3 148.8 573.4 152.0 573.6 149.7 573.7 143.7 573.8 149.2 573.9 147.2 574.0 149.2 574.1 152.6 574.3 148.8 574.4 145.8 574.5 148.1 574.6 145.1 574.7 143.9 574.8 152.8 574.9 143.2 576.1 258.5 576.2 255.0 576.3 261.9 576.4 259.2 576.5 259.0 576.7 252.2 576.8 252.7 576.9 250.4 577.0 251.8 577.1 254.5 577.2 254.1 577.4 250.6 577.5 255.3 577.6 254.8 577.7 256.9 577.8 240.3 577.9 250.1 578.0 249.8 578.2 253.4 578.3 249.9 578.4 248.5 578.5 251.9 578.6 248.3 578.7 252.7 578.8 252.8 579.0 258.1 579.1 243.8 579.2 237.0 579.3 241.2 579.4 258.1 579.5 242.2 579.7 239.1 579.8 239.4 579.9 242.2 580.0 234.3 580.1 247.6 580.2 242.8 580.3 240.4 580.5 247.6 580.6 243.0 580.7 239.5 580.8 236.2 580.9 240.2 581.0 234.8 581.1 243.1 581.3 235.5 581.4 233.3 581.5 240.2 581.6 233.7 581.7 230.3 581.8 239.3 581.9 238.2 582.1 224.4 582.2 235.6 582.3 245.8 582.4 243.4 582.5 232.3 582.6 242.0 582.8 235.4 582.9 238.9 583.0 246.4 583.1 228.1 583.2 238.2 583.3 236.6 583.4 233.7 583.6 235.9 583.7 233.1 583.8 243.1 583.9 233.2 584.0 232.7 584.1 247.2 584.2 234.3 584.4 242.3 584.5 234.1 584.6 233.9 584.7 228.0 584.8 236.2 584.9 238.4 585.1 233.7 585.2 240.0 585.3 237.6 585.4 234.1 585.5 225.9 585.6 241.4 585.7 236.5 585.9 236.1 586.0 241.1 586.1 232.7 586.2 238.3 586.3 237.3 586.4 238.0 586.5 241.1 586.7 241.1 586.8 238.9 586.9 235.4 587.0 231.4 587.1 232.9 587.2 229.2 587.4 233.3 587.5 236.3 587.6 234.1 587.7 229.2 587.8 236.9 587.9 227.5 588.0 231.5 588.2 241.3 588.3 233.8 588.4 228.9 588.5 236.0 588.6 242.8 588.7 236.2 588.8 238.2 589.0 232.4 589.1 233.7 589.2 242.6 589.3 235.5 589.4 233.5 589.5 231.8 589.6 233.4 589.8 230.5 589.9 235.4 590.0 225.7 590.1 222.7 590.2 237.4 590.3 231.0 590.5 230.4 590.6 237.1 590.7 236.2 590.8 226.6 590.9 232.4 591.0 224.2 591.1 227.4 591.3 224.3 591.4 229.3 591.5 237.1 591.6 231.0 591.7 220.9 591.8 212.8 591.9 235.6 592.1 234.3 592.2 222.9 592.3 228.1 592.4 223.1 592.5 222.4 592.6 226.7 592.8 228.7 592.9 224.4 593.0 228.0 593.1 224.4 593.2 225.7 593.3 226.1 593.4 221.3 593.6 222.1 593.7 221.7 593.8 217.9 593.9 224.7 594.0 224.7 594.1 222.3 594.2 232.1 594.4 229.7 594.5 228.5 594.6 221.1 594.7 225.2 594.8 231.8 594.9 209.3 595.0 230.4 595.2 230.5 595.3 232.3 595.4 231.2 595.5 229.5 595.6 232.6 595.7 235.6 595.9 227.3 596.0 235.8 596.1 229.6 596.2 224.6 596.3 227.7 596.4 227.3 596.5 232.7 596.7 228.7 596.8 230.0 596.9 225.4 597.0 228.8 597.1 231.5 597.2 231.4 597.3 232.4 597.5 228.3 597.6 234.3 597.7 231.3 597.8 223.8 597.9 225.9 598.0 229.7 598.2 229.5 598.3 221.3 598.4 229.6 598.5 233.9 598.6 232.4 598.7 234.2 598.8 232.4 599.0 228.5 599.1 238.2 599.2 229.5 599.3 232.2 599.4 226.2 599.5 231.5 599.6 231.8 599.8 233.6 599.9 225.1 600.0 230.8 600.1 220.6 600.2 221.1 600.3 231.7 600.5 219.2 600.6 232.5 600.7 233.2 600.8 223.3 600.9 228.4 601.0 225.7 601.1 229.9 601.3 229.6 601.4 230.3 601.5 226.3 601.6 232.9 601.7 235.7 601.8 228.8 601.9 227.7 602.1 234.3 602.2 230.2 602.3 232.6 602.4 237.2 602.5 237.0 602.6 236.4 602.7 235.2 602.9 233.7 603.0 237.1 603.1 233.9 603.2 237.0 603.3 244.5 603.4 236.3 603.6 237.0 603.7 224.8 603.8 236.6 603.9 232.4 604.0 231.3 604.1 231.5 604.2 223.3 604.4 227.5 604.5 231.4 604.6 237.8 604.7 231.2 604.8 222.8 604.9 233.1 605.0 222.2 605.2 229.2 605.3 222.8 605.4 229.3 605.5 220.9 605.6 228.4 605.7 225.6 605.9 223.3 606.0 220.2 606.1 218.5 606.2 223.3 606.3 217.1 606.4 221.7 606.5 219.4 606.7 232.9 606.8 219.8 606.9 218.6 607.0 224.7 607.1 223.1 607.2 220.3 607.3 223.8 607.5 222.9 607.6 221.9 607.7 219.1 607.8 221.7 607.9 226.8 608.0 226.2 608.1 224.5 608.3 224.2 608.4 233.5 608.5 212.0 608.6 231.0 608.7 224.0 608.8 218.4 609.0 230.6 609.1 224.7 609.2 217.9 609.3 220.5 609.4 225.7 609.5 226.2 609.6 223.6 609.8 227.0 609.9 222.2 610.0 217.7 610.1 220.7 610.2 227.8 610.3 225.1 610.4 228.9 610.6 226.4 610.7 229.5 610.8 218.2 610.9 228.8 611.0 226.4 611.1 220.3 611.3 215.6 611.4 226.7 611.5 220.5 611.6 227.3 611.7 225.1 611.8 218.4 611.9 235.5 612.1 223.3 612.2 226.8 612.3 217.7 612.4 216.9 612.5 228.4 612.6 219.2 612.7 230.6 612.9 232.9 613.0 231.2 613.1 231.2 613.2 227.3 613.3 233.9 613.4 226.1 613.6 216.0 613.7 215.4 613.8 231.0 613.9 225.9 614.0 225.6 614.1 225.7 614.2 224.7 614.4 223.3 614.5 216.3 614.6 227.9 614.7 226.3 614.8 213.9 614.9 228.3 615.0 221.5 615.2 221.3 615.3 217.5 615.4 229.6 615.5 220.8 615.6 221.0 615.7 218.8 615.8 221.7 616.0 232.6 616.1 227.9 616.2 236.6 616.3 231.5 616.4 231.7 616.5 219.7 616.7 231.5 616.8 226.9 616.9 240.5 617.0 230.8 617.1 235.2 617.2 227.1 617.3 227.9 617.5 232.7 617.6 223.4 617.7 229.3 617.8 235.6 617.9 236.0 618.0 232.3 618.1 236.2 618.3 231.0 618.4 222.4 618.5 234.5 618.6 230.7 618.7 236.3 618.8 234.8 619.0 235.6 619.1 234.4 619.2 240.6 619.3 228.6 619.4 234.4 619.5 227.7 619.6 229.1 619.8 231.6 619.9 231.0 620.0 231.2 620.1 229.5 620.2 230.1 620.3 229.6 620.4 230.7 620.6 221.4 620.7 231.9 620.8 228.0 620.9 217.0 621.0 228.0 621.1 232.5 621.2 234.5 621.4 224.3 621.5 218.9 621.6 226.5 621.7 217.1 621.8 226.1 621.9 221.1 622.1 227.7 622.2 219.3 622.3 233.4 622.4 225.8 622.5 224.5 622.6 221.8 622.7 227.5 622.9 224.8 623.0 220.0 623.1 215.0 623.2 222.3 623.3 218.1 623.4 225.0 623.5 231.7 623.7 215.3 623.8 225.1 623.9 216.1 624.0 222.9 624.1 214.1 624.2 222.8 624.4 226.7 624.5 226.7 624.6 218.8 624.7 222.1 624.8 220.6 624.9 223.9 625.0 218.2 625.2 224.4 625.3 227.4 625.4 219.0 625.5 222.6 625.6 214.7 625.7 221.3 625.8 222.7 626.0 218.0 626.1 222.2 626.2 215.0 626.3 223.8 626.4 219.1 626.5 215.3 626.7 224.9 626.8 219.8 626.9 221.5 627.0 221.5 627.1 223.7 627.2 216.4 627.3 218.5 627.5 215.9 627.6 220.6 627.7 221.2 627.8 225.0 627.9 223.3 628.0 213.3 628.1 216.4 628.3 220.4 628.4 222.3 628.5 225.3 628.6 219.9 628.7 221.0 628.8 220.6 628.9 228.5 629.1 226.3 629.2 224.5 629.3 224.9 629.4 223.0 629.5 234.3 629.6 219.3 629.8 228.8 629.9 211.5 630.0 227.0 630.1 219.0 630.2 224.0 630.3 227.8 630.4 222.1 630.6 225.7 630.7 220.1 630.8 219.1 630.9 223.4 631.0 223.5 631.1 221.3 631.2 219.1 631.4 222.9 631.5 225.5 631.6 215.9 631.7 225.6 631.8 219.8 631.9 226.0 632.1 221.9 632.2 219.3 632.3 221.5 632.4 231.2 632.5 231.6 632.6 226.8 632.7 211.1 632.9 222.1 633.0 223.5 633.1 224.3 633.2 223.4 633.3 224.1 633.4 231.7 633.5 220.9 633.7 229.7 633.8 227.0 633.9 229.5 634.0 228.9 634.1 225.0 634.2 227.0 634.3 228.4 634.5 223.6 634.6 228.0 634.7 225.6 634.8 226.5 634.9 228.5 635.0 229.1 635.2 224.9 635.3 226.9 635.4 224.1 635.5 221.6 635.6 222.5 635.7 223.9 635.8 226.1 636.0 228.6 636.1 225.6 636.2 230.8 636.3 224.7 636.4 223.7 636.5 222.8 636.6 221.6 636.8 220.2 636.9 224.3 637.0 224.2 637.1 224.3 637.2 226.2 637.3 220.4 637.5 224.3 637.6 223.3 637.7 221.0 637.8 223.0 637.9 218.4 638.0 230.3 638.1 217.6 638.3 225.2 638.4 216.1 638.5 229.8 638.6 217.6 638.7 229.2 638.8 224.5 638.9 216.4 639.1 226.5 639.2 215.9 639.3 221.5 639.4 222.6 639.5 217.5 639.6 219.9 639.8 231.4 639.9 221.6 640.0 224.2 640.1 213.4 640.2 229.0 640.3 230.5 640.4 220.3 640.6 222.1 640.7 221.1 640.8 217.1 640.9 228.0 641.0 226.5 641.1 224.0 641.2 220.0 641.4 214.4 641.5 221.2 641.6 227.3 641.7 220.2 641.8 219.3 641.9 213.6 642.0 229.0 642.2 208.4 642.3 218.2 642.4 223.1 642.5 225.2 642.6 219.5 642.7 218.9 642.9 219.3 643.0 210.9 643.1 225.6 643.2 210.8 643.3 223.4 643.4 221.7" fill="none" stroke="none" marker-start="url(#m_olive)" marker-mid="url(#m_olive)" marker-end="url(#m_olive)"/>
<polyline points="91.8 281.5 92.0 274.7 92.1 282.7 92.2 279.4 92.3 276.1 92.4 279.0 92.5 275.0 92.7 282.4 92.8 280.4 92.9 283.5 93.0 274.1 93.1 280.1 93.2 277.7 93.3 284.6 93.5 282.8 93.6 276.0 93.7 274.6 93.8 282.2 93.9 276.7 94.0 284.8 94.1 274.1 94.3 280.6 94.4 282.1 94.5 280.7 94.6 282.8 94.7 276.3 94.8 276.2 95.0 282.2 95.1 285.1 95.2 278.2 95.3 283.2 95.4 280.6 95.5 275.0 95.6 275.3 95.8 280.9 95.9 276.5 96.0 282.8 96.1 274.7 96.2 274.3 96.3 280.4 96.4 277.0 96.6 278.5 96.7 286.0 96.8 278.2 96.9 275.3 97.0 287.1 97.1 283.5 97.3 272.2 97.4 276.7 97.5 282.2 97.6 277.3 97.7 277.8 97.8 281.2 97.9 276.9 98.1 279.5 98.2 280.6 98.3 278.6 98.4 281.1 98.5 281.7 98.6 282.8 98.7 285.5 98.9 272.3 99.0 277.8 99.1 279.8 99.2 282.8 99.3 282.5 99.4 279.4 99.5 275.8 99.7 279.0 99.8 277.6 99.9 282.8 100.0 289.5 100.1 277.4 100.2 279.2 100.4 283.3 100.5 278.3 100.6 272.9 100.7 279.4 100.8 278.4 100.9 272.9 101.0 278.9 101.2 279.6 101.3 277.4 101.4 281.0 101.5 277.9 101.6 271.5 101.7 280.5 101.8 267.6 102.0 279.8 102.1 274.1 102.2 272.5 102.3 280.3 102.4 277.0 102.5 277.3 102.7 275.6 102.8 273.9 102.9 273.8 103.0 271.8 103.1 276.5 103.2 274.0 103.3 279.9 103.5 275.6 103.6 278.3 103.7 275.0 103.8 280.3 103.9 281.4 104.0 279.2 104.1 283.2 104.3 277.3 104.4 276.8 104.5 283.0 104.6 281.9 104.7 284.4 104.8 274.9 104.9 280.8 105.1 280.8 105.2 279.2 105.3 285.0 105.4 277.7 105.5 281.4 105.6 284.0 105.8 276.7 105.9 273.2 106.0 277.1 106.1 275.7 106.2 281.0 106.3 269.4 106.4 271.4 106.6 275.6 106.7 277.9 106.8 275.5 106.9 282.0 107.0 277.1 107.1 273.7 107.2 275.9 107.4 276.9 107.5 276.6 107.6 278.2 107.7 277.9 107.8 271.6 107.9 275.1 108.1 272.6 108.2 274.7 108.3 273.7 108.4 275.6 108.5 280.4 108.6 284.6 108.7 282.7 108.9 279.7 109.0 274.8 109.1 276.2 109.2 276.2 109.3 277.4 109.4 276.5 109.5 279.7 109.7 278.5 109.8 278.8 109.9 280.5 110.0 276.7 110.1 278.6 110.2 276.9 110.4 276.5 110.5 278.4 110.6 277.8 110.7 284.8 110.8 275.9 110.9 280.6 111.0 276.8 111.2 281.7 111.3 279.6 111.4 283.5 111.5 271.9 111.6 280.8 111.7 279.8 111.8 285.7 112.0 276.0 112.1 275.2 112.2 277.9 112.3 282.1 112.4 278.9 112.5 279.3 112.6 276.8 112.8 273.8 112.9 277.4 113.0 276.7 113.1 277.3 113.2 277.6 113.3 278.0 113.5 277.5 113.6 271.0 113.7 277.7 113.8 276.2 113.9 271.0 114.0 274.1 114.1 275.7 114.3 275.4 114.4 274.2 114.5 274.3 114.6 276.7 114.7 272.6 114.8 274.4 114.9 272.1 115.1 279.9 115.2 276.2 115.3 271.0 115.4 277.8 115.5 277.4 115.6 274.8 115.8 275.9 115.9 277.4 116.0 273.5 116.1 273.1 116.2 278.3 116.3 275.9 116.4 279.9 116.6 281.3 116.7 273.8 116.8 277.6 116.9 281.1 117.0 273.7 117.1 280.1 117.2 275.4 117.4 272.8 117.5 276.8 117.6 276.9 117.7 277.6 117.8 280.5 117.9 276.6 118.0 276.1 118.2 273.4 118.3 278.5 118.4 273.4 118.5 277.4 118.6 276.4 118.7 274.6 118.9 277.8 119.0 272.2 119.1 278.5 119.2 276.7 119.3 273.6 119.4 278.3 119.5 280.0 119.7 275.3 119.8 272.4 119.9 273.9 120.0 275.1 120.1 279.3 120.2 276.2 120.3 271.3 120.5 283.1 120.6 280.4 120.7 270.3 120.8 276.1 120.9 278.9 121.0 275.3 121.2 275.6 121.3 278.0 121.4 276.5 121.5 279.9 121.6 278.1 121.7 277.2 121.8 275.3 122.0 272.3 122.1 275.0 122.2 272.1 122.3 274.5 122.4 273.3 122.5 273.5 122.6 279.7 122.8 272.0 122.9 273.8 123.0 271.0 123.1 272.3 123.2 272.0 123.3 275.8 123.5 272.1 123.6 273.6 123.7 275.7 123.8 276.3 123.9 273.7 124.0 275.2 124.1 269.5 124.3 269.1 124.4 270.9 124.5 273.6 124.6 273.0 124.7 274.4 124.8 280.4 124.9 267.3 125.1 270.8 125.2 274.8 125.3 272.3 125.4 274.7 125.5 270.1 125.6 276.4 125.7 272.3 125.9 276.3 126.0 276.0 126.1 275.4 126.2 274.8 126.3 280.8 126.4 272.1 126.6 275.3 126.7 276.6 126.8 276.3 126.9 278.6 127.0 276.0 127.1 277.5 127.2 279.1 127.4 275.5 127.5 272.7 127.6 278.5 127.7 273.9 127.8 279.8 127.9 275.4 128.0 279.9 128.2 280.8 128.3 279.1 128.4 280.4 128.5 279.5 128.6 280.5 128.7 281.3 128.9 281.4 129.0 274.4 129.1 278.5 129.2 278.5 129.3 279.9 129.4 277.0 129.5 275.0 129.7 276.0 129.8 267.1 129.9 277.2 130.0 276.9 130.1 271.5 130.2 272.6 130.3 273.0 130.5 279.4 130.6 279.4 130.7 278.0 130.8 280.6 130.9 275.4 131.0 277.8 131.1 279.0 131.3 284.5 131.4 271.9 131.5 273.9 131.6 277.9 131.7 274.2 131.8 276.4 132.0 273.4 132.1 276.0 132.2 273.9 132.3 274.8 132.4 288.3 132.5 278.3 132.6 282.7 132.8 272.3 132.9 278.6 133.0 276.8 133.1 271.8 133.2 274.9 133.3 273.5 133.4 284.2 133.6 272.9 133.7 275.3 133.8 279.3 133.9 276.4 134.0 273.3 134.1 273.8 134.3 276.8 134.4 281.3 134.5 275.8 134.6 275.5 134.7 278.5 134.8 272.3 134.9 273.4 135.1 276.5 135.2 273.5 135.3 273.9 135.4 275.1 135.5 277.4 135.6 275.5 135.7 275.4 135.9 280.9 136.0 277.6 136.1 276.0 136.2 276.7 136.3 277.6 136.4 275.4 136.6 278.1 136.7 281.5 136.8 280.1 136.9 276.2 137.0 272.9 137.1 275.0 137.2 277.2 137.4 275.1 137.5 281.6 137.6 280.2 137.7 278.3 137.8 271.8 137.9 274.7 138.0 273.8 138.2 269.5 138.3 280.2 138.4 275.0 138.5 276.0 138.6 278.0 138.7 281.1 138.8 280.2 139.0 280.0 139.1 280.2 139.2 278.6 139.3 276.3 139.4 272.8 139.5 278.2 139.7 277.4 139.8 278.6 139.9 272.5 140.0 276.6 140.1 278.9 140.2 276.1 140.3 280.9 140.5 275.2 140.6 274.1 140.7 275.6 140.8 276.9 140.9 276.8 141.0 279.1 141.1 278.4 141.3 279.2 141.4 273.6 141.5 276.1 141.6 278.3 141.7 278.6 141.8 278.9 142.0 278.1 142.1 277.3 142.2 271.7 142.3 278.2 142.4 276.0 142.5 276.8 142.6 277.7 142.8 278.6 142.9 275.7 143.0 273.2 143.1 279.1 143.2 278.3 143.3 273.3 143.4 276.7 143.6 274.6 143.7 271.6 143.8 280.9 143.9 274.4 144.0 281.7 144.1 277.3 144.2 272.8 144.4 277.1 144.5 273.5 144.6 273.9 144.7 275.2 144.8 272.4 144.9 278.5 145.1 276.2 145.2 276.5 145.3 278.7 145.4 281.1 145.5 271.5 145.6 278.2 145.7 281.8 145.9 272.0 146.0 273.0 146.1 278.1 146.2 280.6 146.3 278.8 146.4 275.0 146.5 278.9 146.7 276.6 146.8 278.8 146.9 277.1 147.0 272.6 147.1 285.6 147.2 278.2 147.4 275.2 147.5 279.1 147.6 279.8 147.7 277.2 147.8 281.9 147.9 282.1 148.0 277.3 148.2 276.4 148.3 276.5 148.4 279.4 148.5 276.0 148.6 274.6 148.7 270.9 148.8 274.7 149.0 278.2 149.1 277.3 149.2 278.0 149.3 270.4 149.4 265.1 149.5 277.9 149.7 276.7 149.8 275.3 149.9 275.6 150.0 277.2 150.1 277.4 150.2 277.9 150.3 276.4 150.5 275.8 150.6 274.9 150.7 275.4 150.8 273.0 150.9 272.9 151.0 272.3 151.1 280.5 151.3 275.3 151.4 276.0 151.5 276.5 151.6 281.3 151.7 272.8 151.8 283.6 151.9 277.6 152.1 277.0 152.2 283.4 152.3 277.0 152.4 277.9 152.5 272.9 152.6 274.9 152.8 278.2 152.9 277.6 153.0 279.0 153.1 278.1 153.2 282.5 153.3 274.9 153.4 279.1 153.6 276.2 153.7 281.0 153.8 276.2 153.9 280.0 154.0 279.5 154.1 278.1 154.2 280.5 154.4 285.5 154.5 276.4 154.6 281.0 154.7 277.2 154.8 276.4 154.9 272.9 155.1 277.3 155.2 273.1 155.3 280.4 155.4 274.1 155.5 276.5 155.6 277.7 155.7 275.2 155.9 272.2 156.0 272.4 156.1 275.3 156.2 274.6 156.3 271.3 156.4 276.2 156.5 271.3 156.7 275.2 156.8 274.9 156.9 274.1 157.0 272.4 157.1 270.4 157.2 281.6 157.3 276.7 157.5 275.8 157.6 278.1 157.7 272.9 157.8 273.9 157.9 274.4 158.0 271.4 158.2 273.6 158.3 272.6 158.4 273.9 158.5 278.9 158.6 277.8 158.7 279.1 158.8 280.3 159.0 272.0 159.1 273.3 159.2 274.8 159.3 270.5 159.4 273.9 159.5 279.9 159.6 276.8 159.8 282.4 159.9 277.5 160.0 275.1 160.1 278.0 160.2 277.4 160.3 280.3 160.5 280.5 160.6 276.1 160.7 275.0 161.8 325.9 161.9 323.4 162.1 319.7 162.2 324.6 162.3 324.4 162.4 325.7 162.5 321.3 162.6 318.2 162.8 321.3 162.9 317.1 163.0 320.2 163.1 315.6 163.2 316.3 163.3 313.1 163.4 311.5 163.6 310.5 163.7 313.7 163.8 311.0 163.9 311.3 164.0 311.6 164.1 315.2 164.2 312.3 164.4 308.8 164.5 319.7 164.6 315.8 164.7 311.8 164.8 311.4 164.9 307.4 165.0 306.6 165.2 305.4 165.3 307.9 165.4 308.6 165.5 309.8 165.6 308.6 165.7 310.5 165.9 304.4 166.0 308.5 166.1 311.4 166.2 305.5 166.3 303.2 166.4 302.8 166.5 310.4 166.7 304.1 166.8 302.8 166.9 304.9 167.0 309.5 167.1 308.1 167.2 302.6 167.3 301.5 167.5 305.7 167.6 303.3 167.7 300.8 167.8 305.4 167.9 302.4 168.0 310.4 168.2 303.1 168.3 306.2 168.4 302.1 168.5 305.1 168.6 301.9 168.7 304.2 168.8 304.9 169.0 303.7 169.1 302.4 169.2 297.5 169.3 303.0 169.4 301.7 169.5 301.2 169.6 306.0 169.8 298.4 169.9 299.1 170.0 300.5 170.1 298.8 170.2 297.6 170.3 302.5 170.4 297.4 170.6 301.2 170.7 297.7 170.8 301.5 170.9 304.5 171.0 305.4 171.1 301.9 171.3 299.8 171.4 299.8 171.5 305.7 171.6 303.2 171.7 295.9 171.8 302.5 171.9 301.6 172.1 297.8 172.2 293.0 172.3 297.4 172.4 299.9 172.5 296.4 172.6 301.3 172.7 295.9 172.9 298.1 173.0 301.7 173.1 301.8 173.2 300.7 173.3 303.9 173.4 301.6 173.6 301.9 173.7 298.7 173.8 295.8 173.9 297.1 174.0 297.7 174.1 298.0 174.2 299.2 174.4 300.0 174.5 301.6 174.6 293.9 174.7 300.4 174.8 296.6 174.9 296.7 175.0 297.0 175.2 303.1 175.3 296.6 175.4 292.1 175.5 296.9 175.6 299.1 175.7 296.3 175.9 290.6 176.0 299.2 176.1 298.3 176.2 296.5 176.3 290.8 176.4 293.7 176.5 299.5 176.7 295.4 176.8 290.2 176.9 294.6 177.0 296.2 177.1 295.5 177.2 298.5 177.3 293.3 177.5 296.2 177.6 297.1 177.7 299.0 177.8 294.2 177.9 296.8 178.0 296.8 178.1 294.2 178.3 298.4 178.4 293.4 178.5 297.3 178.6 301.6 178.7 294.4 178.8 293.0 179.0 293.6 179.1 296.2 179.2 299.9 179.3 294.7 179.4 294.5 179.5 300.4 179.6 297.0 179.8 297.6 179.9 298.5 180.0 295.3 180.1 293.1 180.2 299.6 180.3 297.7 180.4 294.3 180.6 294.3 180.7 300.3 180.8 294.5 180.9 290.0 181.0 294.6 181.1 293.6 181.3 297.1 181.4 295.4 181.5 292.7 181.6 297.8 181.7 301.1 181.8 295.9 181.9 293.9 182.1 301.1 182.2 298.2 182.3 298.8 182.4 299.2 182.5 296.9 182.6 296.1 182.7 292.3 182.9 294.1 183.0 288.5 183.1 294.6 183.2 296.8 183.3 296.2 183.4 300.9 183.5 295.6 183.7 297.7 183.8 299.5 183.9 298.8 184.0 299.8 184.1 292.4 184.2 301.8 184.4 297.6 184.5 301.6 184.6 301.0 184.7 299.5 184.8 291.7 184.9 300.6 185.0 295.6 185.2 294.4 185.3 295.9 185.4 297.1 185.5 290.6 185.6 292.0 185.7 296.3 185.8 298.4 186.0 291.5 186.1 295.1 186.2 294.2 186.3 290.2 186.4 291.8 186.5 291.8 186.7 292.2 186.8 296.8 186.9 294.0 187.0 295.9 187.1 291.0 187.2 287.6 187.3 291.8 187.5 292.5 187.6 291.4 187.7 291.1 187.8 290.9 187.9 292.2 188.0 295.4 188.1 293.0 188.3 291.8 188.4 284.3 188.5 291.2 188.6 295.3 188.7 289.7 188.8 298.3 189.0 287.8 189.1 291.3 189.2 291.2 189.3 291.4 189.4 290.9 189.5 297.2 189.6 290.3 189.8 294.7 189.9 295.7 190.0 292.8 190.1 293.4 190.2 292.7 190.3 293.9 190.4 294.0 190.6 291.2 190.7 295.0 190.8 299.1 190.9 293.5 191.0 290.9 191.1 295.1 191.2 292.0 191.4 290.6 191.5 290.6 191.6 293.9 191.7 288.4 191.8 292.6 191.9 293.2 192.1 293.5 192.2 292.3 192.3 292.3 192.4 291.5 192.5 291.1 192.6 286.4 192.7 289.2 192.9 293.0 193.0 292.6 193.1 282.9 193.2 282.9 193.3 291.3 193.4 291.6 193.5 290.9 193.7 289.9 193.8 292.0 193.9 285.3 194.0 288.8 194.1 287.4 194.2 285.3 194.4 286.9 194.5 288.8 194.6 288.6 194.7 282.7 194.8 293.5 194.9 280.5 195.0 285.7 195.2 289.7 195.3 284.6 195.4 282.5 195.5 287.8 195.6 286.2 195.7 284.2 195.8 285.2 196.0 293.0 196.1 286.9 196.2 283.0 196.3 286.4 196.4 291.1 196.5 284.5 196.6 292.5 196.8 286.8 196.9 284.4 197.0 292.8 197.1 290.4 197.2 288.2 197.3 288.6 197.5 291.9 197.6 286.8 197.7 295.7 197.8 291.6 197.9 286.5 198.0 290.2 198.1 296.4 198.3 292.1 198.4 295.0 198.5 286.2 198.6 290.1 198.7 293.0 198.8 293.2 198.9 290.0 199.1 290.1 199.2 292.0 199.3 293.0 199.4 293.3 199.5 296.5 199.6 295.3 199.8 289.6 199.9 293.1 200.0 284.7 200.1 287.0 200.2 291.6 200.3 297.1 200.4 289.0 200.6 295.6 200.7 285.7 200.8 290.2 200.9 288.9 201.0 293.7 201.1 290.2 201.2 287.9 201.4 292.3 201.5 282.6 201.6 291.3 201.7 288.0 201.8 283.7 201.9 290.8 202.1 288.3 202.2 286.5 202.3 286.9 202.4 286.3 202.5 285.7 202.6 281.7 202.7 288.5 202.9 293.6 203.0 284.4 203.1 289.1 203.2 287.4 203.3 291.4 203.4 291.3 203.5 286.3 203.7 287.4 203.8 288.9 203.9 282.9 204.0 287.5 204.1 290.2 204.2 290.3 204.3 290.8 204.5 288.6 204.6 286.5 204.7 288.0 204.8 287.0 204.9 287.2 205.0 293.1 205.2 286.9 205.3 289.9 205.4 288.6 205.5 288.6 205.6 290.3 205.7 284.4 205.8 287.4 206.0 291.3 206.1 285.1 206.2 287.7 206.3 284.9 206.4 285.4 206.5 288.4 206.6 285.0 206.8 286.3 206.9 288.0 207.0 286.6 207.1 284.4 207.2 283.3 207.3 286.7 207.5 287.4 207.6 287.6 207.7 286.7 207.8 288.7 207.9 287.4 208.0 285.6 208.1 290.7 208.3 281.4 208.4 281.2 208.5 286.4 208.6 287.8 208.7 286.6 208.8 287.3 208.9 286.5 209.1 283.3 209.2 279.6 209.3 282.2 209.4 286.8 209.5 291.7 209.6 289.7 209.7 284.3 209.9 291.5 210.0 285.7 210.1 290.4 210.2 291.3 210.3 284.6 210.4 288.8 210.6 288.8 210.7 292.6 210.8 284.6 210.9 285.7 211.0 284.4 211.1 289.8 211.2 293.7 211.4 286.6 211.5 282.7 211.6 288.6 211.7 291.8 211.8 292.2 211.9 285.1 212.0 289.6 212.2 285.7 212.3 290.2 212.4 290.5 212.5 287.8 212.6 286.3 212.7 285.0 212.9 284.7 213.0 283.5 213.1 280.6 213.2 287.3 213.3 284.6 213.4 284.2 213.5 286.0 213.7 277.2 213.8 284.1 213.9 285.0 214.0 285.2 214.1 288.8 214.2 282.3 214.3 284.7 214.5 281.1 214.6 285.1 214.7 289.4 214.8 286.3 214.9 285.1 215.0 286.3 215.2 286.9 215.3 284.2 215.4 279.5 215.5 287.2 215.6 287.8 215.7 280.9 215.8 285.0 216.0 285.1 216.1 287.0 216.2 279.6 216.3 279.3 216.4 279.1 216.5 281.2 216.6 282.2 216.8 282.0 216.9 284.4 217.0 276.6 217.1 283.7 217.2 282.8 217.3 287.4 217.4 283.4 217.6 279.2 217.7 281.9 217.8 287.3 217.9 281.1 218.0 285.2 218.1 284.4 218.3 282.9 218.4 281.3 218.5 285.3 218.6 282.7 218.7 284.1 218.8 284.7 218.9 284.8 219.1 289.6 219.2 283.3 219.3 283.4 219.4 288.9 219.5 285.2 219.6 283.2 219.7 282.7 219.9 285.0 220.0 285.5 220.1 275.5 220.2 287.6 220.3 282.7 220.4 287.7 220.6 288.8 220.7 284.5 220.8 280.4 220.9 290.1 221.0 280.6 221.1 281.8 221.2 285.1 221.4 281.4 221.5 287.4 221.6 285.7 221.7 288.1 221.8 284.3 221.9 289.2 222.0 283.6 222.2 288.5 222.3 280.9 222.4 285.5 222.5 283.7 222.6 288.5 222.7 287.3 222.8 287.9 223.0 285.9 223.1 290.6 223.2 284.8 223.3 285.9 223.4 283.3 223.5 285.2 223.7 288.1 223.8 286.3 223.9 287.9 224.0 285.1 224.1 281.2 224.2 279.7 224.3 289.3 224.5 287.0 224.6 286.2 224.7 281.9 224.8 290.4 224.9 285.3 225.0 287.5 225.1 285.7 225.3 284.4 225.4 285.4 225.5 283.8 225.6 282.3 225.7 284.5 225.8 289.4 226.0 283.1 226.1 284.8 226.2 285.4 226.3 288.7 226.4 287.8 226.5 284.3 226.6 286.1 226.8 279.8 226.9 286.3 227.0 283.8 227.1 280.1 227.2 284.8 227.3 284.9 227.4 279.4 227.6 281.9 227.7 280.5 227.8 283.7 227.9 291.7 228.0 280.4 228.1 288.0 228.3 285.1 228.4 285.3 228.5 286.5 228.6 279.3 228.7 284.5 228.8 283.1 228.9 285.9 229.1 282.9 229.2 278.4 229.3 287.3 229.4 283.5 229.5 282.4 229.6 279.7 229.7 284.8 229.9 277.4 230.0 285.6 230.1 287.0 230.2 283.8 230.3 287.0 230.4 281.8 230.5 287.6 230.7 288.4 230.8 285.2 230.9 282.1 231.0 284.9 231.1 290.7 231.2 284.8 231.4 286.3 231.5 281.6 231.6 282.3 231.7 281.5 231.8 287.8 231.9 286.6 232.0 285.2 232.2 287.5 232.3 289.5 232.4 285.0 232.5 290.3 232.6 284.4 232.7 288.5 232.8 283.3 233.0 279.4 233.1 285.8 233.2 289.3 233.3 285.6 233.4 287.0 233.5 278.1 233.7 281.7 233.8 281.2 233.9 280.9 234.0 284.3 234.1 283.3 234.2 285.8 234.3 281.0 234.5 283.6 234.6 284.9 234.7 279.8 234.8 278.9 234.9 284.7 235.0 282.9 235.1 285.0 235.3 277.9 235.4 279.5 235.5 285.8 235.6 273.2 235.7 283.3 235.8 280.8 235.9 286.5 236.1 281.9 236.2 277.5 236.3 279.4 236.4 279.7 236.5 281.2 236.6 282.3 236.8 284.0 236.9 278.0 237.0 281.8 237.1 279.9 237.2 283.7 237.3 278.0 237.4 286.0 237.6 278.5 237.7 286.2 237.8 285.5 237.9 280.5 238.0 281.1 238.1 278.5 238.2 282.0 238.4 279.4 238.5 281.5 238.6 286.9 238.7 282.1 238.8 278.0 238.9 275.9 239.1 282.5 239.2 282.0 239.3 286.6 239.4 278.6 239.5 280.7 239.6 283.3 239.7 277.8 239.9 283.7 240.0 281.9 240.1 283.2 240.2 281.0 240.3 284.2 240.4 282.6 240.5 280.8 240.7 285.1 240.8 283.3 240.9 281.8 241.0 281.9 241.1 283.0 241.2 277.5 241.4 283.9 241.5 281.7 241.6 282.7 241.7 283.2 241.8 286.4 241.9 279.0 242.0 283.9 242.2 282.6 242.3 282.9 242.4 281.8 242.5 279.6 242.6 281.5 242.7 285.8 242.8 282.5 243.0 281.8 243.1 280.1 243.2 284.1 243.3 279.9 243.4 284.5 243.5 288.8 243.6 283.6 243.8 282.2 243.9 280.7 244.0 282.9 244.1 285.1 244.2 282.9 244.3 282.5 244.5 281.7 244.6 283.2 244.7 286.7 244.8 283.2 244.9 280.0 245.0 284.2 245.1 283.5 245.3 287.1 245.4 283.9 245.5 284.3 245.6 290.2 245.7 279.0 245.8 285.3 245.9 289.4 246.1 284.1 246.2 286.3 246.3 283.5 246.4 282.4 246.5 277.7 246.6 280.2 246.8 279.6 246.9 283.4 247.0 278.4 247.1 281.9 247.2 281.7 247.3 283.4 247.4 279.8 247.6 286.7 247.7 281.4 247.8 284.3 247.9 279.3 248.0 278.2 248.1 281.1 248.2 281.7 248.4 273.4 248.5 282.8 248.6 272.6 248.7 279.9 248.8 281.9 248.9 282.0 249.0 281.8 249.2 280.4 249.3 282.2 249.4 285.7 249.5 280.8 249.6 280.5 249.7 279.1 249.9 278.2 250.0 275.7 250.1 275.3 250.2 279.7 250.3 283.3 250.4 281.8 250.5 280.8 250.7 281.1 250.8 280.3 250.9 279.1 251.0 279.0 251.1 275.2 251.2 281.4 251.3 277.4 251.5 279.5 251.6 277.2 251.7 275.9 251.8 277.6 251.9 277.7 252.0 278.8 252.2 281.4 252.3 278.4 252.4 278.8 252.5 280.3 252.6 279.6 252.7 278.5 252.8 281.2 253.0 278.2 253.1 279.6 253.2 279.1 253.3 273.2 253.4 274.3 253.5 279.9 253.6 271.7 253.8 277.5 253.9 271.5 254.0 280.4 254.1 273.4 254.2 273.4 254.3 272.8 254.5 274.8 254.6 278.3 254.7 269.3 254.8 275.3 254.9 281.6 255.0 273.1 255.1 276.5 255.3 277.1 255.4 278.7 255.5 274.4 255.6 272.3 255.7 275.4 255.8 275.4 255.9 276.5 256.1 276.9 256.2 274.7 256.3 269.9 256.4 274.2 256.5 272.0 256.6 274.2 256.7 277.5 256.9 270.6 257.0 272.6 257.1 273.7 257.2 274.4 257.3 279.0 257.4 275.4 257.6 276.6 257.7 274.8 257.8 282.2 257.9 272.3 258.0 277.9 258.1 273.8 258.2 274.8 258.4 274.9 258.5 273.5 258.6 272.5 258.7 277.7 258.8 278.1 258.9 277.9 259.0 277.4 259.2 267.9 259.3 278.2 259.4 276.3 259.5 280.1 259.6 279.3 259.7 281.2 259.9 277.8 260.0 276.9 260.1 280.6 260.2 282.3 260.3 273.5 260.4 277.6 260.5 277.4 260.7 277.3 260.8 274.4 260.9 275.2 261.0 281.2 261.1 276.1 261.2 273.4 261.3 278.2 261.5 276.0 261.6 275.2 261.7 271.6 261.8 278.2 261.9 269.4 262.0 278.7 262.1 276.5 262.3 277.6 262.4 273.8 262.5 273.9 262.6 277.7 262.7 278.3 262.8 278.7 263.0 280.6 263.1 277.0 263.2 273.9 263.3 279.1 263.4 280.1 263.5 270.8 263.6 282.4 263.8 278.3 263.9 274.1 264.0 276.7 264.1 277.4 264.2 279.6 264.3 280.0 264.4 271.6 264.6 276.6 264.7 271.4 264.8 272.4 264.9 272.1 265.0 276.0 265.1 277.1 265.3 274.4 265.4 280.5 265.5 280.0 265.6 278.9 265.7 279.3 265.8 279.0 265.9 279.2 266.1 272.9 266.2 279.6 266.3 274.5 266.4 279.0 266.5 279.1 266.6 278.8 266.7 277.2 266.9 283.4 267.0 278.3 267.1 279.0 267.2 281.1 267.3 273.2 267.4 277.2 267.6 273.8 267.7 274.4 267.8 276.7 267.9 278.6 268.0 275.5 268.1 272.6 268.2 279.9 268.4 274.7 268.5 278.3 268.6 274.5 268.7 272.6 268.8 275.0 268.9 272.3 269.0 280.2 269.2 270.6 269.3 275.8 269.4 277.8 269.5 274.4 269.6 275.8 269.7 276.0 269.8 274.0 270.0 272.8 270.1 273.8 270.2 272.7 270.3 275.2 270.4 276.7 270.5 274.3 270.7 276.3 270.8 271.8 270.9 272.6 271.0 277.7 271.1 275.0 271.2 274.8 271.3 272.0 271.5 274.5 271.6 275.0 271.7 277.8 271.8 273.6 271.9 274.7 272.0 270.5 272.1 274.9 272.3 275.1 272.4 277.9 272.5 275.9 272.6 275.5 272.7 275.2 272.8 277.0 273.0 274.0 273.1 273.4 273.2 277.0 273.3 274.9 273.4 277.3 273.5 272.1 273.6 271.2 273.8 275.4 273.9 276.2 274.0 271.5 274.1 276.6 274.2 273.3 274.3 276.5 274.4 279.7 274.6 272.8 274.7 278.5 274.8 275.5 274.9 270.4 275.0 276.4 275.1 272.7 275.2 274.6 275.4 272.4 275.5 273.9 275.6 276.8 275.7 274.3 275.8 277.9 275.9 276.7 276.1 279.2 276.2 278.1 276.3 276.0 276.4 278.0 276.5 270.4 276.6 271.2 276.7 277.2 276.9 273.8 277.0 273.7 277.1 272.8 277.2 275.2 277.3 274.2 277.4 272.0 277.5 268.5 277.7 271.9 277.8 274.4 277.9 272.7 278.0 276.2 278.1 271.1 278.2 270.1 278.4 274.2 278.5 274.1 278.6 272.2 278.7 269.2 278.8 272.0 278.9 269.3 279.0 272.7 279.2 274.4 279.3 272.2 279.4 271.2 279.5 269.6 279.6 273.3 279.7 268.6 279.8 272.7 280.0 275.9 280.1 273.3 280.2 274.3 280.3 273.6 280.4 275.0 280.5 274.0 280.7 271.4 280.8 274.0 280.9 276.6 281.0 275.3 281.1 273.8 281.2 274.3 281.3 272.2 281.5 272.3 281.6 272.6 281.7 273.4 281.8 273.4 281.9 275.5 282.0 272.0 282.1 272.8 282.3 275.0 282.4 277.0 282.5 272.4 282.6 274.9 282.7 275.2 282.8 274.6 282.9 276.2 283.1 274.2 283.2 273.7 283.3 273.6 283.4 278.3 283.5 272.8 283.6 272.6 283.8 278.3 283.9 276.3 284.0 276.1 284.1 273.8 284.2 274.8 284.3 276.5 284.4 272.7 284.6 277.3 284.7 275.4 284.8 276.6 284.9 271.3 285.0 274.4 285.1 272.5 285.2 268.6 285.4 275.0 285.5 272.9 285.6 280.9 285.7 273.1 285.8 274.0 285.9 274.7 286.1 272.3 286.2 271.3 286.3 275.1 286.4 271.0 286.5 273.7 286.6 274.5 286.7 276.8 286.9 274.2 287.0 273.5 287.1 277.6 287.2 274.3 287.3 276.9 287.4 274.7 287.5 275.9 287.7 271.8 287.8 277.1 287.9 275.3 288.0 271.8 288.1 275.1 288.2 269.7 288.3 281.0 288.5 274.0 288.6 271.8 288.7 275.0 288.8 280.3 288.9 274.5 289.0 274.6 289.2 275.5 289.3 277.4 289.4 274.0 289.5 276.3 289.6 279.4 289.7 278.3 289.8 275.1 290.0 270.8 290.1 277.5 290.2 265.5 290.3 277.0 290.4 278.3 290.5 276.5 290.6 275.4 290.8 272.9 290.9 276.2 291.0 268.6 291.1 274.3 291.2 272.7 291.3 271.1 291.5 272.4 291.6 275.9 291.7 273.6 291.8 274.2 291.9 276.1 292.0 277.7 292.1 272.4 292.3 272.8 292.4 279.6 292.5 274.4 292.6 274.5 292.7 273.1 292.8 271.0 292.9 273.6 293.1 269.8 293.2 272.9 293.3 274.8 293.4 274.0 293.5 280.4 293.6 275.7 293.8 275.8 293.9 273.2 294.0 274.4 294.1 268.6 294.2 269.6 294.3 276.1 294.4 278.4 294.6 273.3 294.7 274.3 294.8 272.8 294.9 275.2 295.0 274.4 295.1 276.2 295.2 269.2 295.4 273.6 295.5 273.7 295.6 271.4 295.7 271.4 295.8 273.3 295.9 266.9 296.0 266.2 296.2 271.9 296.3 271.5 296.4 272.0 296.5 270.6 296.6 270.7 296.7 274.1 296.9 266.4 297.0 267.5 297.1 267.2 297.2 264.0 297.3 268.4 297.4 264.3 297.5 271.7 297.7 269.0 297.8 273.3 297.9 270.9 298.0 270.2 298.1 269.0 298.2 270.6 298.3 269.6 298.5 274.0 298.6 272.7 298.7 269.9 298.8 271.5 298.9 265.5 299.0 267.9 299.2 274.0 299.3 268.3 299.4 266.9 299.5 271.9 299.6 273.5 299.7 267.3 299.8 271.9 300.0 269.0 300.1 274.0 300.2 273.6 300.3 269.7 300.4 269.0 300.5 266.9 300.6 271.0 300.8 270.5 300.9 272.4 301.0 270.2 301.1 272.1 301.2 265.6 301.3 266.0 301.4 267.6 301.6 270.1 301.7 270.1 301.8 273.8 301.9 273.7 302.0 266.6 302.1 269.5 302.3 268.6 302.4 269.5 302.5 265.3 302.6 267.8 302.7 268.0 302.8 266.7 302.9 266.1 303.1 267.9 303.2 266.9 303.3 266.9 303.4 265.6 303.5 269.9 303.6 262.7 303.7 272.1 303.9 270.4 304.0 265.8 304.1 265.9 304.2 265.5 304.3 268.3 304.4 270.0 304.6 267.2 304.7 267.2 304.8 262.5 304.9 266.0 305.0 264.3 305.1 267.1 305.2 267.1 305.4 270.1 305.5 268.2 305.6 269.3 305.7 271.8 305.8 268.8 305.9 264.4 306.0 267.3 306.2 267.2 306.3 271.5 306.4 270.3 306.5 268.8 306.6 267.7 306.7 268.2 306.9 268.5 307.0 269.4 307.1 266.1 307.2 271.2 307.3 272.5 307.4 269.1 307.5 271.3 307.7 271.1 307.8 268.9 307.9 269.3 308.0 267.4 308.1 269.1 308.2 270.6 308.3 271.1 308.5 270.5 308.6 266.5 308.7 273.2 308.8 270.3 308.9 274.1 309.0 267.4 309.1 267.1 309.3 269.7 309.4 268.0 309.5 273.0 309.6 267.3 309.7 267.8 309.8 270.1 310.0 276.3 310.1 274.0 310.2 270.1 310.3 265.8 310.4 265.5 310.5 269.0 310.6 269.3 310.8 273.6 310.9 269.3 311.0 271.9 311.1 273.3 311.2 270.3 311.3 276.3 311.4 271.2 311.6 266.9 311.7 267.4 311.8 267.8 311.9 270.9 312.0 273.1 312.1 269.3 312.3 269.3 312.4 273.1 312.5 273.1 312.6 270.7 312.7 274.2 312.8 270.6 312.9 267.4 313.1 270.0 313.2 272.3 313.3 269.7 313.4 268.5 313.5 272.5 313.6 276.3 313.7 274.4 313.9 269.2 314.0 276.2 314.1 273.1 314.2 268.8 314.3 271.5 314.4 273.3 314.5 268.4 314.7 276.8 314.8 267.8 314.9 264.0 315.0 268.9 315.1 265.4 315.2 265.1 315.4 265.9 315.5 268.3 315.6 267.6 315.7 271.0 315.8 266.3 315.9 271.9 316.0 269.6 316.2 271.0 316.3 270.0 316.4 267.0 316.5 269.7 316.6 272.1 316.7 273.4 316.8 271.6 317.0 270.7 317.1 268.1 317.2 270.5 317.3 275.0 317.4 274.4 317.5 271.2 317.7 269.0 317.8 270.2 317.9 269.9 318.0 270.5 318.1 266.8 318.2 273.7 318.3 268.6 318.5 267.0 318.6 275.0 318.7 271.7 318.8 272.9 318.9 273.2 319.0 268.0 319.1 273.0 319.3 265.6 319.4 271.8 319.5 269.7 319.6 272.3 319.7 276.0 319.8 271.4 320.0 270.7 320.1 273.1 320.2 273.0 320.3 265.5 320.4 272.5 320.5 275.0 320.6 268.3 320.8 273.3 320.9 269.7 321.0 272.0 321.1 267.0 321.2 274.4 321.3 273.6 321.4 272.6 321.6 267.3 321.7 271.9 321.8 266.3 321.9 267.7 322.0 268.7 322.1 267.3 322.2 274.1 322.4 274.2 322.5 273.7 322.6 265.7 322.7 278.9 322.8 272.3 322.9 272.4 323.1 271.3 323.2 265.7 323.3 267.0 323.4 270.9 323.5 271.7 323.6 267.7 323.7 271.6 323.9 263.1 324.0 272.2 324.1 264.8 324.2 273.2 324.3 268.4 324.4 265.7 324.5 268.8 324.7 262.4 324.8 266.8 324.9 270.8 325.0 268.2 325.1 268.2 325.2 268.8 325.4 268.0 325.5 268.5 325.6 271.4 325.7 272.0 325.8 268.9 325.9 269.4 326.0 267.4 326.2 273.6 326.3 271.8 326.4 272.7 326.5 275.0 326.6 278.1 326.7 269.8 326.8 271.8 327.0 264.1 327.1 274.3 327.2 270.7 327.3 266.4 327.4 270.8 327.5 272.4 327.6 265.0 327.8 272.4 327.9 268.3 328.0 273.0 328.1 277.4 328.2 269.1 328.3 272.8 328.5 269.3 328.6 272.6 328.7 269.4 328.8 272.7 328.9 260.9 329.0 266.7 329.1 270.8 329.3 268.4 329.4 270.5 329.5 269.7 329.6 267.6 329.7 271.8 329.8 272.4 329.9 269.3 330.1 265.2 330.2 270.1 330.3 268.0 330.4 267.7 330.5 264.3 330.6 266.7 330.8 267.9 330.9 272.5 331.0 267.4 331.1 263.6 331.2 266.6 331.3 272.6 331.4 267.1 331.6 262.8 331.7 267.1 331.8 266.9 331.9 263.5 332.0 267.2 332.1 263.5 332.2 271.1 332.4 272.0 332.5 267.7 332.6 268.3 332.7 265.0 332.8 268.3 332.9 269.9 333.1 269.9 333.2 264.2 333.3 267.2 333.4 267.1 333.5 264.7 333.6 262.5 333.7 267.8 333.9 269.8 334.0 266.6 334.1 270.6 334.2 269.8 334.3 268.5 334.4 270.1 334.5 264.0 334.7 267.9 334.8 269.7 334.9 264.8 335.0 268.6 335.1 272.8 335.2 269.1 335.3 268.6 335.5 270.6 335.6 272.0 335.7 267.4 335.8 273.6 335.9 275.1 336.0 267.0 336.2 266.0 336.3 269.1 336.4 267.2 336.5 268.4 336.6 275.0 336.7 268.8 336.8 270.2 337.0 270.2 337.1 266.5 337.2 269.7 337.3 270.0 337.4 270.1 337.5 269.8 337.6 268.8 337.8 272.1 337.9 269.6 338.0 264.5 338.1 274.0 338.2 271.6 338.3 270.3 338.5 277.6 338.6 273.0 338.7 272.8 338.8 272.1 338.9 272.5 339.0 274.1 339.1 278.0 339.3 271.0 339.4 272.5 339.5 278.6 339.6 267.0 339.7 274.1 339.8 276.1 339.9 271.9 340.1 270.7 340.2 269.6 340.3 272.1 340.4 266.1 340.5 267.8 340.6 269.7 340.7 272.4 340.9 273.0 341.0 272.3 341.1 271.2 341.2 271.3 341.3 272.4 341.4 267.7 341.6 270.1 341.7 271.7 341.8 267.6 341.9 270.6 342.0 273.9 342.1 268.5 342.2 264.7 342.4 272.9 342.5 268.0 342.6 270.8 342.7 271.7 342.8 272.1 342.9 268.2 343.0 274.6 343.2 264.7 343.3 272.4 343.4 274.5 343.5 275.9 343.6 269.2 343.7 270.7 343.9 265.8 344.0 269.8 344.1 265.2 344.2 269.5 344.3 268.8 344.4 271.2 344.5 267.7 344.7 270.4 344.8 268.4 344.9 272.1 345.0 268.2 345.1 272.5 345.2 270.5 345.3 271.5 345.5 270.5 345.6 271.2 345.7 262.4 345.8 271.2 345.9 270.6 346.0 273.2 346.2 273.3 346.3 267.6 346.4 274.1 346.5 269.0 346.6 270.9 346.7 275.7 346.8 271.8 347.0 268.5 347.1 272.1 347.2 273.9 347.3 269.2 347.4 269.0 347.5 265.5 347.6 273.8 347.8 271.6 347.9 267.5 348.0 272.6 348.1 271.5 348.2 268.8 348.3 273.8 348.4 270.6 348.6 268.1 348.7 273.3 348.8 272.8 348.9 269.7 349.0 270.3 349.1 269.0 349.3 271.1 349.4 268.1 349.5 267.6 349.6 270.2 349.7 270.7 349.8 265.9 349.9 269.6 350.1 274.8 350.2 264.2 350.3 266.1 350.4 273.8 350.5 264.1 350.6 264.4 350.7 270.6 350.9 264.9 351.0 263.6 351.1 262.3 351.2 265.1 351.3 268.5 351.4 264.0 351.6 266.9 351.7 271.4 351.8 265.7 351.9 264.6 352.0 268.0 352.1 267.9 352.2 268.4 352.4 265.7 352.5 263.6 352.6 268.0 352.7 268.9 352.8 265.4 352.9 267.0 353.0 262.4 353.2 263.3 353.3 267.1 353.4 266.6 353.5 269.2 353.6 261.7 353.7 265.6 353.8 263.3 354.0 265.0 354.1 270.7 354.2 268.2 354.3 267.9 354.4 264.6 354.5 261.3 354.7 264.7 354.8 270.4 354.9 263.7 355.0 273.5 355.1 269.6 355.2 273.3 355.3 264.0 355.5 276.0 355.6 270.9 355.7 274.1 355.8 270.2 355.9 267.5 356.0 265.2 356.1 270.2 356.3 270.8 356.4 266.6 356.5 272.0 356.6 272.2 356.7 269.1 356.8 272.2 357.0 268.3 357.1 268.7 357.2 270.5 357.3 265.1 357.4 272.8 357.5 268.0 357.6 265.5 357.8 271.8 357.9 260.9 358.0 269.1 358.1 269.2 358.2 268.3 358.3 271.7 358.4 272.1 358.6 268.9 358.7 266.0 358.8 270.5 358.9 268.2 359.0 270.2 359.1 267.0 359.3 269.3 359.4 269.3 359.5 271.5 359.6 270.0 359.7 270.1 359.8 269.8 359.9 267.3 360.1 269.4 360.2 271.9 360.3 267.6 360.4 270.6 360.5 265.0 360.6 269.6 360.7 267.5 360.9 270.7 361.0 274.2 361.1 265.8 361.2 264.5 361.3 268.1 361.4 266.0 361.5 267.1 361.7 264.0 361.8 263.5 361.9 264.6 362.0 268.1 362.1 268.7 362.2 266.8 362.4 267.5 362.5 267.5 362.6 263.2 362.7 269.0 362.8 262.1 362.9 273.3 363.0 266.3 363.2 268.1 363.3 265.0 363.4 265.5 363.5 273.3 363.6 268.6 363.7 268.3 363.8 267.7 364.0 267.4 364.1 266.4 364.2 267.1 364.3 267.2 364.4 265.5 364.5 268.5 364.7 266.3 364.8 261.8 364.9 264.3 365.0 259.9 365.1 265.9 365.2 268.0 365.3 264.4 365.5 264.1 365.6 265.6 365.7 264.3 365.8 265.3 365.9 264.6 366.0 266.1 366.1 268.2 366.3 264.6 366.4 264.1 366.5 262.7 366.6 259.2 366.7 263.7 366.8 264.5 366.9 265.8 367.1 264.9 367.2 260.4 367.3 260.9 367.4 262.7 367.5 264.1 368.7 322.4 368.8 318.1 368.9 325.4 369.0 324.3 369.1 319.6 369.2 319.3 369.4 325.9 369.5 318.9 369.6 310.4 369.7 308.5 369.8 311.9 369.9 314.0 370.1 314.3 370.2 311.0 370.3 313.1 370.4 316.5 370.5 316.8 370.6 313.1 370.7 325.3 370.9 317.5 371.0 314.4 371.1 316.6 371.2 313.8 371.3 311.3 371.4 314.7 371.5 315.5 371.7 302.3 371.8 303.6 371.9 310.9 372.0 302.1 372.1 311.5 372.2 305.6 372.4 314.9 372.5 311.9 372.6 310.5 372.7 309.4 372.8 306.9 372.9 308.4 373.0 306.7 373.2 300.2 373.3 302.0 373.4 301.9 373.5 304.6 373.6 294.9 373.7 300.2 373.8 307.3 374.0 305.7 374.1 303.4 374.2 302.9 374.3 303.8 374.4 293.3 374.5 294.5 374.6 300.6 374.8 307.9 374.9 297.7 375.0 304.3 375.1 304.0 375.2 305.4 375.3 302.7 375.5 296.2 375.6 299.0 375.7 301.2 375.8 303.9 375.9 303.5 376.0 297.2 376.1 307.4 376.3 302.3 376.4 300.9 376.5 303.8 376.6 302.7 376.7 300.4 376.8 302.4 376.9 304.5 377.1 300.6 377.2 302.3 377.3 304.5 377.4 298.9 377.5 299.5 377.6 304.7 377.8 300.5 377.9 294.1 378.0 301.9 378.1 301.5 378.2 298.6 378.3 297.5 378.4 297.4 378.6 295.3 378.7 298.3 378.8 293.6 378.9 294.4 379.0 299.8 379.1 302.7 379.2 300.3 379.4 305.8 379.5 298.7 379.6 297.7 379.7 301.1 379.8 298.5 379.9 296.5 380.0 301.5 380.2 298.7 380.3 301.9 380.4 298.0 380.5 299.1 380.6 303.7 380.7 299.7 380.9 300.8 381.0 304.1 381.1 300.6 381.2 295.3 381.3 297.0 381.4 298.0 381.5 293.3 381.7 294.4 381.8 295.8 381.9 295.7 382.0 295.3 382.1 296.3 382.2 300.2 382.3 289.2 382.5 297.8 382.6 292.5 382.7 296.6 382.8 290.1 382.9 294.8 383.0 298.3 383.2 296.0 383.3 290.0 383.4 291.0 383.5 294.8 383.6 295.7 383.7 300.8 383.8 298.5 384.0 295.4 384.1 293.2 384.2 298.3 384.3 292.4 384.4 299.6 384.5 299.9 384.6 301.2 384.8 298.0 384.9 298.1 385.0 294.9 385.1 292.5 385.2 294.6 385.3 296.0 385.5 300.0 385.6 295.7 385.7 299.2 385.8 294.4 385.9 291.7 386.0 292.2 386.1 292.0 386.3 293.9 386.4 292.0 386.5 297.3 386.6 292.5 386.7 295.0 386.8 296.1 386.9 297.2 387.1 293.2 387.2 293.1 387.3 294.3 387.4 296.4 387.5 294.9 387.6 293.2 387.7 292.8 387.9 291.1 388.0 298.3 388.1 288.8 388.2 290.4 388.3 295.8 388.4 288.8 388.6 291.0 388.7 288.3 388.8 292.1 388.9 296.3 389.0 295.4 389.1 291.3 389.2 296.3 389.4 293.4 389.5 288.3 389.6 293.2 389.7 296.0 389.8 290.7 389.9 291.1 390.0 291.4 390.2 291.6 390.3 293.9 390.4 288.9 390.5 287.4 390.6 289.0 390.7 294.2 390.9 287.4 391.0 292.0 391.1 286.5 391.2 293.3 391.3 285.3 391.4 289.4 391.5 283.7 391.7 289.1 391.8 290.2 391.9 288.9 392.0 287.0 392.1 289.1 392.2 287.3 392.3 286.8 392.5 288.6 392.6 288.1 392.7 290.5 392.8 287.7 392.9 286.3 393.0 285.0 393.1 290.2 393.3 287.8 393.4 287.5 393.5 285.1 393.6 291.9 393.7 285.5 393.8 284.1 394.0 284.1 394.1 285.8 394.2 285.5 394.3 284.4 394.4 285.3 394.5 287.6 394.6 283.8 394.8 288.6 394.9 286.1 395.0 281.2 395.1 280.2 395.2 284.8 395.3 281.7 395.4 283.1 395.6 283.2 395.7 285.5 395.8 283.0 395.9 284.1 396.0 280.5 396.1 288.9 396.3 284.8 396.4 279.0 396.5 282.3 396.6 280.7 396.7 282.4 396.8 285.9 396.9 286.1 397.1 286.2 397.2 282.9 397.3 284.8 397.4 282.3 397.5 284.6 397.6 287.4 397.7 289.0 397.9 289.9 398.0 282.7 398.1 286.8 398.2 285.2 398.3 290.3 398.4 288.3 398.6 290.1 398.7 285.7 398.8 286.7 398.9 287.5 399.0 284.1 399.1 289.4 399.2 289.0 399.4 283.9 399.5 284.0 399.6 285.0 399.7 283.5 399.8 286.7 399.9 284.4 400.0 282.4 400.2 284.8 400.3 283.9 400.4 280.8 400.5 286.1 400.6 284.3 400.7 283.3 400.8 280.9 401.0 287.1 401.1 279.6 401.2 282.6 401.3 283.5 401.4 285.0 401.5 281.4 401.7 281.4 401.8 282.6 401.9 278.2 402.0 277.8 402.1 274.6 402.2 281.4 402.3 280.4 402.5 278.3 402.6 282.1 402.7 278.2 402.8 276.8 402.9 279.2 403.0 280.4 403.1 279.2 403.3 286.8 403.4 282.5 403.5 281.0 403.6 273.9 403.7 277.3 403.8 283.1 404.0 286.9 404.1 282.4 404.2 283.2 404.3 283.4 404.4 280.5 404.5 283.0 404.6 280.5 404.8 280.6 404.9 283.4 405.0 279.3 405.1 288.5 405.2 284.0 405.3 285.4 405.4 283.8 405.6 283.7 405.7 285.4 405.8 283.8 405.9 283.3 406.0 289.4 406.1 278.9 406.2 282.1 406.4 277.2 406.5 282.2 406.6 288.8 406.7 286.4 406.8 290.1 406.9 282.9 407.1 280.4 407.2 281.3 407.3 282.8 407.4 286.1 407.5 284.3 407.6 283.3 407.7 283.8 407.9 281.5 408.0 287.3 408.1 285.7 408.2 286.0 408.3 282.7 408.4 280.2 408.5 280.6 408.7 285.6 408.8 287.2 408.9 281.3 409.0 282.3 409.1 287.9 409.2 282.1 409.4 277.7 409.5 278.7 409.6 287.0 409.7 284.4 409.8 287.1 409.9 282.7 410.0 285.7 410.2 282.7 410.3 282.5 410.4 279.4 410.5 280.1 410.6 291.3 410.7 284.4 410.8 285.6 411.0 282.9 411.1 283.0 411.2 276.8 411.3 279.7 411.4 280.9 411.5 281.7 411.7 286.5 411.8 280.9 411.9 283.4 412.0 283.4 412.1 278.5 412.2 279.4 412.3 280.0 412.5 285.9 412.6 281.2 412.7 288.4 412.8 278.8 412.9 277.8 413.0 278.9 413.1 280.6 413.3 279.0 413.4 280.9 413.5 278.5 413.6 278.9 413.7 281.2 413.8 284.2 413.9 280.3 414.1 282.1 414.2 276.3 414.3 282.2 414.4 286.0 414.5 281.2 414.6 281.4 414.8 285.7 414.9 285.8 415.0 287.8 415.1 284.3 415.2 279.7 415.3 284.1 415.4 282.6 415.6 283.3 415.7 282.6 415.8 287.3 415.9 279.5 416.0 285.2 416.1 287.2 416.2 287.2 416.4 280.7 416.5 282.7 416.6 288.5 416.7 287.0 416.8 281.9 416.9 282.6 417.1 288.2 417.2 276.3 417.3 280.3 417.4 285.7 417.5 281.4 417.6 281.7 417.7 280.4 417.9 282.4 418.0 281.7 418.1 288.3 418.2 287.6 418.3 280.2 418.4 280.4 418.5 289.8 418.7 286.6 418.8 280.8 418.9 286.4 419.0 277.0 419.1 286.7 419.2 288.0 419.3 284.3 419.5 286.3 419.6 282.6 419.7 286.4 419.8 279.2 419.9 281.8 420.0 284.3 420.2 284.9 420.3 275.8 420.4 284.5 420.5 286.4 420.6 283.2 420.7 287.5 420.8 286.7 421.0 283.7 421.1 281.8 421.2 281.4 421.3 278.2 421.4 283.1 421.5 280.1 421.6 284.0 421.8 284.5 421.9 285.3 422.0 285.3 422.1 281.4 422.2 279.7 422.3 287.2 422.5 281.0 422.6 280.2 422.7 282.9 422.8 286.7 422.9 289.4 423.0 278.6 423.1 279.1 423.3 283.4 423.4 279.1 423.5 276.5 423.6 289.0 423.7 286.1 423.8 284.0 423.9 281.8 424.1 278.4 424.2 274.5 424.3 284.5 424.4 282.0 424.5 283.9 424.6 282.7 424.8 281.0 424.9 283.0 425.0 273.7 425.1 285.3 425.2 286.9 425.3 282.6 425.4 288.6 425.6 285.1 425.7 277.3 425.8 284.9 425.9 275.9 426.0 287.8 426.1 280.4 426.2 284.7 426.4 281.8 426.5 283.0 426.6 276.7 426.7 284.4 426.8 279.9 426.9 280.6 427.0 280.0 427.2 276.6 427.3 277.7 427.4 284.0 427.5 281.2 427.6 283.9 427.7 282.2 427.9 279.4 428.0 280.3 428.1 279.3 428.2 275.6 428.3 286.8 428.4 281.1 428.5 284.1 428.7 277.3 428.8 283.0 428.9 282.0 429.0 281.8 429.1 276.4 429.2 276.6 429.3 281.8 429.5 275.7 429.6 276.8 429.7 278.6 429.8 280.0 429.9 276.1 430.0 282.4 430.2 280.8 430.3 278.1 430.4 288.5 430.5 279.1 430.6 278.9 430.7 276.9 430.8 278.7 431.0 276.1 431.1 280.2 431.2 276.6 431.3 276.1 431.4 277.7 431.5 283.5 431.6 276.9 431.8 282.5 431.9 279.2 432.0 281.0 432.1 279.2 432.2 280.4 432.3 284.4 432.4 277.4 432.6 280.5 432.7 285.5 432.8 281.3 432.9 278.1 433.0 288.8 433.1 277.9 433.3 283.5 433.4 278.6 433.5 281.0 433.6 280.3 433.7 288.0 433.8 286.8 433.9 276.7 434.1 286.1 434.2 282.4 434.3 285.9 434.4 282.7 434.5 288.8 434.6 288.9 434.7 284.9 434.9 286.7 435.0 284.7 435.1 284.7 435.2 279.2 435.3 287.4 435.4 284.5 435.6 280.3 435.7 285.5 435.8 285.3 435.9 283.4 436.0 284.7 436.1 283.7 436.2 281.8 436.4 279.8 436.5 283.9 436.6 283.4 436.7 285.0 436.8 284.0 436.9 282.9 437.0 284.3 437.2 282.3 437.3 282.9 437.4 282.1 437.5 281.9 437.6 283.3 437.7 280.6 437.9 281.5 438.0 277.4 438.1 285.1 438.2 282.1 438.3 283.7 438.4 284.6 438.5 284.1 438.7 279.8 438.8 278.4 438.9 280.8 439.0 289.3 439.1 287.9 439.2 284.2 439.3 287.6 439.5 285.1 439.6 281.8 439.7 284.2 439.8 281.5 439.9 285.6 440.0 287.0 440.1 284.4 440.3 277.8 440.4 287.2 440.5 284.6 440.6 284.4 440.7 283.4 440.8 280.8 441.0 283.0 441.1 278.2 441.2 279.9 441.3 281.2 441.4 277.9 441.5 290.6 441.6 283.7 441.8 286.1 441.9 285.5 442.0 287.9 442.1 283.7 442.2 284.6 442.3 285.8 442.4 283.1 442.6 285.0 442.7 284.6 442.8 284.3 442.9 275.5 443.0 282.3 443.1 284.0 443.3 281.8 443.4 277.8 443.5 278.1 443.6 284.5 443.7 287.5 443.8 285.3 443.9 277.7 444.1 278.5 444.2 281.4 444.3 280.8 444.4 280.4 444.5 279.3 444.6 278.7 444.7 277.1 444.9 279.5 445.0 285.9 445.1 280.1 445.2 278.9 445.3 282.6 445.4 283.9 445.5 281.4 445.7 281.3 445.8 280.4 445.9 277.2 446.0 281.6 446.1 280.6 446.2 278.5 446.4 280.3 446.5 279.7 446.6 282.3 446.7 278.9 446.8 281.9 446.9 287.0 447.0 274.8 447.2 283.7 447.3 291.6 447.4 285.0 447.5 277.7 447.6 282.6 447.7 279.3 447.8 281.5 448.0 278.7 448.1 280.5 448.2 282.8 448.3 279.7 448.4 283.3 448.5 283.2 448.7 273.7 448.8 275.2 448.9 285.7 449.0 286.3 449.1 278.7 449.2 282.3 449.3 278.0 449.5 280.0 449.6 276.1 449.7 278.0 449.8 282.5 449.9 279.8 450.0 274.1 450.1 277.4 450.3 275.0 450.4 279.9 450.5 279.3 450.6 274.4 450.7 278.9 450.8 280.1 450.9 275.7 451.1 270.4 451.2 279.0 451.3 278.8 451.4 275.3 451.5 274.6 451.6 275.7 451.8 276.5 451.9 276.3 452.0 267.6 452.1 274.3 452.2 272.5 452.3 273.2 452.4 280.6 452.6 285.9 452.7 281.4 452.8 276.4 452.9 282.5 453.0 276.3 453.1 280.8 453.2 278.2 453.4 276.6 453.5 283.1 453.6 280.0 453.7 282.5 453.8 279.9 453.9 280.9 454.1 277.4 454.2 277.0 454.3 283.2 454.4 275.9 454.5 286.6 454.6 276.4 454.7 278.1 454.9 279.9 455.0 276.7 455.1 281.0 455.2 277.3 455.3 276.8 455.4 280.6 455.5 279.8 455.7 276.0 455.8 276.1 455.9 277.7 456.0 274.4 456.1 281.1 456.2 276.4 456.4 276.7 456.5 271.6 456.6 271.5 456.7 269.5 456.8 276.2 456.9 277.2 457.0 274.7 457.2 276.2 457.3 277.3 457.4 271.4 457.5 279.0 457.6 273.6 457.7 276.6 457.8 269.3 458.0 276.8 458.1 273.1 458.2 269.0 458.3 271.6 458.4 266.4 458.5 283.2 458.6 282.9 458.8 278.2 458.9 272.6 459.0 274.8 459.1 267.6 459.2 276.3 459.3 275.5 459.5 281.9 459.6 277.8 459.7 277.5 459.8 275.3 459.9 277.6 460.0 272.7 460.1 279.8 460.3 270.4 460.4 273.8 460.5 275.3 460.6 274.4 460.7 273.5 460.8 279.4 460.9 274.9 461.1 274.8 461.2 278.5 461.3 276.5 461.4 270.5 461.5 277.6 461.6 275.9 461.8 270.8 461.9 272.1 462.0 279.2 462.1 276.1 462.2 274.3 462.3 274.2 462.4 277.9 462.6 273.6 462.7 275.4 462.8 271.8 462.9 276.9 463.0 277.1 463.1 276.7 463.2 277.7 463.4 271.7 463.5 280.2 463.6 271.7 463.7 272.2 463.8 271.2 463.9 273.4 464.0 272.6 464.2 276.9 464.3 274.2 464.4 275.0 464.5 272.3 464.6 277.4 464.7 277.6 464.9 276.8 465.0 274.7 465.1 279.5 465.2 274.0 465.3 272.1 465.4 282.4 465.5 277.1 465.7 274.8 465.8 277.7 465.9 277.7 466.0 275.9 466.1 276.3 466.2 272.9 466.3 276.6 466.5 279.4 466.6 278.4 466.7 279.2 466.8 276.7 466.9 278.8 467.0 279.3 467.2 280.2 467.3 286.4 467.4 277.0 467.5 275.2 467.6 276.1 467.7 278.3 467.8 273.9 468.0 283.9 468.1 279.5 468.2 274.3 468.3 277.6 468.4 280.7 468.5 283.6 468.6 277.1 468.8 278.6 468.9 284.9 469.0 279.3 469.1 275.9 469.2 277.1 469.3 278.0 469.5 281.9 469.6 279.1 469.7 281.5 469.8 275.3 469.9 278.3 470.0 272.7 470.1 286.1 470.3 277.5 470.4 271.8 470.5 277.8 470.6 277.3 470.7 281.5 470.8 276.6 470.9 276.6 471.1 279.4 471.2 278.0 471.3 273.7 471.4 281.0 471.5 276.8 471.6 272.7 471.7 271.3 471.9 272.7 472.0 271.5 472.1 273.4 472.2 274.9 472.3 270.4 472.4 277.5 472.6 279.0 472.7 275.3 472.8 271.0 472.9 273.3 473.0 274.7 473.1 272.5 473.2 267.6 473.4 269.7 473.5 274.1 473.6 273.8 473.7 278.6 473.8 277.2 473.9 279.0 474.0 275.9 474.2 280.6 474.3 277.8 474.4 276.3 474.5 273.0 474.6 275.9 474.7 275.7 474.9 271.1 475.0 276.0 475.1 272.1 475.2 274.9 475.3 274.4 475.4 276.4 475.5 274.3 475.7 275.9 475.8 276.4 475.9 266.4 476.0 269.7 476.1 274.1 476.2 276.6 476.3 276.9 476.5 271.5 476.6 278.4 476.7 279.9 476.8 276.3 476.9 278.9 477.0 275.2 477.1 276.1 477.3 274.8 477.4 275.4 477.5 277.1 477.6 278.5 477.7 277.4 477.8 275.9 478.0 273.9 478.1 278.3 478.2 273.9 478.3 276.6 478.4 283.1 478.5 273.2 478.6 276.5 478.8 276.3 478.9 281.7 479.0 273.3 479.1 277.5 479.2 270.4 479.3 273.6 479.4 278.7 479.6 276.1 479.7 275.4 479.8 277.3 479.9 275.0 480.0 273.3 480.1 276.5 480.3 275.6 480.4 276.8 480.5 274.3 480.6 274.3 480.7 277.8 480.8 279.9 480.9 276.7 481.1 278.3 481.2 277.5 481.3 276.5 481.4 275.4 481.5 278.4 481.6 279.9 481.7 277.6 481.9 274.8 482.0 278.4 482.1 276.7 482.2 279.2 482.3 276.5 482.4 278.6 482.6 276.1 482.7 276.4 482.8 274.5 482.9 278.3 483.0 271.6 483.1 278.1 483.2 274.9 483.4 275.6 483.5 276.5 483.6 278.1 483.7 280.1 483.8 273.8 483.9 276.7 484.0 277.1 484.2 276.0 484.3 269.9 484.4 272.0 484.5 272.5 484.6 269.2 484.7 272.8 484.8 269.9 485.0 274.0 485.1 270.0 485.2 272.5 485.3 265.2 485.4 274.2 485.5 271.4 485.7 273.8 485.8 266.4 485.9 276.0 486.0 272.1 486.1 272.9 486.2 271.0 486.3 275.6 486.5 272.1 486.6 273.8 486.7 271.6 486.8 268.8 486.9 272.7 487.0 267.9 487.1 271.5 487.3 272.0 487.4 271.7 487.5 274.2 487.6 276.2 487.7 275.9 487.8 270.6 488.0 274.3 488.1 275.9 488.2 274.8 488.3 276.1 488.4 269.7 488.5 268.2 488.6 270.2 488.8 270.1 488.9 275.2 489.0 277.3 489.1 279.6 489.2 278.2 489.3 279.4 489.4 277.0 489.6 274.7 489.7 275.1 489.8 277.3 489.9 272.4 490.0 277.6 490.1 279.2 490.2 274.7 490.4 274.7 490.5 277.3 490.6 275.1 490.7 277.3 490.8 279.3 490.9 272.8 491.1 276.5 491.2 270.9 491.3 272.1 491.4 270.7 491.5 270.2 491.6 275.9 491.7 271.2 491.9 271.6 492.0 273.8 492.1 281.8 492.2 268.5 492.3 265.1 492.4 271.3 492.5 273.6 492.7 269.7 492.8 272.3 492.9 272.0 493.0 274.6 493.1 271.4 493.2 270.6 493.4 272.7 493.5 274.2 493.6 278.4 493.7 272.8 493.8 276.1 493.9 276.2 494.0 273.6 494.2 270.0 494.3 273.8 494.4 273.8 494.5 270.8 494.6 267.5 494.7 272.1 494.8 269.4 495.0 277.0 495.1 271.7 495.2 272.9 495.3 272.0 495.4 273.3 495.5 270.1 495.7 270.3 495.8 265.4 495.9 267.9 496.0 272.4 496.1 268.2 496.2 269.3 496.3 271.9 496.5 273.2 496.6 269.5 496.7 265.3 496.8 271.3 496.9 261.8 497.0 266.8 497.1 266.7 497.3 268.3 497.4 272.9 497.5 269.2 497.6 273.1 497.7 269.6 497.8 271.1 497.9 260.8 498.1 262.6 498.2 267.0 498.3 265.9 498.4 271.9 498.5 269.7 498.6 267.7 498.8 266.4 498.9 271.5 499.0 271.1 499.1 268.6 499.2 277.8 499.3 270.0 499.4 268.2 499.6 270.2 499.7 269.5 499.8 268.2 499.9 272.3 500.0 262.2 500.1 269.4 500.2 270.1 500.4 264.5 500.5 267.9 500.6 271.8 500.7 272.9 500.8 269.3 500.9 268.5 501.1 269.4 501.2 271.5 501.3 270.3 501.4 269.0 501.5 265.9 501.6 265.1 501.7 270.6 501.9 272.1 502.0 272.0 502.1 267.8 502.2 266.2 502.3 265.0 502.4 271.7 502.5 273.6 502.7 269.2 502.8 268.7 502.9 264.7 503.0 274.5 503.1 269.4 503.2 276.4 503.3 266.6 503.5 274.6 503.6 274.3 503.7 270.8 503.8 267.7 503.9 267.9 504.0 270.5 504.2 270.5 504.3 268.4 504.4 272.8 504.5 266.7 504.6 275.8 504.7 272.2 504.8 270.5 505.0 269.6 505.1 274.5 505.2 266.3 505.3 277.0 505.4 271.9 505.5 277.3 505.6 270.5 505.8 271.7 505.9 262.1 506.0 274.6 506.1 270.1 507.3 286.7 507.4 285.8 507.5 277.9 507.6 283.2 507.7 288.1 507.8 285.3 507.9 281.8 508.1 281.9 508.2 281.3 508.3 279.5 508.4 274.8 508.5 275.2 508.6 280.8 508.8 274.5 508.9 277.9 509.0 279.7 509.1 275.0 509.2 278.0 509.3 283.9 509.4 273.9 509.6 279.3 509.7 275.9 509.8 275.1 509.9 279.1 510.0 272.0 510.1 274.1 510.2 270.9 510.4 273.8 510.5 274.4 510.6 270.6 510.7 271.8 510.8 273.0 510.9 270.8 511.0 272.7 511.2 272.5 511.3 271.9 511.4 274.4 511.5 272.1 511.6 265.4 511.7 267.5 511.9 266.7 512.0 271.6 512.1 268.7 512.2 267.1 512.3 267.3 512.4 272.6 512.5 270.9 512.7 268.2 512.8 267.4 512.9 264.2 513.0 269.4 513.1 264.5 513.2 265.1 513.3 267.5 513.5 263.4 513.6 269.2 513.7 269.4 513.8 262.8 513.9 266.2 514.0 264.7 514.2 266.7 514.3 266.9 514.4 265.6 514.5 263.4 514.6 268.3 514.7 260.1 514.8 262.4 515.0 269.3 515.1 262.9 515.2 260.2 515.3 267.7 515.4 264.3 515.5 262.2 515.6 263.2 515.8 264.3 515.9 257.3 516.0 263.1 516.1 261.0 516.2 262.3 516.3 263.2 516.4 259.4 516.6 263.9 516.7 257.9 516.8 256.5 516.9 261.4 517.0 266.1 517.1 266.2 517.3 268.2 517.4 269.8 517.5 266.1 517.6 274.2 517.7 265.0 517.8 265.6 517.9 271.0 518.1 263.6 518.2 270.0 518.3 258.1 518.4 264.7 518.5 265.2 518.6 263.4 518.7 268.1 518.9 266.0 519.0 262.6 519.1 260.3 519.2 261.8 519.3 259.5 519.4 259.3 519.6 257.6 519.7 257.8 519.8 258.8 519.9 260.0 520.0 259.3 520.1 261.2 520.2 255.9 520.4 251.2 520.5 260.2 520.6 259.2 520.7 258.2 520.8 264.1 520.9 258.5 521.0 258.4 521.2 259.2 521.3 260.0 521.4 262.2 521.5 265.3 521.6 259.1 521.7 261.1 521.9 253.7 522.0 259.4 522.1 260.9 522.2 261.1 522.3 260.9 522.4 259.0 522.5 257.8 522.7 256.7 522.8 256.0 522.9 253.5 523.0 259.7 523.1 259.3 523.2 259.7 523.3 256.4 523.5 256.6 523.6 258.3 523.7 253.8 523.8 260.5 523.9 258.9 524.0 257.2 524.1 257.5 524.3 260.3 524.4 258.5 524.5 253.1 524.6 260.5 524.7 256.1 524.8 257.1 525.0 259.4 525.1 259.3 525.2 255.2 525.3 261.3 525.4 258.7 525.5 261.9 525.6 259.3 525.8 255.4 525.9 263.8 526.0 258.5 526.1 262.3 526.2 259.4 526.3 260.4 526.4 267.6 526.6 255.5 526.7 265.3 526.8 260.6 526.9 260.7 527.0 259.6 527.1 255.7 527.3 261.9 527.4 263.9 527.5 261.5 527.6 269.0 527.7 260.3 527.8 258.6 527.9 259.5 528.1 261.1 528.2 253.4 528.3 259.3 528.4 267.2 528.5 260.9 528.6 256.7 528.7 256.5 528.9 261.1 529.0 255.6 529.1 256.3 529.2 259.1 529.3 263.1 529.4 256.9 529.5 260.3 529.7 259.4 529.8 265.9 529.9 266.1 530.0 259.5 530.1 262.0 530.2 257.9 530.4 261.6 530.5 256.8 530.6 257.3 530.7 259.6 530.8 259.3 530.9 260.5 531.0 262.7 531.2 261.2 531.3 266.9 531.4 258.2 531.5 265.0 531.6 258.4 531.7 263.9 531.8 256.0 532.0 257.8 532.1 258.6 532.2 256.1 532.3 256.9 532.4 257.4 532.5 260.4 532.7 259.5 532.8 260.1 532.9 259.0 533.0 255.7 533.1 262.6 533.2 257.0 533.3 257.6 533.5 263.1 533.6 257.8 533.7 252.3 533.8 259.3 533.9 258.0 534.0 259.7 534.1 262.9 534.3 265.0 534.4 260.0 534.5 255.8 534.6 262.3 534.7 266.9 534.8 262.6 535.0 258.5 535.1 257.4 535.2 262.4 535.3 260.6 535.4 261.7 535.5 257.6 535.6 257.4 535.8 258.3 535.9 259.6 536.0 262.8 536.1 264.1 536.2 256.9 536.3 260.4 536.4 258.4 536.6 264.0 536.7 258.9 536.8 256.4 536.9 263.2 537.0 263.2 537.1 261.7 537.2 253.1 537.4 256.8 537.5 259.7 537.6 261.7 537.7 256.9 537.8 256.5 537.9 263.7 538.1 256.1 538.2 250.5 538.3 255.6 538.4 267.8 538.5 256.5 538.6 257.3 538.7 258.8 538.9 255.3 539.0 256.1 539.1 264.3 539.2 257.0 539.3 258.0 539.4 260.4 539.5 259.5 539.7 259.1 539.8 260.3 539.9 254.7 540.0 260.0 540.1 261.2 540.2 255.7 540.4 265.6 540.5 255.8 540.6 259.2 540.7 260.7 540.8 258.5 540.9 252.1 541.0 258.3 541.2 258.5 541.3 251.7 541.4 256.0 541.5 264.2 541.6 255.8 541.7 258.2 541.8 256.2 542.0 255.4 542.1 259.4 542.2 254.9 542.3 260.6 542.4 256.8 542.5 258.9 542.6 255.4 542.8 253.2 542.9 254.2 543.0 256.7 543.1 258.9 543.2 257.5 543.3 255.0 543.5 253.6 543.6 257.3 543.7 256.0 543.8 254.8 543.9 258.1 544.0 253.4 544.1 254.9 544.3 254.8 544.4 256.4 544.5 257.5 544.6 256.3 544.7 252.5 544.8 259.9 544.9 253.3 545.1 257.1 545.2 254.8 545.3 254.4 545.4 254.4 545.5 253.0 545.6 254.8 545.8 253.7 545.9 250.3 546.0 250.3 546.1 250.4 546.2 253.3 546.3 252.1 546.4 251.1 546.6 253.2 546.7 252.6 546.8 251.0 546.9 252.2 547.0 255.6 547.1 249.7 547.2 254.8 547.4 249.2 547.5 251.1 547.6 256.5 547.7 250.5 547.8 249.9 547.9 252.2 548.1 254.4 548.2 253.4 548.3 252.1 548.4 249.9 548.5 254.3 548.6 253.4 548.7 253.4 548.9 256.3 549.0 252.3 549.1 254.9 549.2 252.2 549.3 253.9 549.4 256.3 549.5 253.7 549.7 256.0 549.8 258.4 549.9 256.0 550.0 256.0 550.1 253.6 550.2 260.3 550.3 253.3 550.5 256.3 550.6 258.7 550.7 259.9 550.8 254.8 550.9 256.6 551.0 254.9 551.2 257.7 551.3 260.1 551.4 259.6 551.5 256.2 551.6 252.5 551.7 254.5 551.8 261.8 552.0 261.2 552.1 252.6 552.2 261.3 552.3 260.5 552.4 260.3 552.5 259.2 552.6 255.1 552.8 260.2 552.9 256.6 553.0 256.1 553.1 257.8 553.2 255.2 553.3 256.6 553.5 256.3 553.6 255.3 553.7 256.2 553.8 254.5 553.9 256.7 554.0 257.7 554.1 259.0 554.3 256.4 554.4 258.5 554.5 255.1 554.6 255.8 554.7 260.4 554.8 253.6 554.9 257.2 555.1 262.4 555.2 258.9 555.3 257.7 555.4 258.7 555.5 260.3 555.6 259.0 555.7 260.6 555.9 256.1 556.0 256.1 556.1 254.2 556.2 258.6 556.3 259.0 556.4 257.3 556.6 259.5 556.7 257.6 556.8 258.4 556.9 256.7 557.0 253.7 557.1 250.9 557.2 254.9 557.4 255.6 557.5 261.9 557.6 256.2 557.7 255.1 557.8 255.1 557.9 254.8 558.0 253.3 558.2 258.6 558.3 256.7 558.4 253.7 558.5 256.9 558.6 254.7 558.7 256.4 558.9 254.5 559.0 255.6 559.1 256.0 559.2 258.4 559.3 255.5 559.4 253.3 559.5 258.7 559.7 255.0 559.8 253.9 559.9 246.2 560.0 257.3 560.1 252.5 560.2 255.6 560.3 255.7 560.5 255.2 560.6 256.4 560.7 252.5 560.8 256.2 560.9 254.1 561.0 251.9 561.2 250.0 561.3 254.6 561.4 257.5 561.5 249.5 561.6 254.9 561.7 251.4 561.8 252.7 562.0 255.1 562.1 259.9 562.2 249.6 562.3 252.4 562.4 258.1 562.5 249.7 562.6 256.5 562.8 251.5 562.9 250.5 563.0 248.9 563.1 253.4 563.2 251.2 563.3 255.5 563.4 246.4 563.6 250.3 563.7 248.7 563.8 252.8 563.9 252.7 564.0 249.4 564.1 255.5 564.3 246.3 564.4 253.1 564.5 250.0 564.6 249.7 564.7 252.3 564.8 251.2 564.9 252.0 565.1 244.4 565.2 252.3 565.3 248.0 565.4 247.4 565.5 246.6 565.6 250.0 565.7 245.2 565.9 251.2 566.0 247.2 566.1 245.3 566.2 249.0 566.3 244.2 566.4 250.9 566.6 247.9 566.7 250.1 566.8 246.4 566.9 249.9 567.0 250.8 567.1 251.4 567.2 248.9 567.4 248.2 567.5 244.3 567.6 252.4 567.7 249.7 567.8 252.7 567.9 250.6 568.0 250.3 568.2 254.0 568.3 256.3 568.4 252.8 568.5 252.6 568.6 250.2 568.7 251.5 568.8 253.0 569.0 250.3 569.1 253.2 569.2 256.2 569.3 258.1 569.4 258.0 569.5 246.6 569.7 254.5 569.8 256.5 569.9 252.3 570.0 257.5 570.1 256.6 570.2 253.2 570.3 257.1 570.5 253.1 570.6 257.4 570.7 256.2 570.8 255.7 570.9 252.2 571.0 256.2 571.1 254.2 571.3 256.2 571.4 254.9 571.5 254.9 571.6 254.8 571.7 256.5 571.8 255.3 572.0 253.8 572.1 254.0 572.2 250.0 572.3 253.7 572.4 250.8 572.5 249.7 572.6 254.2 572.8 254.0 572.9 251.8 573.0 255.2 573.1 251.9 573.2 252.7 573.3 254.3 573.4 252.1 573.6 248.0 573.7 246.9 573.8 255.4 573.9 249.3 574.0 240.6 574.1 249.2 574.3 246.6 574.4 245.8 574.5 251.1 574.6 252.0 574.7 250.1 574.8 244.4 574.9 246.9 576.1 291.0 576.2 294.9 576.3 287.7 576.4 296.7 576.5 290.2 576.7 291.0 576.8 293.9 576.9 291.3 577.0 289.2 577.1 292.4 577.2 281.2 577.4 293.1 577.5 292.7 577.6 288.4 577.7 288.0 577.8 289.2 577.9 288.4 578.0 281.0 578.2 283.9 578.3 285.9 578.4 290.3 578.5 284.1 578.6 287.1 578.7 281.1 578.8 285.3 579.0 284.9 579.1 279.3 579.2 287.3 579.3 282.8 579.4 286.8 579.5 287.7 579.7 283.7 579.8 282.8 579.9 285.5 580.0 283.1 580.1 282.2 580.2 282.9 580.3 287.7 580.5 285.1 580.6 279.6 580.7 286.9 580.8 283.8 580.9 283.0 581.0 283.8 581.1 281.5 581.3 277.5 581.4 279.0 581.5 281.7 581.6 282.3 581.7 280.6 581.8 280.3 581.9 288.0 582.1 281.5 582.2 279.6 582.3 276.8 582.4 279.8 582.5 279.3 582.6 274.1 582.8 275.0 582.9 278.0 583.0 275.2 583.1 279.5 583.2 275.5 583.3 282.5 583.4 279.0 583.6 276.4 583.7 280.0 583.8 276.9 583.9 280.1 584.0 278.3 584.1 278.7 584.2 276.3 584.4 274.9 584.5 279.2 584.6 281.1 584.7 276.7 584.8 281.4 584.9 279.1 585.1 277.5 585.2 282.5 585.3 280.9 585.4 277.4 585.5 279.7 585.6 276.5 585.7 282.3 585.9 279.6 586.0 274.0 586.1 274.6 586.2 276.6 586.3 277.2 586.4 276.4 586.5 275.4 586.7 277.8 586.8 278.2 586.9 278.3 587.0 279.2 587.1 270.7 587.2 277.7 587.4 276.7 587.5 274.7 587.6 272.4 587.7 275.7 587.8 278.2 587.9 273.0 588.0 267.8 588.2 271.8 588.3 274.4 588.4 272.1 588.5 277.5 588.6 278.0 588.7 276.9 588.8 278.3 589.0 274.6 589.1 273.4 589.2 270.9 589.3 277.4 589.4 275.6 589.5 275.5 589.6 278.4 589.8 276.5 589.9 271.8 590.0 274.8 590.1 272.0 590.2 274.3 590.3 274.5 590.5 273.1 590.6 279.1 590.7 272.1 590.8 276.4 590.9 269.0 591.0 272.3 591.1 274.9 591.3 274.5 591.4 276.4 591.5 275.5 591.6 275.2 591.7 274.7 591.8 275.7 591.9 273.4 592.1 272.7 592.2 272.5 592.3 274.2 592.4 275.2 592.5 273.6 592.6 277.9 592.8 275.9 592.9 278.0 593.0 273.8 593.1 270.3 593.2 271.0 593.3 273.4 593.4 269.7 593.6 271.4 593.7 274.9 593.8 274.8 593.9 277.8 594.0 265.2 594.1 267.3 594.2 267.9 594.4 274.7 594.5 266.0 594.6 274.3 594.7 270.0 594.8 273.5 594.9 270.1 595.0 273.0 595.2 271.6 595.3 266.9 595.4 271.0 595.5 270.1 595.6 271.7 595.7 270.3 595.9 266.5 596.0 271.2 596.1 264.6 596.2 279.0 596.3 274.3 596.4 270.8 596.5 267.7 596.7 275.5 596.8 275.2 596.9 271.0 597.0 269.0 597.1 269.8 597.2 275.6 597.3 271.0 597.5 271.7 597.6 267.7 597.7 269.6 597.8 273.6 597.9 268.2 598.0 273.5 598.2 270.6 598.3 270.8 598.4 273.5 598.5 269.2 598.6 266.5 598.7 268.3 598.8 268.1 599.0 270.9 599.1 267.9 599.2 272.0 599.3 269.2 599.4 267.3 599.5 268.2 599.6 266.6 599.8 265.6 599.9 267.7 600.0 261.6 600.1 269.8 600.2 263.5 600.3 264.6 600.5 263.8 600.6 267.1 600.7 265.1 600.8 264.8 600.9 268.6 601.0 268.2 601.1 265.2 601.3 265.1 601.4 266.5 601.5 261.2 601.6 275.0 601.7 266.4 601.8 263.8 601.9 268.9 602.1 269.4 602.2 273.7 602.3 270.3 602.4 265.2 602.5 269.3 602.6 266.9 602.7 264.0 602.9 269.2 603.0 268.9 603.1 271.4 603.2 271.9 603.3 266.5 603.4 270.3 603.6 273.7 603.7 270.6 603.8 270.3 603.9 270.1 604.0 272.1 604.1 268.7 604.2 264.0 604.4 265.3 604.5 266.1 604.6 270.0 604.7 273.1 604.8 271.3 604.9 267.5 605.0 268.5 605.2 274.2 605.3 272.3 605.4 268.3 605.5 270.1 605.6 270.6 605.7 268.3 605.9 269.0 606.0 267.6 606.1 273.2 606.2 268.7 606.3 266.9 606.4 269.8 606.5 265.5 606.7 270.5 606.8 263.6 606.9 268.8 607.0 267.5 607.1 269.0 607.2 271.8 607.3 259.6 607.5 266.5 607.6 270.6 607.7 269.7 607.8 270.5 607.9 268.2 608.0 271.5 608.1 266.8 608.3 266.2 608.4 264.8 608.5 265.4 608.6 265.3 608.7 272.1 608.8 268.7 609.0 267.2 609.1 267.0 609.2 265.8 609.3 270.1 609.4 268.9 609.5 259.3 609.6 267.0 609.8 270.0 609.9 269.1 610.0 269.3 610.1 269.3 610.2 271.4 610.3 267.3 610.4 269.8 610.6 265.6 610.7 270.5 610.8 269.5 610.9 266.7 611.0 268.5 611.1 269.4 611.3 270.7 611.4 263.7 611.5 269.8 611.6 265.9 611.7 271.1 611.8 263.3 611.9 269.7 612.1 265.7 612.2 262.6 612.3 265.7 612.4 270.0 612.5 269.4 612.6 268.0 612.7 266.6 612.9 268.5 613.0 268.0 613.1 264.4 613.2 270.2 613.3 266.1 613.4 273.2 613.6 270.9 613.7 268.2 613.8 267.0 613.9 272.0 614.0 266.4 614.1 269.8 614.2 269.2 614.4 270.4 614.5 269.9 614.6 272.8 614.7 273.3 614.8 268.0 614.9 271.4 615.0 271.3 615.2 262.1 615.3 267.1 615.4 270.0 615.5 268.6 615.6 271.3 615.7 268.1 615.8 261.6 616.0 270.2 616.1 270.0 616.2 269.4 616.3 269.2 616.4 268.5 616.5 266.3 616.7 269.5 616.8 268.1 616.9 269.6 617.0 275.0 617.1 263.0 617.2 268.5 617.3 269.1 617.5 266.9 617.6 271.3 617.7 272.8 617.8 263.9 617.9 263.6 618.0 266.9 618.1 267.9 618.3 262.5 618.4 265.4 618.5 262.8 618.6 268.7 618.7 264.9 618.8 270.9 619.0 269.1 619.1 266.3 619.2 266.0 619.3 268.4 619.4 268.2 619.5 267.4 619.6 265.2 619.8 271.7 619.9 269.2 620.0 270.5 620.1 264.6 620.2 272.1 620.3 270.3 620.4 267.0 620.6 264.7 620.7 266.7 620.8 270.5 620.9 270.4 621.0 264.9 621.1 259.9 621.2 268.8 621.4 265.8 621.5 268.0 621.6 265.9 621.7 264.8 621.8 264.0 621.9 265.9 622.1 270.7 622.2 265.0 622.3 265.9 622.4 267.0 622.5 266.7 622.6 261.3 622.7 269.2 622.9 268.8 623.0 258.4 623.1 267.7 623.2 262.6 623.3 265.4 623.4 272.0 623.5 266.5 623.7 268.0 623.8 264.7 623.9 264.3 624.0 266.2 624.1 268.3 624.2 266.3 624.4 268.1 624.5 264.2 624.6 262.9 624.7 268.0 624.8 262.8 624.9 257.6 625.0 263.5 625.2 265.1 625.3 263.0 625.4 262.7 625.5 265.1 625.6 260.8 625.7 265.7 625.8 262.8 626.0 261.1 626.1 264.4 626.2 263.5 626.3 262.1 626.4 265.1 626.5 261.5 626.7 256.2 626.8 263.3 626.9 261.5 627.0 262.6 627.1 264.9 627.2 267.9 627.3 260.9 627.5 266.6 627.6 264.7 627.7 260.0 627.8 264.6 627.9 264.4 628.0 267.0 628.1 268.0 628.3 267.7 628.4 264.2 628.5 263.3 628.6 266.2 628.7 265.5 628.8 266.0 628.9 267.1 629.1 266.5 629.2 266.5 629.3 262.6 629.4 264.9 629.5 263.6 629.6 265.0 629.8 264.0 629.9 267.4 630.0 269.0 630.1 264.5 630.2 269.1 630.3 263.2 630.4 262.9 630.6 262.4 630.7 266.8 630.8 264.7 630.9 264.9 631.0 265.9 631.1 263.3 631.2 264.8 631.4 265.2 631.5 263.5 631.6 266.7 631.7 265.0 631.8 268.9 631.9 266.3 632.1 264.6 632.2 266.8 632.3 260.5 632.4 264.6 632.5 267.3 632.6 265.3 632.7 264.0 632.9 262.2 633.0 265.7 633.1 266.7 633.2 264.9 633.3 264.3 633.4 262.0 633.5 263.9 633.7 270.4 633.8 259.0 633.9 264.7 634.0 260.4 634.1 261.5 634.2 264.2 634.3 259.6 634.5 264.6 634.6 263.0 634.7 263.5 634.8 263.6 634.9 261.0 635.0 263.2 635.2 260.9 635.3 262.9 635.4 260.8 635.5 260.5 635.6 260.3 635.7 262.7 635.8 261.1 636.0 259.9 636.1 258.0 636.2 263.4 636.3 263.7 636.4 259.7 636.5 260.0 636.6 258.9 636.8 264.1 636.9 258.2 637.0 263.5 637.1 258.9 637.2 259.3 637.3 259.9 637.5 259.3 637.6 258.7 637.7 259.3 637.8 257.3 637.9 259.7 638.0 262.0 638.1 254.4 638.3 258.4 638.4 260.9 638.5 262.4 638.6 259.4 638.7 255.6 638.8 259.4 638.9 259.8 639.1 260.3 639.2 261.0 639.3 261.3 639.4 262.5 639.5 258.7 639.6 255.5 639.8 260.6 639.9 261.6 640.0 259.0 640.1 263.4 640.2 258.6 640.3 263.0 640.4 260.7 640.6 262.8 640.7 256.7 640.8 261.3 640.9 260.9 641.0 263.2 641.1 256.9 641.2 256.9 641.4 255.3 641.5 258.6 641.6 261.7 641.7 258.9 641.8 258.1 641.9 261.1 642.0 259.4 642.2 255.8 642.3 257.0 642.4 256.6 642.5 262.3 642.6 261.9 642.7 260.3 642.9 261.7 643.0 264.2 643.1 258.7 643.2 258.2 643.3 258.8 643.4 263.2" fill="none" stroke="none" marker-start="url(#m_teal)" marker-mid="url(#m_teal)" marker-end="url(#m_teal)"/>
<polyline points="91.85,201.41 95.48,201.13 99.11,200.86 102.74,200.58 106.36,200.31 109.99,200.03 113.62,199.75 117.25,199.48 120.88,199.20 124.51,198.93 128.14,198.65 131.77,198.38 135.39,198.10 139.02,197.83 142.65,197.55 146.28,197.28 149.91,197.00 153.54,196.73 157.17,196.45 160.80,196.18 160.80,204.32 160.82,204.32 160.82,204.32 160.82,204.32 160.82,204.32 160.83,204.32 160.83,204.32 160.83,204.32 160.84,204.32 160.84,204.32 160.85,204.32 160.85,204.32 160.86,204.31 160.86,204.31 160.87,204.31 160.88,204.31 160.89,204.31 160.90,204.31 160.91,204.31 160.92,204.31 160.94,204.31 160.95,202.82 160.97,201.05 160.99,199.29 161.01,197.55 161.03,195.82 161.06,194.10 161.09,192.40 161.12,190.71 161.15,189.04 161.19,187.37 161.24,185.72 161.28,184.08 161.34,182.45 161.40,180.84 161.46,179.24 161.54,177.65 161.62,176.07 161.71,174.50 161.81,172.94 161.92,171.40 162.04,169.86 162.18,168.34 162.33,166.83 162.50,165.33 162.69,163.83 162.89,162.35 163.12,160.88 163.38,159.42 163.66,157.96 163.98,156.52 164.33,155.08 164.72,153.65 165.15,152.23 165.63,150.81 166.16,149.41 166.75,148.00 167.41,146.61 168.13,145.22 168.94,143.83 169.83,142.45 170.83,141.07 171.93,139.69 173.16,138.31 174.52,136.93 176.03,135.55 177.70,134.17 179.56,132.79 181.62,131.39 183.91,129.99 186.46,128.58 189.28,127.16 192.41,125.73 195.89,124.28 199.75,122.80 204.03,121.31 208.79,119.79 214.07,118.23 219.93,116.65 226.43,115.02 233.65,113.35 241.66,111.62 250.56,109.84 260.43,107.99 271.39,106.07 283.55,104.07 297.05,101.97 312.04,99.76 328.68,97.45 347.14,95.00 367.64,92.40 367.64,282.08 367.66,282.08 367.66,282.07 367.66,282.07 367.66,282.07 367.67,282.07 367.67,282.07 367.67,282.07 367.68,282.07 367.68,282.07 367.69,282.07 367.69,282.07 367.70,282.07 367.70,282.07 367.71,282.07 367.72,282.07 367.72,282.07 367.73,282.07 367.74,282.07 367.75,282.07 367.77,282.07 367.78,282.07 367.79,280.41 367.81,278.71 367.83,277.03 367.85,275.37 367.87,273.71 367.90,272.07 367.92,270.44 367.95,268.82 367.99,267.21 368.02,265.62 368.06,264.03 368.11,262.46 368.16,260.90 368.21,259.35 368.27,257.81 368.34,256.28 368.41,254.76 368.49,253.26 368.58,251.76 368.68,250.28 368.79,248.80 368.91,247.33 369.04,245.88 369.19,244.43 369.35,243.00 369.53,241.57 369.73,240.15 369.95,238.74 370.19,237.34 370.46,235.95 370.76,234.56 371.08,233.18 371.45,231.82 371.85,230.45 372.29,229.10 372.77,227.75 373.31,226.40 373.91,225.07 374.57,223.73 375.30,222.40 376.10,221.08 376.99,219.76 377.97,218.44 379.06,217.12 380.25,215.80 381.58,214.48 383.04,213.16 384.66,211.84 386.45,210.51 388.42,209.18 390.60,207.84 393.02,206.49 395.68,205.13 398.63,203.76 401.88,202.38 405.48,200.97 409.45,199.55 413.84,198.10 418.69,196.63 424.05,195.13 429.97,193.59 436.52,192.01 443.75,190.39 451.74,188.72 460.58,186.99 470.33,185.20 481.12,183.34 493.03,181.40 506.20,179.38 506.20,178.13 506.22,178.13 506.22,178.13 506.23,178.13 506.23,178.13 506.23,178.13 506.23,178.13 506.24,178.13 506.24,178.13 506.24,178.13 506.25,178.13 506.25,178.13 506.26,178.13 506.26,178.12 506.27,178.12 506.27,178.12 506.28,178.12 506.29,178.12 506.30,178.12 506.30,178.12 506.31,178.12 506.32,178.12 506.34,178.12 506.35,177.70 506.36,176.14 506.38,174.58 506.39,173.03 506.41,171.50 506.43,169.97 506.46,168.46 506.48,166.95 506.51,165.46 506.54,163.97 506.57,162.50 506.60,161.03 506.64,159.57 506.68,158.13 506.73,156.69 506.78,155.27 506.84,153.85 506.90,152.44 506.96,151.04 507.04,149.65 507.12,148.27 507.20,146.90 507.30,145.53 507.41,144.18 507.52,142.83 507.65,141.49 507.79,140.16 507.94,138.84 508.11,137.53 508.29,136.22 508.49,134.92 508.71,133.63 508.96,132.35 509.22,131.07 509.51,129.80 509.83,128.53 510.18,127.27 510.56,126.02 510.98,124.77 511.44,123.53 511.95,122.30 512.50,121.06 513.11,119.83 513.77,118.61 514.50,117.39 515.30,116.17 516.18,114.95 517.14,113.74 518.19,112.52 519.35,111.31 520.62,110.09 522.00,108.88 523.53,107.66 525.20,106.43 527.03,105.21 529.03,103.97 531.23,102.73 533.64,101.48 536.29,100.22 539.19,98.95 542.36,97.66 545.85,96.36 549.67,95.04 553.86,93.70 558.45,92.34 563.48,90.94 569.00,89.52 575.05,88.07 575.05,266.35 575.07,266.35 575.08,266.35 575.08,266.35 575.08,266.35 575.08,266.35 575.09,266.35 575.09,266.35 575.09,266.35 575.09,266.35 575.10,266.35 575.10,266.35 575.11,266.35 575.11,266.35 575.12,266.34 575.12,266.34 575.13,266.34 575.14,266.34 575.15,266.34 575.16,266.34 575.16,266.34 575.18,266.34 575.19,266.34 575.20,265.95 575.21,264.39 575.23,262.83 575.25,261.29 575.26,259.75 575.28,258.23 575.31,256.71 575.33,255.21 575.36,253.71 575.39,252.23 575.42,250.76 575.45,249.29 575.49,247.84 575.53,246.39 575.58,244.96 575.63,243.53 575.68,242.11 575.75,240.71 575.81,239.31 575.88,237.92 575.96,236.54 576.05,235.17 576.15,233.81 576.25,232.45 576.37,231.11 576.49,229.77 576.63,228.44 576.79,227.12 576.95,225.80 577.13,224.50 577.33,223.20 577.55,221.91 577.80,220.63 578.06,219.35 578.35,218.08 578.67,216.81 579.01,215.56 579.39,214.30 579.81,213.06 580.27,211.82 580.77,210.58 581.32,209.35 581.92,208.12 582.59,206.90 583.31,205.68 584.11,204.46 584.98,203.24 585.93,202.03 586.98,200.82 588.13,199.60 589.39,198.39 590.77,197.17 592.28,195.95 593.94,194.73 595.75,193.51 597.75,192.27 599.93,191.03 602.33,189.79 604.95,188.53 607.83,187.26 610.99,185.98 614.44,184.68 618.24,183.36 622.39,182.02 626.95,180.66 631.95,179.27 637.42,177.85 643.43,176.40" fill="none" stroke="rgba(175,110,205,0.6)" stroke-width="5" stroke-linejoin="round" stroke-linecap="square"/>
<polyline points="91.85,242.22 95.48,241.94 99.11,241.67 102.74,241.40 106.36,241.12 109.99,240.85 113.62,240.57 117.25,240.30 120.88,240.02 124.51,239.75 128.14,239.47 131.77,239.20 135.39,238.92 139.02,238.65 142.65,238.37 146.28,238.10 149.91,237.82 153.54,237.55 157.17,237.27 160.80,237.00 160.80,261.34 160.82,261.34 160.82,261.34 160.82,261.34 160.82,261.34 160.83,261.34 160.83,261.34 160.83,261.34 160.84,261.34 160.84,261.34 160.85,261.34 160.85,261.34 160.86,261.34 160.86,261.34 160.87,261.34 160.88,261.34 160.89,261.34 160.90,261.34 160.91,261.33 160.92,261.33 160.94,261.33 160.95,260.09 160.97,258.62 160.99,257.17 161.01,255.72 161.03,254.28 161.06,252.86 161.09,251.45 161.12,250.04 161.15,248.65 161.19,247.27 161.24,245.90 161.28,244.54 161.34,243.19 161.40,241.84 161.46,240.51 161.54,239.19 161.62,237.88 161.71,236.58 161.81,235.28 161.92,234.00 162.04,232.73 162.18,231.46 162.33,230.20 162.50,228.95 162.69,227.71 162.89,226.48 163.12,225.25 163.38,224.03 163.66,222.82 163.98,221.62 164.33,220.42 164.72,219.23 165.15,218.04 165.63,216.86 166.16,215.69 166.75,214.52 167.41,213.35 168.13,212.19 168.94,211.03 169.83,209.87 170.83,208.71 171.93,207.55 173.16,206.39 174.52,205.23 176.03,204.06 177.70,202.90 179.56,201.72 181.62,200.54 183.91,199.35 186.46,198.15 189.28,196.93 192.41,195.70 195.89,194.45 199.75,193.18 204.03,191.88 208.79,190.56 214.07,189.20 219.93,187.81 226.43,186.37 233.65,184.89 241.66,183.36 250.56,181.77 260.43,180.10 271.39,178.37 283.55,176.55 297.05,174.64 312.04,172.62 328.68,170.48 347.14,168.21 367.64,165.79 367.64,305.66 367.66,305.66 367.66,305.66 367.66,305.66 367.66,305.66 367.67,305.66 367.67,305.66 367.67,305.66 367.68,305.66 367.68,305.66 367.69,305.66 367.69,305.66 367.70,305.66 367.70,305.66 367.71,305.66 367.72,305.66 367.72,305.66 367.73,305.66 367.74,305.66 367.75,305.65 367.77,305.65 367.78,305.65 367.79,304.27 367.81,302.87 367.83,301.47 367.85,300.09 367.87,298.72 367.90,297.35 367.92,296.00 367.95,294.65 367.99,293.32 368.02,291.99 368.06,290.68 368.11,289.37 368.16,288.08 368.21,286.79 368.27,285.51 368.34,284.24 368.41,282.98 368.49,281.73 368.58,280.49 368.68,279.25 368.79,278.02 368.91,276.81 369.04,275.60 369.19,274.39 369.35,273.20 369.53,272.01 369.73,270.83 369.95,269.66 370.19,268.49 370.46,267.33 370.76,266.18 371.08,265.03 371.45,263.89 371.85,262.75 372.29,261.62 372.77,260.50 373.31,259.37 373.91,258.26 374.57,257.14 375.30,256.03 376.10,254.92 376.99,253.81 377.97,252.70 379.06,251.59 380.25,250.48 381.58,249.37 383.04,248.26 384.66,247.14 386.45,246.01 388.42,244.88 390.60,243.74 393.02,242.59 395.68,241.43 398.63,240.26 401.88,239.06 405.48,237.85 409.45,236.62 413.84,235.36 418.69,234.08 424.05,232.76 429.97,231.41 436.52,230.01 443.75,228.58 451.74,227.09 460.58,225.54 470.33,223.93 481.12,222.25 493.03,220.49 506.20,218.64 506.20,235.19 506.22,235.19 506.22,235.19 506.23,235.19 506.23,235.19 506.23,235.19 506.23,235.19 506.24,235.19 506.24,235.18 506.24,235.18 506.25,235.18 506.25,235.18 506.26,235.18 506.26,235.18 506.27,235.18 506.27,235.18 506.28,235.18 506.29,235.18 506.30,235.18 506.30,235.18 506.31,235.18 506.32,235.18 506.34,235.18 506.35,234.83 506.36,233.53 506.38,232.24 506.39,230.95 506.41,229.68 506.43,228.41 506.46,227.15 506.48,225.90 506.51,224.66 506.54,223.43 506.57,222.21 506.60,220.99 506.64,219.78 506.68,218.58 506.73,217.39 506.78,216.20 506.84,215.02 506.90,213.85 506.96,212.69 507.04,211.54 507.12,210.39 507.20,209.25 507.30,208.12 507.41,206.99 507.52,205.87 507.65,204.76 507.79,203.65 507.94,202.55 508.11,201.46 508.29,200.37 508.49,199.29 508.71,198.22 508.96,197.15 509.22,196.08 509.51,195.02 509.83,193.97 510.18,192.92 510.56,191.88 510.98,190.83 511.44,189.80 511.95,188.76 512.50,187.73 513.11,186.71 513.77,185.68 514.50,184.66 515.30,183.64 516.18,182.62 517.14,181.59 518.19,180.57 519.35,179.55 520.62,178.52 522.00,177.50 523.53,176.46 525.20,175.43 527.03,174.39 529.03,173.34 531.23,172.28 533.64,171.21 536.29,170.13 539.19,169.04 542.36,167.93 545.85,166.80 549.67,165.66 553.86,164.49 558.45,163.30 563.48,162.08 569.00,160.83 575.05,159.55 575.05,289.96 575.07,289.96 575.08,289.95 575.08,289.95 575.08,289.95 575.08,289.95 575.09,289.95 575.09,289.95 575.09,289.95 575.09,289.95 575.10,289.95 575.10,289.95 575.11,289.95 575.11,289.95 575.12,289.95 575.12,289.95 575.13,289.95 575.14,289.95 575.15,289.95 575.16,289.95 575.16,289.95 575.18,289.95 575.19,289.95 575.20,289.63 575.21,288.33 575.23,287.03 575.25,285.75 575.26,284.48 575.28,283.21 575.31,281.95 575.33,280.70 575.36,279.46 575.39,278.23 575.42,277.01 575.45,275.79 575.49,274.58 575.53,273.38 575.58,272.19 575.63,271.01 575.68,269.83 575.75,268.66 575.81,267.50 575.88,266.35 575.96,265.20 576.05,264.06 576.15,262.93 576.25,261.80 576.37,260.68 576.49,259.57 576.63,258.47 576.79,257.37 576.95,256.27 577.13,255.19 577.33,254.11 577.55,253.03 577.80,251.96 578.06,250.90 578.35,249.84 578.67,248.79 579.01,247.74 579.39,246.70 579.81,245.66 580.27,244.62 580.77,243.59 581.32,242.56 581.92,241.53 582.59,240.51 583.31,239.48 584.11,238.46 584.98,237.44 585.93,236.42 586.98,235.40 588.13,234.38 589.39,233.36 590.77,232.33 592.28,231.30 593.94,230.26 595.75,229.22 597.75,228.17 599.93,227.12 602.33,226.05 604.95,224.97 607.83,223.88 610.99,222.78 614.44,221.65 618.24,220.51 622.39,219.35 626.95,218.16 631.95,216.94 637.42,215.69 643.43,214.41" fill="none" stroke="rgba(210,183,113,0.6)" stroke-width="5" stroke-linejoin="round" stroke-linecap="square"/>
<polyline points="91.85,290.90 95.48,290.62 99.11,290.34 102.74,290.05 106.36,289.77 109.99,289.49 113.62,289.21 117.25,288.93 120.88,288.65 124.51,288.37 128.14,288.08 131.77,287.80 135.39,287.52 139.02,287.24 142.65,286.96 146.28,286.68 149.91,286.40 153.54,286.12 157.17,285.83 160.80,285.55 160.80,345.02 160.82,345.02 160.82,345.02 160.82,345.02 160.82,345.02 160.83,345.02 160.83,345.02 160.83,345.02 160.84,345.02 160.84,345.02 160.85,345.02 160.85,345.02 160.86,345.02 160.86,345.02 160.87,345.02 160.88,345.02 160.89,345.01 160.90,345.01 160.91,345.01 160.92,345.01 160.94,345.01 160.95,343.98 160.97,342.76 160.99,341.54 161.01,340.34 161.03,339.14 161.06,337.96 161.09,336.78 161.12,335.61 161.15,334.45 161.19,333.30 161.24,332.16 161.28,331.02 161.34,329.90 161.40,328.78 161.46,327.67 161.54,326.57 161.62,325.48 161.71,324.39 161.81,323.31 161.92,322.24 162.04,321.18 162.18,320.12 162.33,319.07 162.50,318.03 162.69,317.00 162.89,315.97 163.12,314.94 163.38,313.93 163.66,312.91 163.98,311.91 164.33,310.90 164.72,309.91 165.15,308.91 165.63,307.92 166.16,306.94 166.75,305.96 167.41,304.97 168.13,304.00 168.94,303.02 169.83,302.04 170.83,301.06 171.93,300.08 173.16,299.10 174.52,298.11 176.03,297.12 177.70,296.12 179.56,295.12 181.62,294.10 183.91,293.08 186.46,292.04 189.28,290.99 192.41,289.92 195.89,288.83 199.75,287.71 204.03,286.57 208.79,285.40 214.07,284.19 219.93,282.95 226.43,281.66 233.65,280.32 241.66,278.93 250.56,277.48 260.43,275.95 271.39,274.35 283.55,272.66 297.05,270.87 312.04,268.97 328.68,266.95 347.14,264.79 367.64,262.48 367.64,339.72 367.66,339.72 367.66,339.72 367.66,339.72 367.66,339.72 367.67,339.72 367.67,339.72 367.67,339.72 367.68,339.72 367.68,339.72 367.69,339.71 367.69,339.71 367.70,339.71 367.70,339.71 367.71,339.71 367.72,339.71 367.72,339.71 367.73,339.71 367.74,339.71 367.75,339.71 367.77,339.71 367.78,339.71 367.79,338.56 367.81,337.39 367.83,336.23 367.85,335.08 367.87,333.93 367.90,332.80 367.92,331.67 367.95,330.55 367.99,329.44 368.02,328.33 368.06,327.24 368.11,326.15 368.16,325.07 368.21,324.00 368.27,322.93 368.34,321.88 368.41,320.82 368.49,319.78 368.58,318.75 368.68,317.72 368.79,316.69 368.91,315.68 369.04,314.67 369.19,313.66 369.35,312.67 369.53,311.68 369.73,310.69 369.95,309.71 370.19,308.74 370.46,307.77 370.76,306.80 371.08,305.84 371.45,304.89 371.85,303.94 372.29,302.99 372.77,302.04 373.31,301.10 373.91,300.16 374.57,299.23 375.30,298.29 376.10,297.35 376.99,296.42 377.97,295.48 379.06,294.54 380.25,293.60 381.58,292.66 383.04,291.71 384.66,290.75 386.45,289.79 388.42,288.82 390.60,287.84 393.02,286.85 395.68,285.84 398.63,284.82 401.88,283.78 405.48,282.72 409.45,281.64 413.84,280.53 418.69,279.39 424.05,278.21 429.97,277.00 436.52,275.75 443.75,274.44 451.74,273.09 460.58,271.67 470.33,270.19 481.12,268.63 493.03,267.00 506.20,265.27 506.20,318.25 506.22,318.24 506.22,318.24 506.23,318.24 506.23,318.24 506.23,318.24 506.23,318.24 506.24,318.24 506.24,318.24 506.24,318.24 506.25,318.24 506.25,318.24 506.26,318.24 506.26,318.24 506.27,318.24 506.27,318.24 506.28,318.24 506.29,318.24 506.30,318.24 506.30,318.24 506.31,318.24 506.32,318.24 506.34,318.24 506.35,317.95 506.36,316.86 506.38,315.79 506.39,314.72 506.41,313.66 506.43,312.60 506.46,311.55 506.48,310.51 506.51,309.48 506.54,308.45 506.57,307.43 506.60,306.42 506.64,305.41 506.68,304.41 506.73,303.42 506.78,302.43 506.84,301.45 506.90,300.48 506.96,299.51 507.04,298.55 507.12,297.59 507.20,296.64 507.30,295.69 507.41,294.75 507.52,293.82 507.65,292.89 507.79,291.97 507.94,291.05 508.11,290.14 508.29,289.23 508.49,288.33 508.71,287.43 508.96,286.54 509.22,285.65 509.51,284.76 509.83,283.88 510.18,283.00 510.56,282.13 510.98,281.25 511.44,280.38 511.95,279.52 512.50,278.65 513.11,277.79 513.77,276.92 514.50,276.06 515.30,275.20 516.18,274.34 517.14,273.47 518.19,272.61 519.35,271.74 520.62,270.87 522.00,269.99 523.53,269.11 525.20,268.22 527.03,267.33 529.03,266.43 531.23,265.51 533.64,264.59 536.29,263.65 539.19,262.70 542.36,261.73 545.85,260.74 549.67,259.74 553.86,258.70 558.45,257.65 563.48,256.56 569.00,255.44 575.05,254.28 575.05,323.64 575.07,323.64 575.08,323.64 575.08,323.64 575.08,323.64 575.08,323.64 575.09,323.64 575.09,323.64 575.09,323.64 575.09,323.64 575.10,323.64 575.10,323.64 575.11,323.64 575.11,323.63 575.12,323.63 575.12,323.63 575.13,323.63 575.14,323.63 575.15,323.63 575.16,323.63 575.16,323.63 575.18,323.63 575.19,323.63 575.20,323.36 575.21,322.28 575.23,321.20 575.25,320.14 575.26,319.07 575.28,318.02 575.31,316.97 575.33,315.93 575.36,314.90 575.39,313.87 575.42,312.85 575.45,311.84 575.49,310.84 575.53,309.84 575.58,308.84 575.63,307.86 575.68,306.88 575.75,305.90 575.81,304.93 575.88,303.97 575.96,303.02 576.05,302.07 576.15,301.12 576.25,300.18 576.37,299.25 576.49,298.32 576.63,297.40 576.79,296.48 576.95,295.57 577.13,294.67 577.33,293.76 577.55,292.87 577.80,291.97 578.06,291.08 578.35,290.20 578.67,289.32 579.01,288.44 579.39,287.56 579.81,286.69 580.27,285.82 580.77,284.96 581.32,284.09 581.92,283.23 582.59,282.37 583.31,281.50 584.11,280.64 584.98,279.78 585.93,278.92 586.98,278.05 588.13,277.18 589.39,276.31 590.77,275.44 592.28,274.56 593.94,273.67 595.75,272.78 597.75,271.88 599.93,270.97 602.33,270.04 604.95,269.11 607.83,268.16 610.99,267.19 614.44,266.21 618.24,265.20 622.39,264.17 626.95,263.12 631.95,262.03 637.42,260.91 643.43,259.76" fill="none" stroke="rgba(113,197,172,0.6)" stroke-width="5" stroke-linejoin="round" stroke-linecap="square"/>
</g>
<rect x="64.4" y="4.3" width="606.30" height="357.70" fill="none" stroke="#000" stroke-width="1"/>
<path d="M91.85 362.0v4.4M187.61 362.0v4.4M283.37 362.0v4.4M379.13 362.0v4.4M474.89 362.0v4.4M570.65 362.0v4.4M666.41 362.0v4.4M64.4 4.30h-4.4M64.4 31.82h-4.4M64.4 59.33h-4.4M64.4 86.84h-4.4M64.4 114.36h-4.4M64.4 141.88h-4.4M64.4 169.39h-4.4M64.4 196.91h-4.4M64.4 224.42h-4.4M64.4 251.94h-4.4M64.4 279.45h-4.4M64.4 306.97h-4.4M64.4 334.48h-4.4M64.4 362.00h-4.4" stroke="#000" stroke-width="1" fill="none"/>
<text x="56.2" y="8.90" font-size="13.5" letter-spacing="0.15" text-anchor="end" fill="#000">0.10</text>
<text x="56.2" y="36.42" font-size="13.5" letter-spacing="0.15" text-anchor="end" fill="#000">0.09</text>
<text x="56.2" y="63.93" font-size="13.5" letter-spacing="0.15" text-anchor="end" fill="#000">0.08</text>
<text x="56.2" y="91.44" font-size="13.5" letter-spacing="0.15" text-anchor="end" fill="#000">0.07</text>
<text x="56.2" y="118.96" font-size="13.5" letter-spacing="0.15" text-anchor="end" fill="#000">0.06</text>
<text x="56.2" y="146.48" font-size="13.5" letter-spacing="0.15" text-anchor="end" fill="#000">0.05</text>
<text x="56.2" y="173.99" font-size="13.5" letter-spacing="0.15" text-anchor="end" fill="#000">0.04</text>
<text x="56.2" y="201.51" font-size="13.5" letter-spacing="0.15" text-anchor="end" fill="#000">0.03</text>
<text x="56.2" y="229.02" font-size="13.5" letter-spacing="0.15" text-anchor="end" fill="#000">0.02</text>
<text x="56.2" y="256.54" font-size="13.5" letter-spacing="0.15" text-anchor="end" fill="#000">0.01</text>
<text x="56.2" y="284.05" font-size="13.5" letter-spacing="0.15" text-anchor="end" fill="#000">0.00</text>
<text x="56.2" y="311.57" font-size="13.5" letter-spacing="0.15" text-anchor="end" fill="#000">0.01</text>
<text x="56.2" y="339.08" font-size="13.5" letter-spacing="0.15" text-anchor="end" fill="#000">0.02</text>
<text x="56.2" y="366.60" font-size="13.5" letter-spacing="0.15" text-anchor="end" fill="#000">0.03</text>
<rect x="160.20" y="377.3" width="208.04" height="357.40" fill="#fadcd8"/>
<path d="M160.80 377.3V734.7M367.64 377.3V734.7" stroke="#f8cac5" stroke-width="1.2"/>
<rect x="505.60" y="377.3" width="70.05" height="357.40" fill="#fadcd8"/>
<path d="M506.20 377.3V734.7M575.05 377.3V734.7" stroke="#f8cac5" stroke-width="1.2"/>
<path d="M91.85 377.3V734.7M187.61 377.3V734.7M283.37 377.3V734.7M379.13 377.3V734.7M474.89 377.3V734.7M570.65 377.3V734.7M666.41 377.3V734.7M64.4 417.76H670.7M64.4 466.95H670.7M64.4 516.15H670.7M64.4 565.35H670.7M64.4 614.54H670.7M64.4 663.74H670.7M64.4 712.93H670.7" stroke="#b0b0b0" stroke-width="1" fill="none"/>
<g clip-path="url(#c2)">
<line x1="91.85" y1="639.14" x2="643.43" y2="393.16" stroke="#83002f" stroke-width="3.65" stroke-dasharray="13.57 5.87" />
<polyline points="91.85,472.61 160.80,472.61 160.80,717.85 160.82,717.85 160.82,717.85 160.82,717.85 160.82,717.85 160.83,717.85 160.83,717.85 160.83,717.85 160.84,717.85 160.84,717.85 160.85,717.85 160.85,717.85 160.86,717.85 160.86,717.85 160.87,717.85 160.88,717.85 160.89,717.85 160.90,717.85 160.91,717.85 160.92,717.85 160.94,717.85 160.95,714.25 160.97,709.98 160.99,705.75 161.01,701.55 161.03,697.38 161.06,693.24 161.09,689.14 161.12,685.06 161.15,681.02 161.19,677.01 161.24,673.03 161.28,669.08 161.34,665.17 161.40,661.28 161.46,657.42 161.54,653.60 161.62,649.80 161.71,646.03 161.81,642.29 161.92,638.58 162.04,634.90 162.18,631.25 162.33,627.62 162.50,624.03 162.69,620.46 162.89,616.92 163.12,613.41 163.38,609.92 163.66,606.46 163.98,603.03 164.33,599.62 164.72,596.24 165.15,592.89 165.63,589.56 166.16,586.26 166.75,582.99 167.41,579.74 168.13,576.51 168.94,573.31 169.83,570.14 170.83,566.99 171.93,563.86 173.16,560.76 174.52,557.68 176.03,554.63 177.70,551.60 179.56,548.59 181.62,545.61 183.91,542.65 186.46,539.71 189.28,536.80 192.41,533.90 195.89,531.04 199.75,528.19 204.03,525.36 208.79,522.56 214.07,519.78 219.93,517.02 226.43,514.28 233.65,511.56 241.66,508.87 250.56,506.19 260.43,503.54 271.39,500.90 283.55,498.29 297.05,495.70 312.04,493.12 328.68,490.57 347.14,488.04 367.64,485.52 367.64,717.85 367.66,717.85 367.66,717.85 367.66,717.85 367.66,717.85 367.67,717.85 367.67,717.85 367.67,717.85 367.68,717.85 367.68,717.85 367.69,717.85 367.69,717.85 367.70,717.85 367.70,717.85 367.71,717.85 367.72,717.85 367.72,717.85 367.73,717.85 367.74,717.85 367.75,717.85 367.77,717.85 367.78,717.85 367.79,713.85 367.81,709.77 367.83,705.72 367.85,701.69 367.87,697.70 367.90,693.74 367.92,689.81 367.95,685.91 367.99,682.03 368.02,678.19 368.06,674.37 368.11,670.58 368.16,666.82 368.21,663.09 368.27,659.38 368.34,655.71 368.41,652.06 368.49,648.43 368.58,644.84 368.68,641.27 368.79,637.73 368.91,634.21 369.04,630.72 369.19,627.26 369.35,623.82 369.53,620.40 369.73,617.02 369.95,613.65 370.19,610.31 370.46,607.00 370.76,603.71 371.08,600.45 371.45,597.21 371.85,593.99 372.29,590.80 372.77,587.63 373.31,584.49 373.91,581.37 374.57,578.27 375.30,575.19 376.10,572.14 376.99,569.11 377.97,566.10 379.06,563.12 380.25,560.15 381.58,557.21 383.04,554.29 384.66,551.40 386.45,548.52 388.42,545.67 390.60,542.83 393.02,540.02 395.68,537.23 398.63,534.46 401.88,531.71 405.48,528.98 409.45,526.27 413.84,523.58 418.69,520.91 424.05,518.26 429.97,515.63 436.52,513.02 443.75,510.43 451.74,507.86 460.58,505.30 470.33,502.77 481.12,500.25 493.03,497.76 506.20,495.28 506.20,717.85 506.22,717.85 506.22,717.85 506.23,717.85 506.23,717.85 506.23,717.85 506.23,717.85 506.24,717.85 506.24,717.85 506.24,717.85 506.25,717.85 506.25,717.85 506.26,717.85 506.26,717.85 506.27,717.85 506.27,717.85 506.28,717.85 506.29,717.85 506.30,717.85 506.30,717.85 506.31,717.85 506.32,717.85 506.34,717.85 506.35,716.85 506.36,713.07 506.38,709.32 506.39,705.58 506.41,701.88 506.43,698.20 506.46,694.55 506.48,690.92 506.51,687.31 506.54,683.73 506.57,680.18 506.60,676.65 506.64,673.14 506.68,669.66 506.73,666.20 506.78,662.76 506.84,659.35 506.90,655.96 506.96,652.60 507.04,649.25 507.12,645.93 507.20,642.64 507.30,639.36 507.41,636.11 507.52,632.88 507.65,629.67 507.79,626.49 507.94,623.32 508.11,620.18 508.29,617.06 508.49,613.96 508.71,610.88 508.96,607.83 509.22,604.79 509.51,601.78 509.83,598.78 510.18,595.81 510.56,592.85 510.98,589.92 511.44,587.00 511.95,584.11 512.50,581.24 513.11,578.38 513.77,575.55 514.50,572.73 515.30,569.94 516.18,567.16 517.14,564.40 518.19,561.66 519.35,558.94 520.62,556.24 522.00,553.55 523.53,550.89 525.20,548.24 527.03,545.61 529.03,543.00 531.23,540.41 533.64,537.83 536.29,535.28 539.19,532.74 542.36,530.21 545.85,527.71 549.67,525.22 553.86,522.75 558.45,520.29 563.48,517.86 569.00,515.44 575.05,513.03 575.05,717.85 575.07,717.85 575.08,717.85 575.08,717.85 575.08,717.85 575.08,717.85 575.09,717.85 575.09,717.85 575.09,717.85 575.09,717.85 575.10,717.85 575.10,717.85 575.11,717.85 575.11,717.85 575.12,717.85 575.12,717.85 575.13,717.85 575.14,717.85 575.15,717.85 575.16,717.85 575.16,717.85 575.18,717.85 575.19,717.85 575.20,716.92 575.21,713.14 575.23,709.39 575.25,705.66 575.26,701.96 575.28,698.28 575.31,694.63 575.33,691.01 575.36,687.40 575.39,683.83 575.42,680.27 575.45,676.75 575.49,673.24 575.53,669.76 575.58,666.30 575.63,662.87 575.68,659.46 575.75,656.07 575.81,652.71 575.88,649.37 575.96,646.05 576.05,642.76 576.15,639.49 576.25,636.24 576.37,633.01 576.49,629.80 576.63,626.62 576.79,623.46 576.95,620.32 577.13,617.20 577.33,614.10 577.55,611.02 577.80,607.97 578.06,604.93 578.35,601.92 578.67,598.92 579.01,595.95 579.39,593.00 579.81,590.07 580.27,587.15 580.77,584.26 581.32,581.39 581.92,578.54 582.59,575.70 583.31,572.89 584.11,570.09 584.98,567.32 585.93,564.56 586.98,561.82 588.13,559.10 589.39,556.40 590.77,553.72 592.28,551.06 593.94,548.41 595.75,545.78 597.75,543.17 599.93,540.58 602.33,538.01 604.95,535.45 607.83,532.91 610.99,530.39 614.44,527.88 618.24,525.40 622.39,522.93 626.95,520.47 631.95,518.04 637.42,515.62 643.43,513.21" fill="none" stroke="#2f8400" stroke-width="3.65" stroke-linejoin="round" stroke-linecap="square"/>
<polyline points="91.85,639.14 160.80,639.14 160.80,393.16 367.64,393.16 367.64,639.14 506.20,639.14 506.20,393.16 575.05,393.16 575.05,639.14 643.43,639.14" fill="none" stroke="#05318a" stroke-width="3.65" stroke-dasharray="3.67 6.05" stroke-dashoffset="-0.6"/>
</g>
<rect x="64.4" y="377.3" width="606.30" height="357.40" fill="none" stroke="#000" stroke-width="1"/>
<path d="M91.85 734.7v4.4M187.61 734.7v4.4M283.37 734.7v4.4M379.13 734.7v4.4M474.89 734.7v4.4M570.65 734.7v4.4M666.41 734.7v4.4M64.4 417.76h-4.4M64.4 466.95h-4.4M64.4 516.15h-4.4M64.4 565.35h-4.4M64.4 614.54h-4.4M64.4 663.74h-4.4M64.4 712.93h-4.4" stroke="#000" stroke-width="1" fill="none"/>
<text x="56.2" y="422.36" font-size="13.5" letter-spacing="0.15" text-anchor="end" fill="#000">0.4</text>
<text x="56.2" y="471.55" font-size="13.5" letter-spacing="0.15" text-anchor="end" fill="#000">0.2</text>
<text x="56.2" y="520.75" font-size="13.5" letter-spacing="0.15" text-anchor="end" fill="#000">0.0</text>
<text x="56.2" y="569.95" font-size="13.5" letter-spacing="0.15" text-anchor="end" fill="#000">0.2</text>
<text x="56.2" y="619.14" font-size="13.5" letter-spacing="0.15" text-anchor="end" fill="#000">0.4</text>
<text x="56.2" y="668.34" font-size="13.5" letter-spacing="0.15" text-anchor="end" fill="#000">0.6</text>
<text x="56.2" y="717.53" font-size="13.5" letter-spacing="0.15" text-anchor="end" fill="#000">0.8</text>
<rect x="19.80" y="306.77" width="8.2" height="1.1" fill="#000"/>
<rect x="19.80" y="334.28" width="8.2" height="1.1" fill="#000"/>
<rect x="19.80" y="361.80" width="8.2" height="1.1" fill="#000"/>
<rect x="27.30" y="565.15" width="8.2" height="1.1" fill="#000"/>
<rect x="27.30" y="614.34" width="8.2" height="1.1" fill="#000"/>
<rect x="27.30" y="663.54" width="8.2" height="1.1" fill="#000"/>
<rect x="27.30" y="712.73" width="8.2" height="1.1" fill="#000"/>
<text x="92.15" y="752.6" font-size="13.5" letter-spacing="0.45" text-anchor="middle" fill="#000">0</text>
<text x="187.91" y="752.6" font-size="13.5" letter-spacing="0.45" text-anchor="middle" fill="#000">5000</text>
<text x="283.67" y="752.6" font-size="13.5" letter-spacing="0.45" text-anchor="middle" fill="#000">10000</text>
<text x="379.43" y="752.6" font-size="13.5" letter-spacing="0.45" text-anchor="middle" fill="#000">15000</text>
<text x="475.19" y="752.6" font-size="13.5" letter-spacing="0.45" text-anchor="middle" fill="#000">20000</text>
<text x="570.95" y="752.6" font-size="13.5" letter-spacing="0.45" text-anchor="middle" fill="#000">25000</text>
<text x="666.71" y="752.6" font-size="13.5" letter-spacing="0.45" text-anchor="middle" fill="#000">30000</text>
<text x="367.8" y="768.5" font-size="13" letter-spacing="0.5" text-anchor="middle">Time [s]</text>
<text transform="translate(19.2,555.8) rotate(-90)" font-size="13" letter-spacing="0.5" text-anchor="middle">Amplitude</text>
<text transform="translate(8.6,183.3) rotate(-90)" font-size="13" letter-spacing="0.5" text-anchor="middle"><tspan font-style="italic">η</tspan> [%]</text>
<text x="70.8" y="24.6" font-size="21" font-weight="bold" style="stroke-width:0.05px">a.</text>
<text x="70.3" y="400" font-size="21" font-weight="bold" style="stroke-width:0.05px">b.</text>
<rect x="433.5" y="10.5" width="230.8" height="61.7" rx="2.4" fill="rgba(255,255,255,0.8)" stroke="#cccccc" stroke-width="1"/>
<circle cx="450.7" cy="21.7" r="1.6" fill="#7b3796"/>
<g fill="#000"><text x="472.3" y="24.6" font-size="13.5">θ</text><text x="485" y="24.6" font-size="13.5" textLength="8" lengthAdjust="spacingAndGlyphs">=</text><text x="498.8" y="24.6" font-size="13.5">40°</text><text x="519.9" y="24.6" font-size="13.5">;</text><text x="527.8" y="24.6" font-size="13.5" font-style="italic">β</text><text x="539.1" y="24.6" font-size="13.5" textLength="8" lengthAdjust="spacingAndGlyphs">=</text><text x="551.1" y="24.6" font-size="13.5">0.03%</text><text x="589.0" y="24.6" font-size="13.5">;</text><text x="597.6" y="24.6" font-size="13.5" font-style="italic">δ</text><text x="608.3" y="24.6" font-size="13.5" textLength="8.3" lengthAdjust="spacingAndGlyphs">=</text><text x="620.6" y="24.6" font-size="13.5">0.04%</text></g>
<rect x="449.1" y="39.699999999999996" width="3.2" height="3.2" fill="none" stroke="#8c783c" stroke-width="1.3"/>
<g fill="#000"><text x="472.3" y="44.2" font-size="13.5">θ</text><text x="485" y="44.2" font-size="13.5" textLength="8" lengthAdjust="spacingAndGlyphs">=</text><text x="498.8" y="44.2" font-size="13.5">72°</text><text x="519.9" y="44.2" font-size="13.5">;</text><text x="527.8" y="44.2" font-size="13.5" font-style="italic">β</text><text x="539.1" y="44.2" font-size="13.5" textLength="8" lengthAdjust="spacingAndGlyphs">=</text><text x="551.1" y="44.2" font-size="13.5">0.02%</text><text x="589.0" y="44.2" font-size="13.5">;</text><text x="597.6" y="44.2" font-size="13.5" font-style="italic">δ</text><text x="608.3" y="44.2" font-size="13.5" textLength="8.3" lengthAdjust="spacingAndGlyphs">=</text><text x="620.6" y="44.2" font-size="13.5">0.03%</text></g>
<circle cx="450.7" cy="60.9" r="1.55" fill="none" stroke="#3c8c78" stroke-width="1.3"/>
<g fill="#000"><text x="472.3" y="63.8" font-size="13.5">θ</text><text x="485" y="63.8" font-size="13.5" textLength="8" lengthAdjust="spacingAndGlyphs">=</text><text x="498.8" y="63.8" font-size="13.5">90°</text><text x="519.9" y="63.8" font-size="13.5">;</text><text x="527.8" y="63.8" font-size="13.5" font-style="italic">β</text><text x="539.1" y="63.8" font-size="13.5" textLength="8" lengthAdjust="spacingAndGlyphs">=</text><text x="551.1" y="63.8" font-size="13.5">0.00%</text><text x="589.0" y="63.8" font-size="13.5">;</text><text x="597.6" y="63.8" font-size="13.5" font-style="italic">δ</text><text x="608.3" y="63.8" font-size="13.5" textLength="8.3" lengthAdjust="spacingAndGlyphs">=</text><text x="620.6" y="63.8" font-size="13.5">0.03%</text></g>
<rect x="70.5" y="666.6" width="223.5" height="61.6" rx="2.4" fill="rgba(255,255,255,0.8)" stroke="#cccccc" stroke-width="1"/>
<line x1="75" y1="676.8" x2="100" y2="676.8" stroke="#83002f" stroke-width="3.65" stroke-dasharray="13.57 5.87"/>
<line x1="75" y1="696.3" x2="100" y2="696.3" stroke="#2f8400" stroke-width="3.65" stroke-linecap="square"/>
<line x1="75" y1="715.9" x2="100" y2="715.9" stroke="#05318a" stroke-width="3.65" stroke-dasharray="3.67 6.05"/>
<g fill="#000"><text x="109.9" y="680.6" font-size="13.5" font-style="italic" textLength="6.6" lengthAdjust="spacingAndGlyphs">L</text><text x="117.0" y="680.6" font-size="13.5">(</text><text x="121.3" y="680.6" font-size="13.5" font-style="italic">t</text><text x="127.0" y="680.6" font-size="13.5">)</text><text x="131.6" y="680.6" font-size="13.5">:</text><text x="139.2" y="680.6" font-size="13.5" letter-spacing="0.19">Linear component</text></g>
<g fill="#000"><text x="109.8" y="700.1" font-size="13.5" font-style="italic" textLength="8.0" lengthAdjust="spacingAndGlyphs">R</text><text x="117.6" y="700.1" font-size="13.5">(</text><text x="122.5" y="700.1" font-size="13.5" font-style="italic">t</text><text x="128.2" y="700.1" font-size="13.5">)</text><text x="132.5" y="700.1" font-size="13.5">:</text><text x="140.8" y="700.1" font-size="13.5" letter-spacing="0.1">Nonclassical component</text></g>
<g fill="#000"><text x="108.8" y="719.6" font-size="13.5" font-style="italic" textLength="8.2" lengthAdjust="spacingAndGlyphs">C</text><text x="117.6" y="719.6" font-size="13.5">(</text><text x="122.5" y="719.6" font-size="13.5" font-style="italic">t</text><text x="128.2" y="719.6" font-size="13.5">)</text><text x="132.5" y="719.6" font-size="13.5">:</text><text x="140.4" y="719.6" font-size="13.5" letter-spacing="0.14">Classical component</text></g>
</svg></body></html>
